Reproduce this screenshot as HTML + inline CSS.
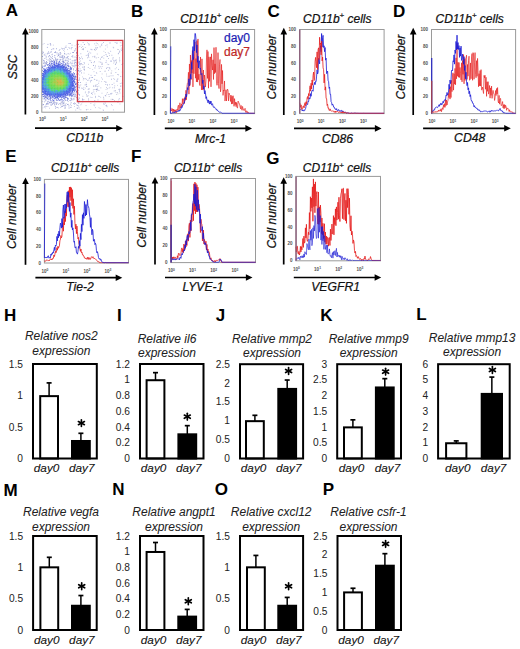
<!DOCTYPE html>
<html><head><meta charset="utf-8"><title>Figure</title>
<style>
html,body{margin:0;padding:0;background:#fff;}
body{width:520px;height:649px;overflow:hidden;}
svg{display:block;font-family:"Liberation Sans", sans-serif;}
</style></head>
<body>
<svg width="520" height="649" viewBox="0 0 520 649">
<rect width="520" height="649" fill="#fff"/>
<text x="5.7" y="16.4" font-size="17" font-weight="bold" font-style="normal" text-anchor="start" fill="#000" >A</text>
<text x="131.1" y="16.9" font-size="17" font-weight="bold" font-style="normal" text-anchor="start" fill="#000" >B</text>
<text x="267.5" y="17.2" font-size="17" font-weight="bold" font-style="normal" text-anchor="start" fill="#000" >C</text>
<text x="392.9" y="17" font-size="17" font-weight="bold" font-style="normal" text-anchor="start" fill="#000" >D</text>
<text x="5.2" y="162.1" font-size="17" font-weight="bold" font-style="normal" text-anchor="start" fill="#000" >E</text>
<text x="130.9" y="162.4" font-size="17" font-weight="bold" font-style="normal" text-anchor="start" fill="#000" >F</text>
<text x="266.3" y="163.8" font-size="17" font-weight="bold" font-style="normal" text-anchor="start" fill="#000" >G</text>
<text x="4" y="320.8" font-size="17" font-weight="bold" font-style="normal" text-anchor="start" fill="#000" >H</text>
<text x="117.1" y="320.8" font-size="17" font-weight="bold" font-style="normal" text-anchor="start" fill="#000" >I</text>
<text x="215.7" y="320.9" font-size="17" font-weight="bold" font-style="normal" text-anchor="start" fill="#000" >J</text>
<text x="320.2" y="320.9" font-size="17" font-weight="bold" font-style="normal" text-anchor="start" fill="#000" >K</text>
<text x="416.2" y="320.2" font-size="17" font-weight="bold" font-style="normal" text-anchor="start" fill="#000" >L</text>
<text x="3.5" y="496" font-size="17" font-weight="bold" font-style="normal" text-anchor="start" fill="#000" >M</text>
<text x="112.3" y="495.3" font-size="17" font-weight="bold" font-style="normal" text-anchor="start" fill="#000" >N</text>
<text x="214.8" y="495.3" font-size="17" font-weight="bold" font-style="normal" text-anchor="start" fill="#000" >O</text>
<text x="322.8" y="495.3" font-size="17" font-weight="bold" font-style="normal" text-anchor="start" fill="#000" >P</text>
<line x1="25.4" y1="32.8" x2="25.4" y2="114.5" stroke="#000" stroke-width="1.7"/>
<polygon points="25.4,27.8 22.1,34.4 28.7,34.4" fill="#000"/>
<line x1="35" y1="128.2" x2="117.8" y2="128.2" stroke="#000" stroke-width="1.7"/>
<polygon points="122.8,128.2 116.2,124.9 116.2,131.5" fill="#000"/>
<rect x="41.8" y="29.5" width="82.7" height="82.7" fill="none" stroke="#9a9a9a" stroke-width="1"/>
<text x="38.5" y="113.7" font-size="4.5" font-weight="bold" font-style="normal" text-anchor="end" fill="#505050" >0</text>
<text x="38.5" y="97.6" font-size="4.5" font-weight="bold" font-style="normal" text-anchor="end" fill="#505050" >200</text>
<text x="38.5" y="81.5" font-size="4.5" font-weight="bold" font-style="normal" text-anchor="end" fill="#505050" >400</text>
<text x="38.5" y="65.4" font-size="4.5" font-weight="bold" font-style="normal" text-anchor="end" fill="#505050" >600</text>
<text x="38.5" y="49.3" font-size="4.5" font-weight="bold" font-style="normal" text-anchor="end" fill="#505050" >800</text>
<text x="38.5" y="33.2" font-size="4.5" font-weight="bold" font-style="normal" text-anchor="end" fill="#505050" >1000</text>
<text x="42.5" y="121" font-size="4.5" font-weight="bold" fill="#505050" text-anchor="middle">10<tspan font-size="3.3" dy="-1.8">0</tspan></text>
<text x="63.3" y="121" font-size="4.5" font-weight="bold" fill="#505050" text-anchor="middle">10<tspan font-size="3.3" dy="-1.8">1</tspan></text>
<text x="84.1" y="121" font-size="4.5" font-weight="bold" fill="#505050" text-anchor="middle">10<tspan font-size="3.3" dy="-1.8">2</tspan></text>
<text x="104.9" y="121" font-size="4.5" font-weight="bold" fill="#505050" text-anchor="middle">10<tspan font-size="3.3" dy="-1.8">3</tspan></text>
<g><rect x="43.78" y="43.07" width="0.8" height="0.8" fill="#b4b7da"/><rect x="49.84" y="43.22" width="0.8" height="0.8" fill="#7880c8"/><rect x="68.63" y="43.17" width="0.8" height="0.8" fill="#6a74c8"/><rect x="69.97" y="43.18" width="0.8" height="0.8" fill="#8a92cf"/><rect x="42.5" y="43.84" width="0.8" height="0.8" fill="#b4b7da"/><rect x="47.53" y="43.89" width="0.8" height="0.8" fill="#7880c8"/><rect x="76.74" y="43.9" width="0.8" height="0.8" fill="#6a74c8"/><rect x="49.93" y="44.5" width="0.8" height="0.8" fill="#7880c8"/><rect x="50.46" y="44.51" width="0.8" height="0.8" fill="#a4a9d6"/><rect x="52.89" y="44.68" width="0.8" height="0.8" fill="#b4b7da"/><rect x="71.62" y="44.7" width="0.8" height="0.8" fill="#8a92cf"/><rect x="65.68" y="45.51" width="0.8" height="0.8" fill="#b4b7da"/><rect x="74.62" y="45.45" width="0.8" height="0.8" fill="#b4b7da"/><rect x="46.89" y="46.9" width="0.8" height="0.8" fill="#7880c8"/><rect x="64.82" y="46.8" width="0.8" height="0.8" fill="#9ca2d2"/><rect x="65.63" y="46.88" width="0.8" height="0.8" fill="#8a92cf"/><rect x="68.46" y="47.04" width="0.8" height="0.8" fill="#b4b7da"/><rect x="71.54" y="47.04" width="0.8" height="0.8" fill="#6a74c8"/><rect x="77.46" y="46.77" width="0.8" height="0.8" fill="#9ca2d2"/><rect x="61.19" y="47.77" width="0.8" height="0.8" fill="#b4b7da"/><rect x="69.38" y="47.76" width="0.8" height="0.8" fill="#8a92cf"/><rect x="76.92" y="47.52" width="0.8" height="0.8" fill="#7880c8"/><rect x="52.75" y="48.4" width="0.8" height="0.8" fill="#6a74c8"/><rect x="53.46" y="48.47" width="0.8" height="0.8" fill="#b4b7da"/><rect x="55.97" y="48.38" width="0.8" height="0.8" fill="#7880c8"/><rect x="61.97" y="48.49" width="0.8" height="0.8" fill="#7880c8"/><rect x="63.39" y="48.29" width="0.8" height="0.8" fill="#a4a9d6"/><rect x="63.95" y="48.55" width="0.8" height="0.8" fill="#8a92cf"/><rect x="70.89" y="48.45" width="0.8" height="0.8" fill="#8a92cf"/><rect x="75.22" y="48.49" width="0.8" height="0.8" fill="#6a74c8"/><rect x="51.35" y="49.27" width="0.8" height="0.8" fill="#8a92cf"/><rect x="59.48" y="49.19" width="0.8" height="0.8" fill="#9ca2d2"/><rect x="66.97" y="49.23" width="0.8" height="0.8" fill="#b4b7da"/><rect x="58.77" y="50.05" width="0.8" height="0.8" fill="#9ca2d2"/><rect x="63.33" y="50" width="0.8" height="0.8" fill="#b4b7da"/><rect x="74.67" y="49.84" width="0.8" height="0.8" fill="#9ca2d2"/><rect x="73.92" y="50.56" width="0.8" height="0.8" fill="#7880c8"/><rect x="42.46" y="51.4" width="0.8" height="0.8" fill="#9ca2d2"/><rect x="48.24" y="51.34" width="0.8" height="0.8" fill="#9ca2d2"/><rect x="50.7" y="51.31" width="0.8" height="0.8" fill="#7880c8"/><rect x="55.12" y="51.48" width="0.8" height="0.8" fill="#6a74c8"/><rect x="64.21" y="51.4" width="0.8" height="0.8" fill="#b4b7da"/><rect x="43.08" y="52" width="0.8" height="0.8" fill="#a4a9d6"/><rect x="47.74" y="52.22" width="0.8" height="0.8" fill="#a4a9d6"/><rect x="50.47" y="52.2" width="0.8" height="0.8" fill="#9ca2d2"/><rect x="54.41" y="52.05" width="0.8" height="0.8" fill="#6a74c8"/><rect x="55.17" y="52.25" width="0.8" height="0.8" fill="#9ca2d2"/><rect x="56.58" y="52.2" width="0.8" height="0.8" fill="#9ca2d2"/><rect x="59.74" y="52.03" width="0.8" height="0.8" fill="#7880c8"/><rect x="60.21" y="52.1" width="0.8" height="0.8" fill="#b4b7da"/><rect x="72.35" y="52.14" width="0.8" height="0.8" fill="#6a74c8"/><rect x="73.15" y="52.09" width="0.8" height="0.8" fill="#7880c8"/><rect x="76.01" y="52.03" width="0.8" height="0.8" fill="#6a74c8"/><rect x="42.35" y="52.78" width="0.8" height="0.8" fill="#6a74c8"/><rect x="47.67" y="53.04" width="0.8" height="0.8" fill="#7880c8"/><rect x="49.25" y="52.76" width="0.8" height="0.8" fill="#a4a9d6"/><rect x="60.41" y="53.02" width="0.8" height="0.8" fill="#9ca2d2"/><rect x="64.01" y="53.03" width="0.8" height="0.8" fill="#9ca2d2"/><rect x="67.71" y="53.03" width="0.8" height="0.8" fill="#9ca2d2"/><rect x="70.02" y="52.82" width="0.8" height="0.8" fill="#b4b7da"/><rect x="76.05" y="52.84" width="0.8" height="0.8" fill="#7880c8"/><rect x="44.72" y="53.62" width="0.8" height="0.8" fill="#b4b7da"/><rect x="46.8" y="53.55" width="0.8" height="0.8" fill="#7880c8"/><rect x="52.06" y="53.76" width="0.8" height="0.8" fill="#a4a9d6"/><rect x="56.66" y="53.56" width="0.8" height="0.8" fill="#8a92cf"/><rect x="58.04" y="53.61" width="0.8" height="0.8" fill="#7880c8"/><rect x="59.47" y="53.61" width="0.8" height="0.8" fill="#9ca2d2"/><rect x="64.01" y="53.53" width="0.8" height="0.8" fill="#8a92cf"/><rect x="65.46" y="53.65" width="0.8" height="0.8" fill="#b4b7da"/><rect x="68.66" y="53.69" width="0.8" height="0.8" fill="#a4a9d6"/><rect x="43.81" y="54.53" width="0.8" height="0.8" fill="#6a74c8"/><rect x="51.47" y="54.33" width="0.8" height="0.8" fill="#9ca2d2"/><rect x="58.13" y="54.4" width="0.8" height="0.8" fill="#b4b7da"/><rect x="59.46" y="54.51" width="0.8" height="0.8" fill="#9ca2d2"/><rect x="60.25" y="54.28" width="0.8" height="0.8" fill="#b4b7da"/><rect x="66.4" y="54.37" width="0.8" height="0.8" fill="#b4b7da"/><rect x="44.74" y="55.23" width="0.8" height="0.8" fill="#b4b7da"/><rect x="49.12" y="55.25" width="0.8" height="0.8" fill="#6a74c8"/><rect x="54.41" y="55.12" width="0.8" height="0.8" fill="#6a74c8"/><rect x="57.98" y="55.17" width="0.8" height="0.8" fill="#6a74c8"/><rect x="61.74" y="55.27" width="0.8" height="0.8" fill="#9ca2d2"/><rect x="62.68" y="55.2" width="0.8" height="0.8" fill="#b4b7da"/><rect x="72.38" y="55.1" width="0.8" height="0.8" fill="#a4a9d6"/><rect x="76.14" y="55.2" width="0.8" height="0.8" fill="#a4a9d6"/><rect x="77.74" y="55.14" width="0.8" height="0.8" fill="#b4b7da"/><rect x="42.22" y="55.97" width="0.8" height="0.8" fill="#6a74c8"/><rect x="46.14" y="55.83" width="0.8" height="0.8" fill="#a4a9d6"/><rect x="48.25" y="55.94" width="0.8" height="0.8" fill="#a4a9d6"/><rect x="49.95" y="55.92" width="0.8" height="0.8" fill="#a4a9d6"/><rect x="52.08" y="55.9" width="0.8" height="0.8" fill="#8a92cf"/><rect x="57.23" y="55.82" width="0.8" height="0.8" fill="#b4b7da"/><rect x="59.52" y="56" width="0.8" height="0.8" fill="#a4a9d6"/><rect x="61.88" y="55.77" width="0.8" height="0.8" fill="#7880c8"/><rect x="64.16" y="55.94" width="0.8" height="0.8" fill="#7880c8"/><rect x="67.79" y="55.97" width="0.8" height="0.8" fill="#9ca2d2"/><rect x="71.61" y="55.98" width="0.8" height="0.8" fill="#6a74c8"/><rect x="45.38" y="56.58" width="0.8" height="0.8" fill="#b4b7da"/><rect x="48.41" y="56.56" width="0.8" height="0.8" fill="#b4b7da"/><rect x="54.31" y="56.76" width="0.8" height="0.8" fill="#8a92cf"/><rect x="59.64" y="56.69" width="0.8" height="0.8" fill="#7880c8"/><rect x="61.16" y="56.77" width="0.8" height="0.8" fill="#6a74c8"/><rect x="61.95" y="56.67" width="0.8" height="0.8" fill="#a4a9d6"/><rect x="62.57" y="56.61" width="0.8" height="0.8" fill="#6a74c8"/><rect x="67.05" y="56.63" width="0.8" height="0.8" fill="#6a74c8"/><rect x="72.33" y="56.6" width="0.8" height="0.8" fill="#a4a9d6"/><rect x="73.79" y="56.64" width="0.8" height="0.8" fill="#9ca2d2"/><rect x="75.47" y="56.67" width="0.8" height="0.8" fill="#8a92cf"/><rect x="46.25" y="57.36" width="0.8" height="0.8" fill="#b4b7da"/><rect x="50.54" y="57.31" width="0.8" height="0.8" fill="#b4b7da"/><rect x="51.35" y="57.45" width="0.8" height="0.8" fill="#8a92cf"/><rect x="55.15" y="57.55" width="0.8" height="0.8" fill="#b4b7da"/><rect x="59.75" y="57.28" width="0.8" height="0.8" fill="#9ca2d2"/><rect x="62.49" y="57.38" width="0.8" height="0.8" fill="#8a92cf"/><rect x="64.09" y="57.33" width="0.8" height="0.8" fill="#9ca2d2"/><rect x="64.7" y="57.5" width="0.8" height="0.8" fill="#a4a9d6"/><rect x="66.21" y="57.47" width="0.8" height="0.8" fill="#7880c8"/><rect x="67.13" y="57.27" width="0.8" height="0.8" fill="#a4a9d6"/><rect x="76.03" y="57.41" width="0.8" height="0.8" fill="#8a92cf"/><rect x="76.78" y="57.48" width="0.8" height="0.8" fill="#9ca2d2"/><rect x="79.04" y="57.36" width="0.8" height="0.8" fill="#7880c8"/><rect x="44.46" y="58.15" width="0.8" height="0.8" fill="#8a92cf"/><rect x="49" y="58.09" width="0.8" height="0.8" fill="#a4a9d6"/><rect x="52.13" y="58.03" width="0.8" height="0.8" fill="#8a92cf"/><rect x="55.22" y="58.24" width="0.8" height="0.8" fill="#a4a9d6"/><rect x="62.72" y="58.22" width="0.8" height="0.8" fill="#6a74c8"/><rect x="67.71" y="58.01" width="0.8" height="0.8" fill="#8a92cf"/><rect x="42.47" y="58.88" width="0.8" height="0.8" fill="#b4b7da"/><rect x="45.99" y="58.87" width="0.8" height="0.8" fill="#b4b7da"/><rect x="49.89" y="58.86" width="0.8" height="0.8" fill="#7880c8"/><rect x="55.04" y="58.85" width="0.8" height="0.8" fill="#8a92cf"/><rect x="56.53" y="58.82" width="0.8" height="0.8" fill="#7880c8"/><rect x="57.44" y="58.82" width="0.8" height="0.8" fill="#7880c8"/><rect x="59.71" y="59.03" width="0.8" height="0.8" fill="#6a74c8"/><rect x="60.46" y="58.97" width="0.8" height="0.8" fill="#9ca2d2"/><rect x="68.56" y="58.86" width="0.8" height="0.8" fill="#8a92cf"/><rect x="70.17" y="58.81" width="0.8" height="0.8" fill="#9ca2d2"/><rect x="76.11" y="58.78" width="0.8" height="0.8" fill="#9ca2d2"/><rect x="79.19" y="58.93" width="0.8" height="0.8" fill="#b4b7da"/><rect x="47.54" y="59.61" width="0.8" height="0.8" fill="#9ca2d2"/><rect x="48.49" y="59.53" width="0.8" height="0.8" fill="#b4b7da"/><rect x="49.07" y="59.74" width="0.8" height="0.8" fill="#a4a9d6"/><rect x="50.66" y="59.74" width="0.8" height="0.8" fill="#7880c8"/><rect x="52.88" y="59.72" width="0.8" height="0.8" fill="#7880c8"/><rect x="53.48" y="59.77" width="0.8" height="0.8" fill="#6a74c8"/><rect x="55.11" y="59.66" width="0.8" height="0.8" fill="#a4a9d6"/><rect x="55.83" y="59.58" width="0.8" height="0.8" fill="#b4b7da"/><rect x="56.73" y="59.61" width="0.8" height="0.8" fill="#6a74c8"/><rect x="61.94" y="59.56" width="0.8" height="0.8" fill="#7880c8"/><rect x="62.74" y="59.54" width="0.8" height="0.8" fill="#7880c8"/><rect x="64.88" y="59.75" width="0.8" height="0.8" fill="#7880c8"/><rect x="65.6" y="59.77" width="0.8" height="0.8" fill="#7880c8"/><rect x="66.97" y="59.8" width="0.8" height="0.8" fill="#b4b7da"/><rect x="74.54" y="59.54" width="0.8" height="0.8" fill="#7880c8"/><rect x="75.45" y="59.74" width="0.8" height="0.8" fill="#6a74c8"/><rect x="42.99" y="60.36" width="0.8" height="0.8" fill="#6a74c8"/><rect x="43.88" y="60.37" width="0.8" height="0.8" fill="#a4a9d6"/><rect x="51.41" y="60.4" width="0.8" height="0.8" fill="#6a74c8"/><rect x="53.73" y="60.31" width="0.8" height="0.8" fill="#b4b7da"/><rect x="55.86" y="60.36" width="0.8" height="0.8" fill="#6a74c8"/><rect x="59.65" y="60.36" width="0.8" height="0.8" fill="#6a74c8"/><rect x="63.42" y="60.44" width="0.8" height="0.8" fill="#a4a9d6"/><rect x="64.75" y="60.5" width="0.8" height="0.8" fill="#b4b7da"/><rect x="66.48" y="60.4" width="0.8" height="0.8" fill="#b4b7da"/><rect x="67.81" y="60.42" width="0.8" height="0.8" fill="#b4b7da"/><rect x="71.67" y="60.48" width="0.8" height="0.8" fill="#b4b7da"/><rect x="72.48" y="60.47" width="0.8" height="0.8" fill="#9ca2d2"/><rect x="73.77" y="60.34" width="0.8" height="0.8" fill="#7880c8"/><rect x="74.68" y="60.54" width="0.8" height="0.8" fill="#a4a9d6"/><rect x="43.99" y="61.05" width="0.8" height="0.8" fill="#b4b7da"/><rect x="46.11" y="61.07" width="0.8" height="0.8" fill="#8a92cf"/><rect x="49.13" y="61.27" width="0.8" height="0.8" fill="#9ca2d2"/><rect x="49.96" y="61.16" width="0.8" height="0.8" fill="#8a92cf"/><rect x="50.61" y="61.17" width="0.8" height="0.8" fill="#b4b7da"/><rect x="51.24" y="61.09" width="0.8" height="0.8" fill="#7880c8"/><rect x="52.02" y="61.15" width="0.8" height="0.8" fill="#4a58d0"/><rect x="53.66" y="61.14" width="0.8" height="0.8" fill="#3a48d0"/><rect x="54.27" y="61.3" width="0.8" height="0.8" fill="#4a58d0"/><rect x="56.48" y="61.04" width="0.8" height="0.8" fill="#5560c8"/><rect x="58.99" y="61.03" width="0.8" height="0.8" fill="#3040d0"/><rect x="61.83" y="61.01" width="0.8" height="0.8" fill="#7880c8"/><rect x="62.66" y="61.11" width="0.8" height="0.8" fill="#6a74c8"/><rect x="63.24" y="61.29" width="0.8" height="0.8" fill="#6a74c8"/><rect x="67.96" y="61.06" width="0.8" height="0.8" fill="#9ca2d2"/><rect x="44.52" y="62.04" width="0.8" height="0.8" fill="#8a92cf"/><rect x="45.4" y="62.01" width="0.8" height="0.8" fill="#b4b7da"/><rect x="46.11" y="61.77" width="0.8" height="0.8" fill="#8a92cf"/><rect x="46.89" y="62" width="0.8" height="0.8" fill="#a4a9d6"/><rect x="53.74" y="62" width="0.8" height="0.8" fill="#4a58d0"/><rect x="54.35" y="61.78" width="0.8" height="0.8" fill="#3040d0"/><rect x="55.92" y="61.87" width="0.8" height="0.8" fill="#3040d0"/><rect x="58.07" y="61.77" width="0.8" height="0.8" fill="#5560c8"/><rect x="59.56" y="62" width="0.8" height="0.8" fill="#5560c8"/><rect x="63.48" y="61.84" width="0.8" height="0.8" fill="#7880c8"/><rect x="64.03" y="61.98" width="0.8" height="0.8" fill="#9ca2d2"/><rect x="66.95" y="61.83" width="0.8" height="0.8" fill="#7880c8"/><rect x="70.04" y="61.76" width="0.8" height="0.8" fill="#9ca2d2"/><rect x="74.47" y="61.92" width="0.8" height="0.8" fill="#6a74c8"/><rect x="75.41" y="61.95" width="0.8" height="0.8" fill="#7880c8"/><rect x="43.2" y="62.75" width="0.8" height="0.8" fill="#6a74c8"/><rect x="43.87" y="62.64" width="0.8" height="0.8" fill="#9ca2d2"/><rect x="46.01" y="62.7" width="0.8" height="0.8" fill="#a4a9d6"/><rect x="49.06" y="62.74" width="0.8" height="0.8" fill="#5560c8"/><rect x="49.81" y="62.54" width="0.8" height="0.8" fill="#5560c8"/><rect x="51.47" y="62.57" width="0.8" height="0.8" fill="#3040d0"/><rect x="53.45" y="62.5" width="0.8" height="0.8" fill="#2335d7"/><rect x="55.84" y="62.65" width="0.8" height="0.8" fill="#4a58d0"/><rect x="57.44" y="62.72" width="0.8" height="0.8" fill="#6470cc"/><rect x="59.53" y="62.61" width="0.8" height="0.8" fill="#4a58d0"/><rect x="61.88" y="62.72" width="0.8" height="0.8" fill="#4a58d0"/><rect x="63.2" y="62.57" width="0.8" height="0.8" fill="#3040d0"/><rect x="65.68" y="62.57" width="0.8" height="0.8" fill="#9ca2d2"/><rect x="68.49" y="62.8" width="0.8" height="0.8" fill="#7880c8"/><rect x="70.7" y="62.75" width="0.8" height="0.8" fill="#6a74c8"/><rect x="72.29" y="62.71" width="0.8" height="0.8" fill="#7880c8"/><rect x="76.06" y="62.69" width="0.8" height="0.8" fill="#a4a9d6"/><rect x="79.14" y="62.61" width="0.8" height="0.8" fill="#a4a9d6"/><rect x="44.73" y="63.45" width="0.8" height="0.8" fill="#7880c8"/><rect x="45.49" y="63.44" width="0.8" height="0.8" fill="#8a92cf"/><rect x="46.2" y="63.5" width="0.8" height="0.8" fill="#6a74c8"/><rect x="49" y="63.42" width="0.8" height="0.8" fill="#3040d0"/><rect x="51.2" y="63.25" width="0.8" height="0.8" fill="#223ce1"/><rect x="52.12" y="63.4" width="0.8" height="0.8" fill="#5560c8"/><rect x="53.61" y="63.28" width="0.8" height="0.8" fill="#3040d0"/><rect x="54.43" y="63.34" width="0.8" height="0.8" fill="#3a48d0"/><rect x="55.85" y="63.44" width="0.8" height="0.8" fill="#3040d0"/><rect x="56.45" y="63.25" width="0.8" height="0.8" fill="#2335d7"/><rect x="57.95" y="63.25" width="0.8" height="0.8" fill="#2335d7"/><rect x="59.58" y="63.39" width="0.8" height="0.8" fill="#6470cc"/><rect x="60.95" y="63.25" width="0.8" height="0.8" fill="#2336d9"/><rect x="64.95" y="63.35" width="0.8" height="0.8" fill="#3040d0"/><rect x="66.5" y="63.47" width="0.8" height="0.8" fill="#a4a9d6"/><rect x="67.08" y="63.42" width="0.8" height="0.8" fill="#6a74c8"/><rect x="67.7" y="63.3" width="0.8" height="0.8" fill="#a4a9d6"/><rect x="70.82" y="63.5" width="0.8" height="0.8" fill="#b4b7da"/><rect x="73.93" y="63.34" width="0.8" height="0.8" fill="#6a74c8"/><rect x="46.82" y="64.18" width="0.8" height="0.8" fill="#6470cc"/><rect x="48.26" y="64.23" width="0.8" height="0.8" fill="#5560c8"/><rect x="50.7" y="64.15" width="0.8" height="0.8" fill="#3040d0"/><rect x="53.45" y="64" width="0.8" height="0.8" fill="#223add"/><rect x="54.2" y="64" width="0.8" height="0.8" fill="#2337da"/><rect x="57.47" y="64.23" width="0.8" height="0.8" fill="#6470cc"/><rect x="58.07" y="64.09" width="0.8" height="0.8" fill="#4a58d0"/><rect x="58.7" y="64" width="0.8" height="0.8" fill="#223add"/><rect x="59.45" y="64" width="0.8" height="0.8" fill="#2338da"/><rect x="60.32" y="64.14" width="0.8" height="0.8" fill="#5560c8"/><rect x="62.55" y="64.04" width="0.8" height="0.8" fill="#6470cc"/><rect x="63.47" y="64" width="0.8" height="0.8" fill="#4a58d0"/><rect x="64.77" y="64.23" width="0.8" height="0.8" fill="#4a58d0"/><rect x="65.55" y="64.13" width="0.8" height="0.8" fill="#6470cc"/><rect x="67.82" y="64.21" width="0.8" height="0.8" fill="#b4b7da"/><rect x="79.12" y="64.14" width="0.8" height="0.8" fill="#a4a9d6"/><rect x="43.75" y="64.9" width="0.8" height="0.8" fill="#9ca2d2"/><rect x="44.52" y="64.91" width="0.8" height="0.8" fill="#a4a9d6"/><rect x="46.95" y="64.76" width="0.8" height="0.8" fill="#5560c8"/><rect x="47.54" y="64.8" width="0.8" height="0.8" fill="#6470cc"/><rect x="49.17" y="64.81" width="0.8" height="0.8" fill="#3a48d0"/><rect x="50.45" y="64.75" width="0.8" height="0.8" fill="#2337da"/><rect x="51.96" y="64.8" width="0.8" height="0.8" fill="#5560c8"/><rect x="53.45" y="64.75" width="0.8" height="0.8" fill="#2336d8"/><rect x="54.2" y="64.75" width="0.8" height="0.8" fill="#2338db"/><rect x="54.95" y="64.75" width="0.8" height="0.8" fill="#2338db"/><rect x="55.7" y="64.75" width="0.8" height="0.8" fill="#223de2"/><rect x="56.45" y="64.75" width="0.8" height="0.8" fill="#2337da"/><rect x="57.28" y="64.92" width="0.8" height="0.8" fill="#3040d0"/><rect x="57.95" y="64.75" width="0.8" height="0.8" fill="#223ce1"/><rect x="58.7" y="64.75" width="0.8" height="0.8" fill="#2239dc"/><rect x="61.83" y="64.79" width="0.8" height="0.8" fill="#3040d0"/><rect x="62.45" y="64.75" width="0.8" height="0.8" fill="#223ade"/><rect x="64.75" y="64.85" width="0.8" height="0.8" fill="#6470cc"/><rect x="65.65" y="64.8" width="0.8" height="0.8" fill="#4a58d0"/><rect x="67.13" y="65.02" width="0.8" height="0.8" fill="#4a58d0"/><rect x="67.79" y="64.91" width="0.8" height="0.8" fill="#6470cc"/><rect x="71.62" y="64.77" width="0.8" height="0.8" fill="#8a92cf"/><rect x="74.48" y="64.77" width="0.8" height="0.8" fill="#6a74c8"/><rect x="75.49" y="64.84" width="0.8" height="0.8" fill="#7880c8"/><rect x="76.2" y="64.79" width="0.8" height="0.8" fill="#a4a9d6"/><rect x="42.21" y="65.75" width="0.8" height="0.8" fill="#6a74c8"/><rect x="45.2" y="65.5" width="0.8" height="0.8" fill="#2337da"/><rect x="48.95" y="65.5" width="0.8" height="0.8" fill="#2239dc"/><rect x="49.7" y="65.5" width="0.8" height="0.8" fill="#2239dc"/><rect x="50.52" y="65.69" width="0.8" height="0.8" fill="#6470cc"/><rect x="51.46" y="65.67" width="0.8" height="0.8" fill="#5560c8"/><rect x="51.95" y="65.5" width="0.8" height="0.8" fill="#2241e7"/><rect x="54.2" y="65.5" width="0.8" height="0.8" fill="#2243e7"/><rect x="54.95" y="65.5" width="0.8" height="0.8" fill="#2336d9"/><rect x="55.7" y="65.5" width="0.8" height="0.8" fill="#2336d8"/><rect x="56.45" y="65.5" width="0.8" height="0.8" fill="#2239dd"/><rect x="57.2" y="65.5" width="0.8" height="0.8" fill="#2336d8"/><rect x="58.02" y="65.53" width="0.8" height="0.8" fill="#3a48d0"/><rect x="58.7" y="65.5" width="0.8" height="0.8" fill="#2338db"/><rect x="59.45" y="65.5" width="0.8" height="0.8" fill="#2336d9"/><rect x="60.2" y="65.5" width="0.8" height="0.8" fill="#2239dc"/><rect x="60.95" y="65.5" width="0.8" height="0.8" fill="#2338db"/><rect x="61.7" y="65.5" width="0.8" height="0.8" fill="#2335d7"/><rect x="62.45" y="65.5" width="0.8" height="0.8" fill="#2335d7"/><rect x="63.28" y="65.69" width="0.8" height="0.8" fill="#3a48d0"/><rect x="64.01" y="65.55" width="0.8" height="0.8" fill="#3040d0"/><rect x="67.97" y="65.62" width="0.8" height="0.8" fill="#4a58d0"/><rect x="68.53" y="65.67" width="0.8" height="0.8" fill="#3a48d0"/><rect x="72.21" y="65.57" width="0.8" height="0.8" fill="#9ca2d2"/><rect x="73.02" y="65.6" width="0.8" height="0.8" fill="#7880c8"/><rect x="43.7" y="66.25" width="0.8" height="0.8" fill="#2336d8"/><rect x="48.24" y="66.39" width="0.8" height="0.8" fill="#5560c8"/><rect x="50.45" y="66.25" width="0.8" height="0.8" fill="#2337da"/><rect x="51.95" y="66.25" width="0.8" height="0.8" fill="#223bdf"/><rect x="52.7" y="66.25" width="0.8" height="0.8" fill="#2240e5"/><rect x="53.45" y="66.25" width="0.8" height="0.8" fill="#2338db"/><rect x="54.2" y="66.25" width="0.8" height="0.8" fill="#2251e6"/><rect x="55.05" y="66.47" width="0.8" height="0.8" fill="#3040d0"/><rect x="55.7" y="66.25" width="0.8" height="0.8" fill="#2240e5"/><rect x="56.45" y="66.25" width="0.8" height="0.8" fill="#2337d9"/><rect x="57.2" y="66.25" width="0.8" height="0.8" fill="#223ee3"/><rect x="57.95" y="66.25" width="0.8" height="0.8" fill="#2336d9"/><rect x="58.7" y="66.25" width="0.8" height="0.8" fill="#2239dd"/><rect x="59.45" y="66.25" width="0.8" height="0.8" fill="#2255e5"/><rect x="60.2" y="66.25" width="0.8" height="0.8" fill="#223bdf"/><rect x="60.95" y="66.25" width="0.8" height="0.8" fill="#2239dc"/><rect x="61.7" y="66.25" width="0.8" height="0.8" fill="#223de2"/><rect x="62.56" y="66.49" width="0.8" height="0.8" fill="#3a48d0"/><rect x="63.2" y="66.25" width="0.8" height="0.8" fill="#223ce1"/><rect x="63.95" y="66.25" width="0.8" height="0.8" fill="#223bdf"/><rect x="64.95" y="66.52" width="0.8" height="0.8" fill="#3040d0"/><rect x="66.38" y="66.44" width="0.8" height="0.8" fill="#3040d0"/><rect x="67.86" y="66.31" width="0.8" height="0.8" fill="#4a58d0"/><rect x="68.64" y="66.4" width="0.8" height="0.8" fill="#4a58d0"/><rect x="70.2" y="66.48" width="0.8" height="0.8" fill="#6a74c8"/><rect x="73.97" y="66.46" width="0.8" height="0.8" fill="#b4b7da"/><rect x="74.7" y="66.54" width="0.8" height="0.8" fill="#9ca2d2"/><rect x="79.16" y="66.44" width="0.8" height="0.8" fill="#b4b7da"/><rect x="42.21" y="67.04" width="0.8" height="0.8" fill="#4a58d0"/><rect x="46.7" y="67" width="0.8" height="0.8" fill="#223ce0"/><rect x="48.2" y="67" width="0.8" height="0.8" fill="#223ce0"/><rect x="48.96" y="67.27" width="0.8" height="0.8" fill="#4a58d0"/><rect x="50.45" y="67" width="0.8" height="0.8" fill="#223de2"/><rect x="51.2" y="67" width="0.8" height="0.8" fill="#223bdf"/><rect x="51.95" y="67.16" width="0.8" height="0.8" fill="#3040d0"/><rect x="52.7" y="67" width="0.8" height="0.8" fill="#2240e6"/><rect x="53.45" y="67" width="0.8" height="0.8" fill="#2338da"/><rect x="54.2" y="67" width="0.8" height="0.8" fill="#2336d9"/><rect x="54.95" y="67" width="0.8" height="0.8" fill="#2369e3"/><rect x="55.7" y="67" width="0.8" height="0.8" fill="#223bde"/><rect x="57.2" y="67" width="0.8" height="0.8" fill="#223ce0"/><rect x="57.95" y="67" width="0.8" height="0.8" fill="#2366e3"/><rect x="58.7" y="67" width="0.8" height="0.8" fill="#223ee3"/><rect x="59.45" y="67" width="0.8" height="0.8" fill="#223de2"/><rect x="60.2" y="67" width="0.8" height="0.8" fill="#2262e4"/><rect x="60.95" y="67" width="0.8" height="0.8" fill="#225ee4"/><rect x="61.7" y="67" width="0.8" height="0.8" fill="#2338db"/><rect x="62.45" y="67" width="0.8" height="0.8" fill="#2336d9"/><rect x="63.2" y="67" width="0.8" height="0.8" fill="#2336d8"/><rect x="64" y="67.15" width="0.8" height="0.8" fill="#3040d0"/><rect x="64.99" y="67.28" width="0.8" height="0.8" fill="#5560c8"/><rect x="65.73" y="67.12" width="0.8" height="0.8" fill="#5560c8"/><rect x="66.3" y="67.02" width="0.8" height="0.8" fill="#3a48d0"/><rect x="70.15" y="67.26" width="0.8" height="0.8" fill="#3a48d0"/><rect x="70.87" y="67.16" width="0.8" height="0.8" fill="#a4a9d6"/><rect x="71.52" y="67.2" width="0.8" height="0.8" fill="#b4b7da"/><rect x="42.95" y="67.98" width="0.8" height="0.8" fill="#6470cc"/><rect x="48.2" y="67.75" width="0.8" height="0.8" fill="#2239dc"/><rect x="48.95" y="67.75" width="0.8" height="0.8" fill="#2337da"/><rect x="49.7" y="67.75" width="0.8" height="0.8" fill="#2239dd"/><rect x="50.45" y="67.75" width="0.8" height="0.8" fill="#223ade"/><rect x="51.2" y="67.75" width="0.8" height="0.8" fill="#2241e7"/><rect x="51.95" y="67.75" width="0.8" height="0.8" fill="#223ce0"/><rect x="52.7" y="67.75" width="0.8" height="0.8" fill="#2249e7"/><rect x="53.45" y="67.75" width="0.8" height="0.8" fill="#223de1"/><rect x="54.2" y="67.75" width="0.8" height="0.8" fill="#223ee3"/><rect x="54.95" y="67.75" width="0.8" height="0.8" fill="#223ee3"/><rect x="55.7" y="67.75" width="0.8" height="0.8" fill="#2374e2"/><rect x="56.45" y="67.75" width="0.8" height="0.8" fill="#2244e7"/><rect x="57.2" y="67.75" width="0.8" height="0.8" fill="#223ce0"/><rect x="57.95" y="67.75" width="0.8" height="0.8" fill="#2247e7"/><rect x="58.7" y="67.75" width="0.8" height="0.8" fill="#2246e7"/><rect x="59.45" y="67.75" width="0.8" height="0.8" fill="#2293d0"/><rect x="60.2" y="67.75" width="0.8" height="0.8" fill="#223ee3"/><rect x="60.95" y="67.75" width="0.8" height="0.8" fill="#2242e7"/><rect x="61.7" y="67.75" width="0.8" height="0.8" fill="#2240e5"/><rect x="62.45" y="67.75" width="0.8" height="0.8" fill="#2255e5"/><rect x="63.2" y="67.75" width="0.8" height="0.8" fill="#2240e6"/><rect x="64.7" y="67.75" width="0.8" height="0.8" fill="#2337da"/><rect x="65.45" y="67.75" width="0.8" height="0.8" fill="#2240e6"/><rect x="66.46" y="67.95" width="0.8" height="0.8" fill="#5560c8"/><rect x="68.58" y="67.93" width="0.8" height="0.8" fill="#3a48d0"/><rect x="70.13" y="67.82" width="0.8" height="0.8" fill="#4a58d0"/><rect x="70.96" y="67.99" width="0.8" height="0.8" fill="#3a48d0"/><rect x="73.24" y="68" width="0.8" height="0.8" fill="#a4a9d6"/><rect x="76.73" y="67.8" width="0.8" height="0.8" fill="#a4a9d6"/><rect x="77.56" y="67.83" width="0.8" height="0.8" fill="#b4b7da"/><rect x="43.79" y="68.77" width="0.8" height="0.8" fill="#5560c8"/><rect x="44.45" y="68.5" width="0.8" height="0.8" fill="#2239dd"/><rect x="45.95" y="68.5" width="0.8" height="0.8" fill="#2240e5"/><rect x="47.45" y="68.5" width="0.8" height="0.8" fill="#2337d9"/><rect x="49.03" y="68.57" width="0.8" height="0.8" fill="#3040d0"/><rect x="49.7" y="68.5" width="0.8" height="0.8" fill="#2338db"/><rect x="50.45" y="68.5" width="0.8" height="0.8" fill="#223fe5"/><rect x="51.2" y="68.5" width="0.8" height="0.8" fill="#2197cb"/><rect x="51.95" y="68.5" width="0.8" height="0.8" fill="#224ce6"/><rect x="52.7" y="68.5" width="0.8" height="0.8" fill="#2251e6"/><rect x="53.45" y="68.5" width="0.8" height="0.8" fill="#2242e7"/><rect x="54.2" y="68.5" width="0.8" height="0.8" fill="#2365e3"/><rect x="54.95" y="68.5" width="0.8" height="0.8" fill="#2389dd"/><rect x="55.7" y="68.5" width="0.8" height="0.8" fill="#225be5"/><rect x="56.45" y="68.5" width="0.8" height="0.8" fill="#237ce1"/><rect x="57.2" y="68.5" width="0.8" height="0.8" fill="#236ce3"/><rect x="57.95" y="68.5" width="0.8" height="0.8" fill="#237ce1"/><rect x="58.7" y="68.5" width="0.8" height="0.8" fill="#2258e5"/><rect x="59.45" y="68.5" width="0.8" height="0.8" fill="#2367e3"/><rect x="60.2" y="68.5" width="0.8" height="0.8" fill="#223ee3"/><rect x="60.95" y="68.5" width="0.8" height="0.8" fill="#2197cb"/><rect x="61.7" y="68.5" width="0.8" height="0.8" fill="#2256e5"/><rect x="62.45" y="68.5" width="0.8" height="0.8" fill="#2337da"/><rect x="63.2" y="68.5" width="0.8" height="0.8" fill="#2377e1"/><rect x="63.95" y="68.5" width="0.8" height="0.8" fill="#2336d9"/><rect x="64.7" y="68.5" width="0.8" height="0.8" fill="#223add"/><rect x="65.45" y="68.5" width="0.8" height="0.8" fill="#2337da"/><rect x="66.95" y="68.5" width="0.8" height="0.8" fill="#2338db"/><rect x="67.7" y="68.5" width="0.8" height="0.8" fill="#2239dc"/><rect x="70.09" y="68.73" width="0.8" height="0.8" fill="#3040d0"/><rect x="70.79" y="68.65" width="0.8" height="0.8" fill="#3040d0"/><rect x="76.23" y="68.6" width="0.8" height="0.8" fill="#a4a9d6"/><rect x="76.75" y="68.74" width="0.8" height="0.8" fill="#b4b7da"/><rect x="77.73" y="68.54" width="0.8" height="0.8" fill="#8a92cf"/><rect x="43.7" y="69.25" width="0.8" height="0.8" fill="#2338db"/><rect x="45.2" y="69.25" width="0.8" height="0.8" fill="#223add"/><rect x="46.92" y="69.28" width="0.8" height="0.8" fill="#3040d0"/><rect x="47.45" y="69.25" width="0.8" height="0.8" fill="#2240e6"/><rect x="48.2" y="69.25" width="0.8" height="0.8" fill="#2241e7"/><rect x="48.95" y="69.25" width="0.8" height="0.8" fill="#223fe4"/><rect x="49.7" y="69.25" width="0.8" height="0.8" fill="#2262e4"/><rect x="50.45" y="69.25" width="0.8" height="0.8" fill="#2371e2"/><rect x="51.2" y="69.25" width="0.8" height="0.8" fill="#236ce3"/><rect x="51.95" y="69.25" width="0.8" height="0.8" fill="#2384e0"/><rect x="52.7" y="69.25" width="0.8" height="0.8" fill="#224be6"/><rect x="53.45" y="69.25" width="0.8" height="0.8" fill="#2291d3"/><rect x="54.2" y="69.25" width="0.8" height="0.8" fill="#2256e5"/><rect x="54.95" y="69.25" width="0.8" height="0.8" fill="#209cc5"/><rect x="55.7" y="69.25" width="0.8" height="0.8" fill="#2367e3"/><rect x="56.45" y="69.25" width="0.8" height="0.8" fill="#1ea8b5"/><rect x="57.2" y="69.25" width="0.8" height="0.8" fill="#228ed6"/><rect x="57.95" y="69.25" width="0.8" height="0.8" fill="#236be3"/><rect x="58.7" y="69.25" width="0.8" height="0.8" fill="#2291d2"/><rect x="59.45" y="69.25" width="0.8" height="0.8" fill="#2243e7"/><rect x="60.2" y="69.25" width="0.8" height="0.8" fill="#2247e7"/><rect x="60.95" y="69.25" width="0.8" height="0.8" fill="#2196cc"/><rect x="61.7" y="69.25" width="0.8" height="0.8" fill="#236ee2"/><rect x="62.45" y="69.25" width="0.8" height="0.8" fill="#2366e3"/><rect x="63.2" y="69.25" width="0.8" height="0.8" fill="#223bdf"/><rect x="63.95" y="69.25" width="0.8" height="0.8" fill="#223de2"/><rect x="64.7" y="69.25" width="0.8" height="0.8" fill="#2239dc"/><rect x="65.46" y="69.31" width="0.8" height="0.8" fill="#3a48d0"/><rect x="66.2" y="69.25" width="0.8" height="0.8" fill="#2240e6"/><rect x="66.95" y="69.25" width="0.8" height="0.8" fill="#2337da"/><rect x="69.4" y="69.45" width="0.8" height="0.8" fill="#5560c8"/><rect x="70.76" y="69.39" width="0.8" height="0.8" fill="#3a48d0"/><rect x="73.01" y="69.43" width="0.8" height="0.8" fill="#6a74c8"/><rect x="76.19" y="69.46" width="0.8" height="0.8" fill="#a4a9d6"/><rect x="42.24" y="70.2" width="0.8" height="0.8" fill="#6470cc"/><rect x="43.97" y="70.08" width="0.8" height="0.8" fill="#3040d0"/><rect x="44.45" y="70" width="0.8" height="0.8" fill="#223ce0"/><rect x="45.2" y="70" width="0.8" height="0.8" fill="#2338da"/><rect x="45.95" y="70" width="0.8" height="0.8" fill="#2336d8"/><rect x="47.45" y="70" width="0.8" height="0.8" fill="#223fe5"/><rect x="48.2" y="70" width="0.8" height="0.8" fill="#223de1"/><rect x="48.95" y="70" width="0.8" height="0.8" fill="#2239dc"/><rect x="49.7" y="70" width="0.8" height="0.8" fill="#2338db"/><rect x="50.45" y="70" width="0.8" height="0.8" fill="#2383e0"/><rect x="51.2" y="70" width="0.8" height="0.8" fill="#2252e6"/><rect x="51.95" y="70" width="0.8" height="0.8" fill="#2389dd"/><rect x="52.7" y="70" width="0.8" height="0.8" fill="#1cb3a6"/><rect x="53.45" y="70" width="0.8" height="0.8" fill="#2377e1"/><rect x="54.2" y="70" width="0.8" height="0.8" fill="#2242e7"/><rect x="54.95" y="70" width="0.8" height="0.8" fill="#1db0a9"/><rect x="55.7" y="70" width="0.8" height="0.8" fill="#21be83"/><rect x="56.45" y="70" width="0.8" height="0.8" fill="#238bdb"/><rect x="57.2" y="70" width="0.8" height="0.8" fill="#209ec2"/><rect x="57.95" y="70" width="0.8" height="0.8" fill="#21be82"/><rect x="58.7" y="70" width="0.8" height="0.8" fill="#1db1a8"/><rect x="59.45" y="70" width="0.8" height="0.8" fill="#1fa5b8"/><rect x="60.2" y="70" width="0.8" height="0.8" fill="#1fa1be"/><rect x="60.95" y="70" width="0.8" height="0.8" fill="#236be3"/><rect x="61.7" y="70" width="0.8" height="0.8" fill="#2377e1"/><rect x="62.45" y="70" width="0.8" height="0.8" fill="#2365e3"/><rect x="63.2" y="70" width="0.8" height="0.8" fill="#2258e5"/><rect x="63.95" y="70" width="0.8" height="0.8" fill="#2250e6"/><rect x="64.7" y="70" width="0.8" height="0.8" fill="#2337da"/><rect x="65.45" y="70" width="0.8" height="0.8" fill="#223ce0"/><rect x="66.2" y="70" width="0.8" height="0.8" fill="#223ade"/><rect x="66.95" y="70" width="0.8" height="0.8" fill="#223ce1"/><rect x="68" y="70.18" width="0.8" height="0.8" fill="#4a58d0"/><rect x="68.68" y="70.29" width="0.8" height="0.8" fill="#3040d0"/><rect x="69.25" y="70.28" width="0.8" height="0.8" fill="#5560c8"/><rect x="75.3" y="70.19" width="0.8" height="0.8" fill="#8a92cf"/><rect x="76.99" y="70.02" width="0.8" height="0.8" fill="#9ca2d2"/><rect x="77.56" y="70.22" width="0.8" height="0.8" fill="#a4a9d6"/><rect x="78.21" y="70.13" width="0.8" height="0.8" fill="#6a74c8"/><rect x="42.96" y="71.01" width="0.8" height="0.8" fill="#3a48d0"/><rect x="43.7" y="70.75" width="0.8" height="0.8" fill="#224ce6"/><rect x="44.45" y="70.75" width="0.8" height="0.8" fill="#2337da"/><rect x="45.2" y="70.75" width="0.8" height="0.8" fill="#2241e7"/><rect x="45.95" y="70.75" width="0.8" height="0.8" fill="#2263e4"/><rect x="46.7" y="70.75" width="0.8" height="0.8" fill="#223fe4"/><rect x="47.45" y="70.75" width="0.8" height="0.8" fill="#223ee2"/><rect x="48.2" y="70.75" width="0.8" height="0.8" fill="#2258e5"/><rect x="48.95" y="70.75" width="0.8" height="0.8" fill="#2365e3"/><rect x="49.7" y="70.75" width="0.8" height="0.8" fill="#2263e4"/><rect x="50.45" y="70.75" width="0.8" height="0.8" fill="#2373e2"/><rect x="51.2" y="70.75" width="0.8" height="0.8" fill="#2375e2"/><rect x="51.95" y="70.75" width="0.8" height="0.8" fill="#236ae3"/><rect x="52.7" y="70.75" width="0.8" height="0.8" fill="#2380e0"/><rect x="53.45" y="70.75" width="0.8" height="0.8" fill="#2fcf30"/><rect x="54.2" y="70.75" width="0.8" height="0.8" fill="#228ed7"/><rect x="54.95" y="70.75" width="0.8" height="0.8" fill="#1dadad"/><rect x="55.7" y="70.75" width="0.8" height="0.8" fill="#21bf7e"/><rect x="56.45" y="70.75" width="0.8" height="0.8" fill="#1cb6a2"/><rect x="57.2" y="70.75" width="0.8" height="0.8" fill="#1fa5b8"/><rect x="57.95" y="70.75" width="0.8" height="0.8" fill="#209ec1"/><rect x="58.7" y="70.75" width="0.8" height="0.8" fill="#1ebb90"/><rect x="59.45" y="70.75" width="0.8" height="0.8" fill="#2383e0"/><rect x="60.2" y="70.75" width="0.8" height="0.8" fill="#2248e7"/><rect x="60.95" y="70.75" width="0.8" height="0.8" fill="#2199c8"/><rect x="61.7" y="70.75" width="0.8" height="0.8" fill="#1cb4a5"/><rect x="62.45" y="70.75" width="0.8" height="0.8" fill="#2197ca"/><rect x="63.2" y="70.75" width="0.8" height="0.8" fill="#2384e0"/><rect x="63.95" y="70.75" width="0.8" height="0.8" fill="#223ee2"/><rect x="64.7" y="70.75" width="0.8" height="0.8" fill="#2240e5"/><rect x="65.45" y="70.75" width="0.8" height="0.8" fill="#2258e5"/><rect x="66.2" y="70.75" width="0.8" height="0.8" fill="#223ce1"/><rect x="66.95" y="70.75" width="0.8" height="0.8" fill="#2337da"/><rect x="67.7" y="70.75" width="0.8" height="0.8" fill="#223bde"/><rect x="68.45" y="70.75" width="0.8" height="0.8" fill="#223ce0"/><rect x="69.35" y="71.01" width="0.8" height="0.8" fill="#3040d0"/><rect x="70.08" y="70.76" width="0.8" height="0.8" fill="#6470cc"/><rect x="76.78" y="70.76" width="0.8" height="0.8" fill="#6a74c8"/><rect x="77.57" y="71" width="0.8" height="0.8" fill="#8a92cf"/><rect x="42.95" y="71.5" width="0.8" height="0.8" fill="#2335d7"/><rect x="43.7" y="71.5" width="0.8" height="0.8" fill="#223de1"/><rect x="44.45" y="71.5" width="0.8" height="0.8" fill="#223ce0"/><rect x="45.2" y="71.5" width="0.8" height="0.8" fill="#2246e7"/><rect x="45.95" y="71.5" width="0.8" height="0.8" fill="#224ee6"/><rect x="46.7" y="71.5" width="0.8" height="0.8" fill="#2246e7"/><rect x="47.45" y="71.5" width="0.8" height="0.8" fill="#224ce6"/><rect x="48.2" y="71.5" width="0.8" height="0.8" fill="#2241e7"/><rect x="48.95" y="71.5" width="0.8" height="0.8" fill="#2375e2"/><rect x="49.7" y="71.5" width="0.8" height="0.8" fill="#225fe4"/><rect x="50.45" y="71.5" width="0.8" height="0.8" fill="#2250e6"/><rect x="51.2" y="71.5" width="0.8" height="0.8" fill="#2198ca"/><rect x="51.95" y="71.5" width="0.8" height="0.8" fill="#209ec1"/><rect x="52.7" y="71.5" width="0.8" height="0.8" fill="#209bc5"/><rect x="53.45" y="71.5" width="0.8" height="0.8" fill="#28c65b"/><rect x="54.2" y="71.5" width="0.8" height="0.8" fill="#2ccb44"/><rect x="54.95" y="71.5" width="0.8" height="0.8" fill="#37d02e"/><rect x="55.7" y="71.5" width="0.8" height="0.8" fill="#1cb3a6"/><rect x="56.45" y="71.5" width="0.8" height="0.8" fill="#2ac94c"/><rect x="57.2" y="71.5" width="0.8" height="0.8" fill="#24c26e"/><rect x="57.95" y="71.5" width="0.8" height="0.8" fill="#2ece35"/><rect x="58.7" y="71.5" width="0.8" height="0.8" fill="#1fbc89"/><rect x="59.45" y="71.5" width="0.8" height="0.8" fill="#1fa5b8"/><rect x="60.2" y="71.5" width="0.8" height="0.8" fill="#228fd5"/><rect x="60.95" y="71.5" width="0.8" height="0.8" fill="#1fa1bd"/><rect x="61.7" y="71.5" width="0.8" height="0.8" fill="#1cb5a3"/><rect x="62.45" y="71.5" width="0.8" height="0.8" fill="#2194ce"/><rect x="63.2" y="71.5" width="0.8" height="0.8" fill="#2259e5"/><rect x="63.95" y="71.5" width="0.8" height="0.8" fill="#2244e7"/><rect x="64.7" y="71.5" width="0.8" height="0.8" fill="#228fd6"/><rect x="65.45" y="71.5" width="0.8" height="0.8" fill="#2246e7"/><rect x="66.2" y="71.5" width="0.8" height="0.8" fill="#236ae3"/><rect x="66.95" y="71.5" width="0.8" height="0.8" fill="#2338db"/><rect x="69.95" y="71.5" width="0.8" height="0.8" fill="#2336d8"/><rect x="70.7" y="71.5" width="0.8" height="0.8" fill="#2335d6"/><rect x="79.19" y="71.57" width="0.8" height="0.8" fill="#9ca2d2"/><rect x="43.89" y="72.33" width="0.8" height="0.8" fill="#3040d0"/><rect x="44.45" y="72.25" width="0.8" height="0.8" fill="#223ee3"/><rect x="45.2" y="72.25" width="0.8" height="0.8" fill="#224ae7"/><rect x="45.95" y="72.25" width="0.8" height="0.8" fill="#224be6"/><rect x="46.7" y="72.25" width="0.8" height="0.8" fill="#2368e3"/><rect x="47.45" y="72.25" width="0.8" height="0.8" fill="#2249e7"/><rect x="48.2" y="72.25" width="0.8" height="0.8" fill="#2377e1"/><rect x="48.95" y="72.25" width="0.8" height="0.8" fill="#20bd87"/><rect x="49.7" y="72.25" width="0.8" height="0.8" fill="#21bf7f"/><rect x="50.45" y="72.25" width="0.8" height="0.8" fill="#2291d3"/><rect x="51.2" y="72.25" width="0.8" height="0.8" fill="#21bf7e"/><rect x="51.95" y="72.25" width="0.8" height="0.8" fill="#24c26e"/><rect x="52.7" y="72.25" width="0.8" height="0.8" fill="#26c465"/><rect x="53.45" y="72.25" width="0.8" height="0.8" fill="#1cb89e"/><rect x="54.2" y="72.25" width="0.8" height="0.8" fill="#2ccb44"/><rect x="54.95" y="72.25" width="0.8" height="0.8" fill="#2dcd3d"/><rect x="55.7" y="72.25" width="0.8" height="0.8" fill="#32d02f"/><rect x="56.45" y="72.25" width="0.8" height="0.8" fill="#2bca48"/><rect x="57.2" y="72.25" width="0.8" height="0.8" fill="#1cb89d"/><rect x="57.95" y="72.25" width="0.8" height="0.8" fill="#24c270"/><rect x="58.7" y="72.25" width="0.8" height="0.8" fill="#28c65b"/><rect x="59.45" y="72.25" width="0.8" height="0.8" fill="#2dcc3f"/><rect x="60.2" y="72.25" width="0.8" height="0.8" fill="#1cb89d"/><rect x="60.95" y="72.25" width="0.8" height="0.8" fill="#2386e0"/><rect x="61.7" y="72.25" width="0.8" height="0.8" fill="#28c65c"/><rect x="62.45" y="72.25" width="0.8" height="0.8" fill="#24c172"/><rect x="63.2" y="72.25" width="0.8" height="0.8" fill="#228ed7"/><rect x="63.95" y="72.25" width="0.8" height="0.8" fill="#2369e3"/><rect x="64.7" y="72.25" width="0.8" height="0.8" fill="#2292d1"/><rect x="65.45" y="72.25" width="0.8" height="0.8" fill="#2385e0"/><rect x="66.2" y="72.25" width="0.8" height="0.8" fill="#225ce4"/><rect x="66.95" y="72.25" width="0.8" height="0.8" fill="#2240e6"/><rect x="67.7" y="72.25" width="0.8" height="0.8" fill="#2338db"/><rect x="68.45" y="72.25" width="0.8" height="0.8" fill="#223add"/><rect x="69.2" y="72.25" width="0.8" height="0.8" fill="#2336d8"/><rect x="70.24" y="72.33" width="0.8" height="0.8" fill="#5560c8"/><rect x="73.12" y="72.38" width="0.8" height="0.8" fill="#4a58d0"/><rect x="76.82" y="72.47" width="0.8" height="0.8" fill="#a4a9d6"/><rect x="42.2" y="73" width="0.8" height="0.8" fill="#223ce1"/><rect x="42.95" y="73" width="0.8" height="0.8" fill="#223add"/><rect x="44.45" y="73" width="0.8" height="0.8" fill="#223add"/><rect x="45.2" y="73" width="0.8" height="0.8" fill="#223fe4"/><rect x="45.95" y="73" width="0.8" height="0.8" fill="#2389dd"/><rect x="46.7" y="73" width="0.8" height="0.8" fill="#2367e3"/><rect x="47.45" y="73" width="0.8" height="0.8" fill="#2194cf"/><rect x="48.2" y="73" width="0.8" height="0.8" fill="#2290d4"/><rect x="48.95" y="73" width="0.8" height="0.8" fill="#1ea7b6"/><rect x="49.7" y="73" width="0.8" height="0.8" fill="#1cb99a"/><rect x="50.45" y="73" width="0.8" height="0.8" fill="#2fcf32"/><rect x="51.2" y="73" width="0.8" height="0.8" fill="#1eabb0"/><rect x="51.95" y="73" width="0.8" height="0.8" fill="#2fcf33"/><rect x="52.7" y="73" width="0.8" height="0.8" fill="#2ccb45"/><rect x="53.45" y="73" width="0.8" height="0.8" fill="#39d02d"/><rect x="54.2" y="73" width="0.8" height="0.8" fill="#25c36b"/><rect x="54.95" y="73" width="0.8" height="0.8" fill="#1eabb0"/><rect x="55.7" y="73" width="0.8" height="0.8" fill="#43d02b"/><rect x="56.45" y="73" width="0.8" height="0.8" fill="#46d02a"/><rect x="57.2" y="73" width="0.8" height="0.8" fill="#46d02a"/><rect x="57.95" y="73" width="0.8" height="0.8" fill="#2ecd39"/><rect x="58.7" y="73" width="0.8" height="0.8" fill="#37d02e"/><rect x="59.45" y="73" width="0.8" height="0.8" fill="#28c65b"/><rect x="60.2" y="73" width="0.8" height="0.8" fill="#2ac94c"/><rect x="60.95" y="73" width="0.8" height="0.8" fill="#1fbc8d"/><rect x="61.7" y="73" width="0.8" height="0.8" fill="#21be81"/><rect x="62.45" y="73" width="0.8" height="0.8" fill="#20bd87"/><rect x="63.2" y="73" width="0.8" height="0.8" fill="#29c852"/><rect x="63.95" y="73" width="0.8" height="0.8" fill="#2194cf"/><rect x="64.7" y="73" width="0.8" height="0.8" fill="#236de3"/><rect x="65.45" y="73" width="0.8" height="0.8" fill="#2388df"/><rect x="66.2" y="73" width="0.8" height="0.8" fill="#2257e5"/><rect x="66.95" y="73" width="0.8" height="0.8" fill="#223ee2"/><rect x="67.7" y="73" width="0.8" height="0.8" fill="#2242e7"/><rect x="68.45" y="73" width="0.8" height="0.8" fill="#2338db"/><rect x="69.2" y="73" width="0.8" height="0.8" fill="#2256e5"/><rect x="70.7" y="73" width="0.8" height="0.8" fill="#223ee2"/><rect x="72.41" y="73.24" width="0.8" height="0.8" fill="#5560c8"/><rect x="73.92" y="73.05" width="0.8" height="0.8" fill="#3040d0"/><rect x="76.91" y="73.08" width="0.8" height="0.8" fill="#a4a9d6"/><rect x="77.5" y="73.11" width="0.8" height="0.8" fill="#8a92cf"/><rect x="42.95" y="73.75" width="0.8" height="0.8" fill="#2239dc"/><rect x="43.7" y="73.75" width="0.8" height="0.8" fill="#2240e5"/><rect x="44.45" y="73.75" width="0.8" height="0.8" fill="#2242e7"/><rect x="45.2" y="73.75" width="0.8" height="0.8" fill="#223fe5"/><rect x="45.95" y="73.75" width="0.8" height="0.8" fill="#209ec2"/><rect x="46.7" y="73.75" width="0.8" height="0.8" fill="#237be1"/><rect x="47.45" y="73.75" width="0.8" height="0.8" fill="#228ed7"/><rect x="48.2" y="73.75" width="0.8" height="0.8" fill="#28c759"/><rect x="48.95" y="73.75" width="0.8" height="0.8" fill="#2386e0"/><rect x="49.7" y="73.75" width="0.8" height="0.8" fill="#2373e2"/><rect x="50.45" y="73.75" width="0.8" height="0.8" fill="#34d02e"/><rect x="51.2" y="73.75" width="0.8" height="0.8" fill="#23c077"/><rect x="51.95" y="73.75" width="0.8" height="0.8" fill="#2fcf31"/><rect x="52.7" y="73.75" width="0.8" height="0.8" fill="#34d02e"/><rect x="53.45" y="73.75" width="0.8" height="0.8" fill="#35d02e"/><rect x="54.2" y="73.75" width="0.8" height="0.8" fill="#2dcc3f"/><rect x="54.95" y="73.75" width="0.8" height="0.8" fill="#3dd02c"/><rect x="55.7" y="73.75" width="0.8" height="0.8" fill="#33d02f"/><rect x="56.45" y="73.75" width="0.8" height="0.8" fill="#1cb99a"/><rect x="57.2" y="73.75" width="0.8" height="0.8" fill="#36d02e"/><rect x="57.95" y="73.75" width="0.8" height="0.8" fill="#2bca4a"/><rect x="58.7" y="73.75" width="0.8" height="0.8" fill="#3bd02d"/><rect x="59.45" y="73.75" width="0.8" height="0.8" fill="#38d02d"/><rect x="60.2" y="73.75" width="0.8" height="0.8" fill="#25c36a"/><rect x="60.95" y="73.75" width="0.8" height="0.8" fill="#2bca48"/><rect x="61.7" y="73.75" width="0.8" height="0.8" fill="#1fa1bd"/><rect x="62.45" y="73.75" width="0.8" height="0.8" fill="#23c076"/><rect x="63.2" y="73.75" width="0.8" height="0.8" fill="#37d02e"/><rect x="63.95" y="73.75" width="0.8" height="0.8" fill="#2ccb43"/><rect x="64.7" y="73.75" width="0.8" height="0.8" fill="#1ebb90"/><rect x="65.45" y="73.75" width="0.8" height="0.8" fill="#236ee2"/><rect x="66.2" y="73.75" width="0.8" height="0.8" fill="#2387e0"/><rect x="66.95" y="73.75" width="0.8" height="0.8" fill="#2253e6"/><rect x="67.7" y="73.75" width="0.8" height="0.8" fill="#223ce0"/><rect x="68.45" y="73.75" width="0.8" height="0.8" fill="#223ee3"/><rect x="69.2" y="73.75" width="0.8" height="0.8" fill="#223de1"/><rect x="69.95" y="73.75" width="0.8" height="0.8" fill="#223bdf"/><rect x="71.45" y="73.75" width="0.8" height="0.8" fill="#2336d9"/><rect x="72.42" y="74.02" width="0.8" height="0.8" fill="#3040d0"/><rect x="73.95" y="73.79" width="0.8" height="0.8" fill="#3040d0"/><rect x="76.2" y="73.89" width="0.8" height="0.8" fill="#b4b7da"/><rect x="76.89" y="73.86" width="0.8" height="0.8" fill="#a4a9d6"/><rect x="77.48" y="73.83" width="0.8" height="0.8" fill="#6a74c8"/><rect x="42.2" y="74.5" width="0.8" height="0.8" fill="#224ce6"/><rect x="42.95" y="74.5" width="0.8" height="0.8" fill="#2249e7"/><rect x="43.7" y="74.5" width="0.8" height="0.8" fill="#2245e7"/><rect x="44.45" y="74.5" width="0.8" height="0.8" fill="#2337d9"/><rect x="45.2" y="74.5" width="0.8" height="0.8" fill="#228fd5"/><rect x="45.95" y="74.5" width="0.8" height="0.8" fill="#2261e4"/><rect x="46.7" y="74.5" width="0.8" height="0.8" fill="#2249e7"/><rect x="47.45" y="74.5" width="0.8" height="0.8" fill="#209fc0"/><rect x="48.2" y="74.5" width="0.8" height="0.8" fill="#28c65b"/><rect x="48.95" y="74.5" width="0.8" height="0.8" fill="#32d02f"/><rect x="49.7" y="74.5" width="0.8" height="0.8" fill="#21be82"/><rect x="50.45" y="74.5" width="0.8" height="0.8" fill="#3ad02d"/><rect x="51.2" y="74.5" width="0.8" height="0.8" fill="#33d02f"/><rect x="51.95" y="74.5" width="0.8" height="0.8" fill="#36d02e"/><rect x="52.7" y="74.5" width="0.8" height="0.8" fill="#2ece36"/><rect x="53.45" y="74.5" width="0.8" height="0.8" fill="#59d025"/><rect x="54.2" y="74.5" width="0.8" height="0.8" fill="#2bca49"/><rect x="54.95" y="74.5" width="0.8" height="0.8" fill="#5ad025"/><rect x="55.7" y="74.5" width="0.8" height="0.8" fill="#47d02a"/><rect x="56.45" y="74.5" width="0.8" height="0.8" fill="#3fd02c"/><rect x="57.2" y="74.5" width="0.8" height="0.8" fill="#3bd02d"/><rect x="57.95" y="74.5" width="0.8" height="0.8" fill="#49d029"/><rect x="58.7" y="74.5" width="0.8" height="0.8" fill="#3ad02d"/><rect x="59.45" y="74.5" width="0.8" height="0.8" fill="#2fce34"/><rect x="60.2" y="74.5" width="0.8" height="0.8" fill="#39d02d"/><rect x="60.95" y="74.5" width="0.8" height="0.8" fill="#39d02d"/><rect x="61.7" y="74.5" width="0.8" height="0.8" fill="#39d02d"/><rect x="62.45" y="74.5" width="0.8" height="0.8" fill="#26c465"/><rect x="63.2" y="74.5" width="0.8" height="0.8" fill="#1ea8b5"/><rect x="63.95" y="74.5" width="0.8" height="0.8" fill="#228fd5"/><rect x="64.7" y="74.5" width="0.8" height="0.8" fill="#209fc0"/><rect x="65.45" y="74.5" width="0.8" height="0.8" fill="#2197cb"/><rect x="66.2" y="74.5" width="0.8" height="0.8" fill="#236fe2"/><rect x="66.95" y="74.5" width="0.8" height="0.8" fill="#2263e4"/><rect x="67.7" y="74.5" width="0.8" height="0.8" fill="#225ee4"/><rect x="68.45" y="74.5" width="0.8" height="0.8" fill="#2252e6"/><rect x="69.2" y="74.5" width="0.8" height="0.8" fill="#2241e7"/><rect x="69.95" y="74.5" width="0.8" height="0.8" fill="#2241e7"/><rect x="70.7" y="74.5" width="0.8" height="0.8" fill="#2336d8"/><rect x="72.2" y="74.5" width="0.8" height="0.8" fill="#2335d7"/><rect x="73.1" y="74.71" width="0.8" height="0.8" fill="#3a48d0"/><rect x="42.2" y="75.25" width="0.8" height="0.8" fill="#2335d7"/><rect x="42.95" y="75.25" width="0.8" height="0.8" fill="#223ce1"/><rect x="43.7" y="75.25" width="0.8" height="0.8" fill="#2252e6"/><rect x="44.45" y="75.25" width="0.8" height="0.8" fill="#2370e2"/><rect x="45.2" y="75.25" width="0.8" height="0.8" fill="#2383e0"/><rect x="45.95" y="75.25" width="0.8" height="0.8" fill="#2382e0"/><rect x="46.7" y="75.25" width="0.8" height="0.8" fill="#2dcd3c"/><rect x="47.45" y="75.25" width="0.8" height="0.8" fill="#2374e2"/><rect x="48.2" y="75.25" width="0.8" height="0.8" fill="#1fbc8c"/><rect x="48.95" y="75.25" width="0.8" height="0.8" fill="#2198ca"/><rect x="49.7" y="75.25" width="0.8" height="0.8" fill="#22bf7c"/><rect x="50.45" y="75.25" width="0.8" height="0.8" fill="#40d02b"/><rect x="51.2" y="75.25" width="0.8" height="0.8" fill="#4cd028"/><rect x="51.95" y="75.25" width="0.8" height="0.8" fill="#29c757"/><rect x="52.7" y="75.25" width="0.8" height="0.8" fill="#35d02e"/><rect x="53.45" y="75.25" width="0.8" height="0.8" fill="#53d027"/><rect x="54.2" y="75.25" width="0.8" height="0.8" fill="#52d027"/><rect x="54.95" y="75.25" width="0.8" height="0.8" fill="#68d021"/><rect x="55.7" y="75.25" width="0.8" height="0.8" fill="#5cd024"/><rect x="56.45" y="75.25" width="0.8" height="0.8" fill="#6bd021"/><rect x="57.2" y="75.25" width="0.8" height="0.8" fill="#66d022"/><rect x="57.95" y="75.25" width="0.8" height="0.8" fill="#68d021"/><rect x="58.7" y="75.25" width="0.8" height="0.8" fill="#3dd02c"/><rect x="59.45" y="75.25" width="0.8" height="0.8" fill="#55d026"/><rect x="60.2" y="75.25" width="0.8" height="0.8" fill="#55d026"/><rect x="60.95" y="75.25" width="0.8" height="0.8" fill="#54d026"/><rect x="61.7" y="75.25" width="0.8" height="0.8" fill="#37d02e"/><rect x="62.45" y="75.25" width="0.8" height="0.8" fill="#3dd02c"/><rect x="63.2" y="75.25" width="0.8" height="0.8" fill="#40d02b"/><rect x="63.95" y="75.25" width="0.8" height="0.8" fill="#2ece39"/><rect x="64.7" y="75.25" width="0.8" height="0.8" fill="#1cb6a1"/><rect x="65.45" y="75.25" width="0.8" height="0.8" fill="#1cb6a1"/><rect x="66.2" y="75.25" width="0.8" height="0.8" fill="#1fa1bd"/><rect x="66.95" y="75.25" width="0.8" height="0.8" fill="#209dc3"/><rect x="67.7" y="75.25" width="0.8" height="0.8" fill="#2199c8"/><rect x="68.45" y="75.25" width="0.8" height="0.8" fill="#2241e7"/><rect x="69.2" y="75.25" width="0.8" height="0.8" fill="#2239dc"/><rect x="69.95" y="75.25" width="0.8" height="0.8" fill="#223ce0"/><rect x="70.7" y="75.25" width="0.8" height="0.8" fill="#2337d9"/><rect x="71.45" y="75.25" width="0.8" height="0.8" fill="#2252e6"/><rect x="72.2" y="75.25" width="0.8" height="0.8" fill="#223de2"/><rect x="73.07" y="75.42" width="0.8" height="0.8" fill="#6470cc"/><rect x="74.57" y="75.43" width="0.8" height="0.8" fill="#3a48d0"/><rect x="76.93" y="75.4" width="0.8" height="0.8" fill="#b4b7da"/><rect x="42.95" y="76" width="0.8" height="0.8" fill="#2243e7"/><rect x="43.7" y="76" width="0.8" height="0.8" fill="#2247e7"/><rect x="44.45" y="76" width="0.8" height="0.8" fill="#2242e7"/><rect x="45.2" y="76" width="0.8" height="0.8" fill="#2377e1"/><rect x="45.95" y="76" width="0.8" height="0.8" fill="#1fa1be"/><rect x="46.7" y="76" width="0.8" height="0.8" fill="#2290d4"/><rect x="47.45" y="76" width="0.8" height="0.8" fill="#1fbb8d"/><rect x="48.2" y="76" width="0.8" height="0.8" fill="#27c561"/><rect x="48.95" y="76" width="0.8" height="0.8" fill="#33d02f"/><rect x="49.7" y="76" width="0.8" height="0.8" fill="#21be80"/><rect x="50.45" y="76" width="0.8" height="0.8" fill="#55d026"/><rect x="51.2" y="76" width="0.8" height="0.8" fill="#36d02e"/><rect x="51.95" y="76" width="0.8" height="0.8" fill="#47d02a"/><rect x="52.7" y="76" width="0.8" height="0.8" fill="#3dd02c"/><rect x="53.45" y="76" width="0.8" height="0.8" fill="#56d026"/><rect x="54.2" y="76" width="0.8" height="0.8" fill="#73ce1f"/><rect x="54.95" y="76" width="0.8" height="0.8" fill="#64d022"/><rect x="55.7" y="76" width="0.8" height="0.8" fill="#2fcf34"/><rect x="56.45" y="76" width="0.8" height="0.8" fill="#5dd024"/><rect x="57.2" y="76" width="0.8" height="0.8" fill="#58d025"/><rect x="57.95" y="76" width="0.8" height="0.8" fill="#57d026"/><rect x="58.7" y="76" width="0.8" height="0.8" fill="#65d022"/><rect x="59.45" y="76" width="0.8" height="0.8" fill="#5ad025"/><rect x="60.2" y="76" width="0.8" height="0.8" fill="#5bd025"/><rect x="60.95" y="76" width="0.8" height="0.8" fill="#59d025"/><rect x="61.7" y="76" width="0.8" height="0.8" fill="#50d027"/><rect x="62.45" y="76" width="0.8" height="0.8" fill="#4ad029"/><rect x="63.2" y="76" width="0.8" height="0.8" fill="#41d02b"/><rect x="63.95" y="76" width="0.8" height="0.8" fill="#2ccb45"/><rect x="64.7" y="76" width="0.8" height="0.8" fill="#20bd87"/><rect x="65.45" y="76" width="0.8" height="0.8" fill="#1ebb90"/><rect x="66.2" y="76" width="0.8" height="0.8" fill="#209ec1"/><rect x="66.95" y="76" width="0.8" height="0.8" fill="#2199c9"/><rect x="67.7" y="76" width="0.8" height="0.8" fill="#225ee4"/><rect x="68.45" y="76" width="0.8" height="0.8" fill="#236ee2"/><rect x="69.2" y="76" width="0.8" height="0.8" fill="#223fe4"/><rect x="70.11" y="76.1" width="0.8" height="0.8" fill="#5560c8"/><rect x="70.7" y="76" width="0.8" height="0.8" fill="#223ee3"/><rect x="71.45" y="76" width="0.8" height="0.8" fill="#2335d7"/><rect x="72.95" y="76" width="0.8" height="0.8" fill="#223add"/><rect x="73.71" y="76.19" width="0.8" height="0.8" fill="#3a48d0"/><rect x="74.71" y="76.05" width="0.8" height="0.8" fill="#4a58d0"/><rect x="75.45" y="76.01" width="0.8" height="0.8" fill="#3a48d0"/><rect x="42.2" y="76.75" width="0.8" height="0.8" fill="#223de1"/><rect x="42.95" y="76.75" width="0.8" height="0.8" fill="#223fe4"/><rect x="43.7" y="76.75" width="0.8" height="0.8" fill="#2336d8"/><rect x="44.45" y="76.75" width="0.8" height="0.8" fill="#2257e5"/><rect x="45.2" y="76.75" width="0.8" height="0.8" fill="#2199c8"/><rect x="45.95" y="76.75" width="0.8" height="0.8" fill="#236de3"/><rect x="46.7" y="76.75" width="0.8" height="0.8" fill="#2195ce"/><rect x="47.45" y="76.75" width="0.8" height="0.8" fill="#236fe2"/><rect x="48.2" y="76.75" width="0.8" height="0.8" fill="#1fbc8d"/><rect x="48.95" y="76.75" width="0.8" height="0.8" fill="#43d02b"/><rect x="49.7" y="76.75" width="0.8" height="0.8" fill="#3ad02d"/><rect x="50.45" y="76.75" width="0.8" height="0.8" fill="#4bd029"/><rect x="51.2" y="76.75" width="0.8" height="0.8" fill="#59d025"/><rect x="51.95" y="76.75" width="0.8" height="0.8" fill="#5bd025"/><rect x="52.7" y="76.75" width="0.8" height="0.8" fill="#66d022"/><rect x="53.45" y="76.75" width="0.8" height="0.8" fill="#65d022"/><rect x="54.2" y="76.75" width="0.8" height="0.8" fill="#58d025"/><rect x="54.95" y="76.75" width="0.8" height="0.8" fill="#60d023"/><rect x="55.7" y="76.75" width="0.8" height="0.8" fill="#62d023"/><rect x="56.45" y="76.75" width="0.8" height="0.8" fill="#5cd024"/><rect x="57.2" y="76.75" width="0.8" height="0.8" fill="#90bf1d"/><rect x="57.95" y="76.75" width="0.8" height="0.8" fill="#75cd1f"/><rect x="58.7" y="76.75" width="0.8" height="0.8" fill="#5fd024"/><rect x="59.45" y="76.75" width="0.8" height="0.8" fill="#abb21b"/><rect x="60.2" y="76.75" width="0.8" height="0.8" fill="#6dd020"/><rect x="60.95" y="76.75" width="0.8" height="0.8" fill="#4ad029"/><rect x="61.7" y="76.75" width="0.8" height="0.8" fill="#68d021"/><rect x="62.45" y="76.75" width="0.8" height="0.8" fill="#49d029"/><rect x="63.2" y="76.75" width="0.8" height="0.8" fill="#42d02b"/><rect x="63.95" y="76.75" width="0.8" height="0.8" fill="#47d02a"/><rect x="64.7" y="76.75" width="0.8" height="0.8" fill="#2fce34"/><rect x="65.45" y="76.75" width="0.8" height="0.8" fill="#2ecd3a"/><rect x="66.2" y="76.75" width="0.8" height="0.8" fill="#2197ca"/><rect x="66.95" y="76.75" width="0.8" height="0.8" fill="#236fe2"/><rect x="67.7" y="76.75" width="0.8" height="0.8" fill="#209bc6"/><rect x="68.45" y="76.75" width="0.8" height="0.8" fill="#2374e2"/><rect x="69.2" y="76.75" width="0.8" height="0.8" fill="#224ae7"/><rect x="69.95" y="76.75" width="0.8" height="0.8" fill="#2241e7"/><rect x="70.7" y="76.75" width="0.8" height="0.8" fill="#223ee3"/><rect x="71.45" y="76.75" width="0.8" height="0.8" fill="#2338db"/><rect x="72.2" y="76.75" width="0.8" height="0.8" fill="#223ee2"/><rect x="73.14" y="76.75" width="0.8" height="0.8" fill="#6470cc"/><rect x="73.9" y="76.96" width="0.8" height="0.8" fill="#6470cc"/><rect x="75.3" y="76.91" width="0.8" height="0.8" fill="#3a48d0"/><rect x="76.85" y="76.79" width="0.8" height="0.8" fill="#3a48d0"/><rect x="42.2" y="77.5" width="0.8" height="0.8" fill="#223fe5"/><rect x="42.95" y="77.5" width="0.8" height="0.8" fill="#2338db"/><rect x="43.7" y="77.5" width="0.8" height="0.8" fill="#2240e5"/><rect x="44.45" y="77.5" width="0.8" height="0.8" fill="#209dc3"/><rect x="45.2" y="77.5" width="0.8" height="0.8" fill="#2293d1"/><rect x="45.95" y="77.5" width="0.8" height="0.8" fill="#1cb3a6"/><rect x="46.7" y="77.5" width="0.8" height="0.8" fill="#1cb5a3"/><rect x="47.45" y="77.5" width="0.8" height="0.8" fill="#1dba95"/><rect x="48.2" y="77.5" width="0.8" height="0.8" fill="#37d02e"/><rect x="48.95" y="77.5" width="0.8" height="0.8" fill="#2ecd3a"/><rect x="49.7" y="77.5" width="0.8" height="0.8" fill="#30d02f"/><rect x="50.45" y="77.5" width="0.8" height="0.8" fill="#60d023"/><rect x="51.2" y="77.5" width="0.8" height="0.8" fill="#7dc91e"/><rect x="51.95" y="77.5" width="0.8" height="0.8" fill="#5dd024"/><rect x="52.7" y="77.5" width="0.8" height="0.8" fill="#5ad025"/><rect x="53.45" y="77.5" width="0.8" height="0.8" fill="#66d022"/><rect x="54.2" y="77.5" width="0.8" height="0.8" fill="#63d023"/><rect x="54.95" y="77.5" width="0.8" height="0.8" fill="#75cd1f"/><rect x="55.7" y="77.5" width="0.8" height="0.8" fill="#6fd020"/><rect x="56.45" y="77.5" width="0.8" height="0.8" fill="#96bc1c"/><rect x="57.2" y="77.5" width="0.8" height="0.8" fill="#6bd021"/><rect x="57.95" y="77.5" width="0.8" height="0.8" fill="#74cd1f"/><rect x="58.7" y="77.5" width="0.8" height="0.8" fill="#8bc21d"/><rect x="59.45" y="77.5" width="0.8" height="0.8" fill="#78cb1f"/><rect x="60.2" y="77.5" width="0.8" height="0.8" fill="#84c51e"/><rect x="60.95" y="77.5" width="0.8" height="0.8" fill="#78cb1f"/><rect x="61.7" y="77.5" width="0.8" height="0.8" fill="#97bc1c"/><rect x="62.45" y="77.5" width="0.8" height="0.8" fill="#5dd024"/><rect x="63.2" y="77.5" width="0.8" height="0.8" fill="#54d026"/><rect x="63.95" y="77.5" width="0.8" height="0.8" fill="#49d029"/><rect x="64.7" y="77.5" width="0.8" height="0.8" fill="#30d02f"/><rect x="65.45" y="77.5" width="0.8" height="0.8" fill="#26c467"/><rect x="66.2" y="77.5" width="0.8" height="0.8" fill="#2dcc3f"/><rect x="66.95" y="77.5" width="0.8" height="0.8" fill="#21be7f"/><rect x="67.7" y="77.5" width="0.8" height="0.8" fill="#2196cc"/><rect x="68.45" y="77.5" width="0.8" height="0.8" fill="#2382e0"/><rect x="69.2" y="77.5" width="0.8" height="0.8" fill="#2241e7"/><rect x="69.95" y="77.5" width="0.8" height="0.8" fill="#2241e7"/><rect x="70.7" y="77.5" width="0.8" height="0.8" fill="#2239dd"/><rect x="71.45" y="77.5" width="0.8" height="0.8" fill="#2240e5"/><rect x="72.2" y="77.5" width="0.8" height="0.8" fill="#223fe4"/><rect x="73.98" y="77.75" width="0.8" height="0.8" fill="#5560c8"/><rect x="79.18" y="77.63" width="0.8" height="0.8" fill="#7880c8"/><rect x="42.2" y="78.25" width="0.8" height="0.8" fill="#223fe4"/><rect x="42.95" y="78.25" width="0.8" height="0.8" fill="#2241e6"/><rect x="43.7" y="78.25" width="0.8" height="0.8" fill="#2257e5"/><rect x="44.45" y="78.25" width="0.8" height="0.8" fill="#237ee1"/><rect x="45.2" y="78.25" width="0.8" height="0.8" fill="#1ea6b7"/><rect x="45.95" y="78.25" width="0.8" height="0.8" fill="#20bd84"/><rect x="46.7" y="78.25" width="0.8" height="0.8" fill="#2ac94e"/><rect x="47.45" y="78.25" width="0.8" height="0.8" fill="#29c756"/><rect x="48.2" y="78.25" width="0.8" height="0.8" fill="#4bd029"/><rect x="48.95" y="78.25" width="0.8" height="0.8" fill="#56d026"/><rect x="49.7" y="78.25" width="0.8" height="0.8" fill="#51d027"/><rect x="50.45" y="78.25" width="0.8" height="0.8" fill="#40d02b"/><rect x="51.2" y="78.25" width="0.8" height="0.8" fill="#59d025"/><rect x="51.95" y="78.25" width="0.8" height="0.8" fill="#4bd029"/><rect x="52.7" y="78.25" width="0.8" height="0.8" fill="#54d026"/><rect x="53.45" y="78.25" width="0.8" height="0.8" fill="#65d022"/><rect x="54.2" y="78.25" width="0.8" height="0.8" fill="#a3b61b"/><rect x="54.95" y="78.25" width="0.8" height="0.8" fill="#8cc11d"/><rect x="55.7" y="78.25" width="0.8" height="0.8" fill="#61d023"/><rect x="56.45" y="78.25" width="0.8" height="0.8" fill="#a4b51b"/><rect x="57.2" y="78.25" width="0.8" height="0.8" fill="#80c71e"/><rect x="57.95" y="78.25" width="0.8" height="0.8" fill="#80c71e"/><rect x="58.7" y="78.25" width="0.8" height="0.8" fill="#6fd020"/><rect x="59.45" y="78.25" width="0.8" height="0.8" fill="#8fc01d"/><rect x="60.2" y="78.25" width="0.8" height="0.8" fill="#a0b71b"/><rect x="60.95" y="78.25" width="0.8" height="0.8" fill="#82c61e"/><rect x="61.7" y="78.25" width="0.8" height="0.8" fill="#64d022"/><rect x="62.45" y="78.25" width="0.8" height="0.8" fill="#6dd020"/><rect x="63.2" y="78.25" width="0.8" height="0.8" fill="#6fd020"/><rect x="63.95" y="78.25" width="0.8" height="0.8" fill="#69d021"/><rect x="64.7" y="78.25" width="0.8" height="0.8" fill="#57d026"/><rect x="65.45" y="78.25" width="0.8" height="0.8" fill="#48d029"/><rect x="66.2" y="78.25" width="0.8" height="0.8" fill="#30d02f"/><rect x="66.95" y="78.25" width="0.8" height="0.8" fill="#2199c8"/><rect x="67.7" y="78.25" width="0.8" height="0.8" fill="#1dadae"/><rect x="68.45" y="78.25" width="0.8" height="0.8" fill="#2264e4"/><rect x="69.2" y="78.25" width="0.8" height="0.8" fill="#2371e2"/><rect x="69.95" y="78.25" width="0.8" height="0.8" fill="#2255e5"/><rect x="70.7" y="78.25" width="0.8" height="0.8" fill="#2246e7"/><rect x="71.45" y="78.25" width="0.8" height="0.8" fill="#2239dc"/><rect x="72.2" y="78.25" width="0.8" height="0.8" fill="#2336d8"/><rect x="72.95" y="78.25" width="0.8" height="0.8" fill="#2337da"/><rect x="73.88" y="78.31" width="0.8" height="0.8" fill="#6470cc"/><rect x="75.25" y="78.5" width="0.8" height="0.8" fill="#3a48d0"/><rect x="42.2" y="79" width="0.8" height="0.8" fill="#2255e5"/><rect x="42.95" y="79" width="0.8" height="0.8" fill="#223ade"/><rect x="43.7" y="79" width="0.8" height="0.8" fill="#223ce0"/><rect x="44.45" y="79" width="0.8" height="0.8" fill="#2389dd"/><rect x="45.2" y="79" width="0.8" height="0.8" fill="#1cb5a3"/><rect x="45.95" y="79" width="0.8" height="0.8" fill="#2389dd"/><rect x="46.7" y="79" width="0.8" height="0.8" fill="#1fa3bb"/><rect x="47.45" y="79" width="0.8" height="0.8" fill="#1ebb91"/><rect x="48.2" y="79" width="0.8" height="0.8" fill="#1db1a8"/><rect x="48.95" y="79" width="0.8" height="0.8" fill="#47d02a"/><rect x="49.7" y="79" width="0.8" height="0.8" fill="#3ed02c"/><rect x="50.45" y="79" width="0.8" height="0.8" fill="#56d026"/><rect x="51.2" y="79" width="0.8" height="0.8" fill="#48d029"/><rect x="51.95" y="79" width="0.8" height="0.8" fill="#57d026"/><rect x="52.7" y="79" width="0.8" height="0.8" fill="#68d021"/><rect x="53.45" y="79" width="0.8" height="0.8" fill="#5ed024"/><rect x="54.2" y="79" width="0.8" height="0.8" fill="#58d025"/><rect x="54.95" y="79" width="0.8" height="0.8" fill="#c9a318"/><rect x="55.7" y="79" width="0.8" height="0.8" fill="#acb11a"/><rect x="56.45" y="79" width="0.8" height="0.8" fill="#70cf1f"/><rect x="57.2" y="79" width="0.8" height="0.8" fill="#85c51e"/><rect x="57.95" y="79" width="0.8" height="0.8" fill="#7fc81e"/><rect x="58.7" y="79" width="0.8" height="0.8" fill="#8dc11d"/><rect x="59.45" y="79" width="0.8" height="0.8" fill="#98bb1c"/><rect x="60.2" y="79" width="0.8" height="0.8" fill="#8ec01d"/><rect x="60.95" y="79" width="0.8" height="0.8" fill="#bea819"/><rect x="61.7" y="79" width="0.8" height="0.8" fill="#6bd021"/><rect x="62.45" y="79" width="0.8" height="0.8" fill="#73ce1f"/><rect x="63.2" y="79" width="0.8" height="0.8" fill="#57d026"/><rect x="63.95" y="79" width="0.8" height="0.8" fill="#5dd024"/><rect x="64.7" y="79" width="0.8" height="0.8" fill="#4cd028"/><rect x="65.45" y="79" width="0.8" height="0.8" fill="#4ad029"/><rect x="66.2" y="79" width="0.8" height="0.8" fill="#2ac94e"/><rect x="66.95" y="79" width="0.8" height="0.8" fill="#2ac94f"/><rect x="67.7" y="79" width="0.8" height="0.8" fill="#1dba95"/><rect x="68.45" y="79" width="0.8" height="0.8" fill="#236fe2"/><rect x="69.2" y="79" width="0.8" height="0.8" fill="#209cc4"/><rect x="69.95" y="79" width="0.8" height="0.8" fill="#2383e0"/><rect x="70.7" y="79" width="0.8" height="0.8" fill="#224ae7"/><rect x="71.45" y="79" width="0.8" height="0.8" fill="#2241e6"/><rect x="72.2" y="79" width="0.8" height="0.8" fill="#2337d9"/><rect x="73.7" y="79" width="0.8" height="0.8" fill="#223ee3"/><rect x="74.45" y="79" width="0.8" height="0.8" fill="#223ce1"/><rect x="76.25" y="79.29" width="0.8" height="0.8" fill="#6470cc"/><rect x="79.15" y="79.26" width="0.8" height="0.8" fill="#b4b7da"/><rect x="42.2" y="79.75" width="0.8" height="0.8" fill="#223de1"/><rect x="42.95" y="79.75" width="0.8" height="0.8" fill="#1eabb0"/><rect x="43.7" y="79.75" width="0.8" height="0.8" fill="#2366e3"/><rect x="44.45" y="79.75" width="0.8" height="0.8" fill="#1cb7a0"/><rect x="45.2" y="79.75" width="0.8" height="0.8" fill="#2264e4"/><rect x="45.95" y="79.75" width="0.8" height="0.8" fill="#1daeac"/><rect x="46.7" y="79.75" width="0.8" height="0.8" fill="#45d02a"/><rect x="47.45" y="79.75" width="0.8" height="0.8" fill="#3bd02d"/><rect x="48.2" y="79.75" width="0.8" height="0.8" fill="#1fbb8d"/><rect x="48.95" y="79.75" width="0.8" height="0.8" fill="#41d02b"/><rect x="49.7" y="79.75" width="0.8" height="0.8" fill="#4dd028"/><rect x="50.45" y="79.75" width="0.8" height="0.8" fill="#53d027"/><rect x="51.2" y="79.75" width="0.8" height="0.8" fill="#55d026"/><rect x="51.95" y="79.75" width="0.8" height="0.8" fill="#6bd021"/><rect x="52.7" y="79.75" width="0.8" height="0.8" fill="#5cd024"/><rect x="53.45" y="79.75" width="0.8" height="0.8" fill="#77cc1f"/><rect x="54.2" y="79.75" width="0.8" height="0.8" fill="#91bf1d"/><rect x="54.95" y="79.75" width="0.8" height="0.8" fill="#a1b71b"/><rect x="55.7" y="79.75" width="0.8" height="0.8" fill="#96bc1c"/><rect x="56.45" y="79.75" width="0.8" height="0.8" fill="#a4b51b"/><rect x="57.2" y="79.75" width="0.8" height="0.8" fill="#d0a018"/><rect x="57.95" y="79.75" width="0.8" height="0.8" fill="#b6ac1a"/><rect x="58.7" y="79.75" width="0.8" height="0.8" fill="#bea819"/><rect x="59.45" y="79.75" width="0.8" height="0.8" fill="#b1af1a"/><rect x="60.2" y="79.75" width="0.8" height="0.8" fill="#d0a018"/><rect x="60.95" y="79.75" width="0.8" height="0.8" fill="#c6a418"/><rect x="61.7" y="79.75" width="0.8" height="0.8" fill="#abb21b"/><rect x="62.45" y="79.75" width="0.8" height="0.8" fill="#7dc91e"/><rect x="63.2" y="79.75" width="0.8" height="0.8" fill="#9eb81c"/><rect x="63.95" y="79.75" width="0.8" height="0.8" fill="#5ad025"/><rect x="64.7" y="79.75" width="0.8" height="0.8" fill="#6fd020"/><rect x="65.45" y="79.75" width="0.8" height="0.8" fill="#38d02d"/><rect x="66.2" y="79.75" width="0.8" height="0.8" fill="#36d02e"/><rect x="66.95" y="79.75" width="0.8" height="0.8" fill="#25c36b"/><rect x="67.7" y="79.75" width="0.8" height="0.8" fill="#2381e0"/><rect x="68.45" y="79.75" width="0.8" height="0.8" fill="#2290d4"/><rect x="69.2" y="79.75" width="0.8" height="0.8" fill="#2371e2"/><rect x="69.95" y="79.75" width="0.8" height="0.8" fill="#223de1"/><rect x="70.7" y="79.75" width="0.8" height="0.8" fill="#2257e5"/><rect x="71.45" y="79.75" width="0.8" height="0.8" fill="#223fe4"/><rect x="72.95" y="79.75" width="0.8" height="0.8" fill="#2338db"/><rect x="73.7" y="79.75" width="0.8" height="0.8" fill="#223de1"/><rect x="78.3" y="79.81" width="0.8" height="0.8" fill="#9ca2d2"/><rect x="42.2" y="80.5" width="0.8" height="0.8" fill="#2370e2"/><rect x="42.95" y="80.5" width="0.8" height="0.8" fill="#2370e2"/><rect x="43.7" y="80.5" width="0.8" height="0.8" fill="#2260e4"/><rect x="44.45" y="80.5" width="0.8" height="0.8" fill="#237ce1"/><rect x="45.2" y="80.5" width="0.8" height="0.8" fill="#1cb5a3"/><rect x="45.95" y="80.5" width="0.8" height="0.8" fill="#2fcf32"/><rect x="46.7" y="80.5" width="0.8" height="0.8" fill="#1cb2a7"/><rect x="47.45" y="80.5" width="0.8" height="0.8" fill="#35d02e"/><rect x="48.2" y="80.5" width="0.8" height="0.8" fill="#33d02f"/><rect x="48.95" y="80.5" width="0.8" height="0.8" fill="#48d029"/><rect x="49.7" y="80.5" width="0.8" height="0.8" fill="#49d029"/><rect x="50.45" y="80.5" width="0.8" height="0.8" fill="#49d029"/><rect x="51.2" y="80.5" width="0.8" height="0.8" fill="#63d023"/><rect x="51.95" y="80.5" width="0.8" height="0.8" fill="#59d025"/><rect x="52.7" y="80.5" width="0.8" height="0.8" fill="#79cb1f"/><rect x="53.45" y="80.5" width="0.8" height="0.8" fill="#6bd021"/><rect x="54.2" y="80.5" width="0.8" height="0.8" fill="#62d023"/><rect x="54.95" y="80.5" width="0.8" height="0.8" fill="#60d023"/><rect x="55.7" y="80.5" width="0.8" height="0.8" fill="#8bc21d"/><rect x="56.45" y="80.5" width="0.8" height="0.8" fill="#d0a018"/><rect x="57.2" y="80.5" width="0.8" height="0.8" fill="#aeb01a"/><rect x="57.95" y="80.5" width="0.8" height="0.8" fill="#b9ab19"/><rect x="58.7" y="80.5" width="0.8" height="0.8" fill="#a9b31b"/><rect x="59.45" y="80.5" width="0.8" height="0.8" fill="#b5ad1a"/><rect x="60.2" y="80.5" width="0.8" height="0.8" fill="#d0a018"/><rect x="60.95" y="80.5" width="0.8" height="0.8" fill="#d0a018"/><rect x="61.7" y="80.5" width="0.8" height="0.8" fill="#9cb91c"/><rect x="62.45" y="80.5" width="0.8" height="0.8" fill="#68d021"/><rect x="63.2" y="80.5" width="0.8" height="0.8" fill="#9bba1c"/><rect x="63.95" y="80.5" width="0.8" height="0.8" fill="#82c61e"/><rect x="64.7" y="80.5" width="0.8" height="0.8" fill="#52d027"/><rect x="65.45" y="80.5" width="0.8" height="0.8" fill="#47d02a"/><rect x="66.2" y="80.5" width="0.8" height="0.8" fill="#46d02a"/><rect x="66.95" y="80.5" width="0.8" height="0.8" fill="#35d02e"/><rect x="67.7" y="80.5" width="0.8" height="0.8" fill="#209bc5"/><rect x="68.45" y="80.5" width="0.8" height="0.8" fill="#1daeac"/><rect x="69.2" y="80.5" width="0.8" height="0.8" fill="#225de4"/><rect x="69.95" y="80.5" width="0.8" height="0.8" fill="#236fe2"/><rect x="70.7" y="80.5" width="0.8" height="0.8" fill="#2239dc"/><rect x="71.45" y="80.5" width="0.8" height="0.8" fill="#223ee3"/><rect x="72.2" y="80.5" width="0.8" height="0.8" fill="#223ade"/><rect x="72.95" y="80.5" width="0.8" height="0.8" fill="#223ee3"/><rect x="73.7" y="80.5" width="0.8" height="0.8" fill="#223add"/><rect x="42.2" y="81.25" width="0.8" height="0.8" fill="#223bde"/><rect x="42.95" y="81.25" width="0.8" height="0.8" fill="#2263e4"/><rect x="43.7" y="81.25" width="0.8" height="0.8" fill="#21be7f"/><rect x="44.45" y="81.25" width="0.8" height="0.8" fill="#2290d5"/><rect x="45.2" y="81.25" width="0.8" height="0.8" fill="#1fa2bc"/><rect x="45.95" y="81.25" width="0.8" height="0.8" fill="#1dafab"/><rect x="46.7" y="81.25" width="0.8" height="0.8" fill="#1db0a9"/><rect x="47.45" y="81.25" width="0.8" height="0.8" fill="#2dcd3b"/><rect x="48.2" y="81.25" width="0.8" height="0.8" fill="#2ac851"/><rect x="48.95" y="81.25" width="0.8" height="0.8" fill="#60d023"/><rect x="49.7" y="81.25" width="0.8" height="0.8" fill="#48d029"/><rect x="50.45" y="81.25" width="0.8" height="0.8" fill="#68d021"/><rect x="51.2" y="81.25" width="0.8" height="0.8" fill="#69d021"/><rect x="51.95" y="81.25" width="0.8" height="0.8" fill="#65d022"/><rect x="52.7" y="81.25" width="0.8" height="0.8" fill="#4fd028"/><rect x="53.45" y="81.25" width="0.8" height="0.8" fill="#97bc1c"/><rect x="54.2" y="81.25" width="0.8" height="0.8" fill="#a2b61b"/><rect x="54.95" y="81.25" width="0.8" height="0.8" fill="#86c41e"/><rect x="55.7" y="81.25" width="0.8" height="0.8" fill="#93be1d"/><rect x="56.45" y="81.25" width="0.8" height="0.8" fill="#87c41e"/><rect x="57.2" y="81.25" width="0.8" height="0.8" fill="#d0a018"/><rect x="57.95" y="81.25" width="0.8" height="0.8" fill="#d0a018"/><rect x="58.7" y="81.25" width="0.8" height="0.8" fill="#d0a018"/><rect x="59.45" y="81.25" width="0.8" height="0.8" fill="#a0b71b"/><rect x="60.2" y="81.25" width="0.8" height="0.8" fill="#d0a018"/><rect x="60.95" y="81.25" width="0.8" height="0.8" fill="#d0a018"/><rect x="61.7" y="81.25" width="0.8" height="0.8" fill="#d0a018"/><rect x="62.45" y="81.25" width="0.8" height="0.8" fill="#77cc1f"/><rect x="63.2" y="81.25" width="0.8" height="0.8" fill="#98bb1c"/><rect x="63.95" y="81.25" width="0.8" height="0.8" fill="#6fd020"/><rect x="64.7" y="81.25" width="0.8" height="0.8" fill="#5dd024"/><rect x="65.45" y="81.25" width="0.8" height="0.8" fill="#44d02a"/><rect x="66.2" y="81.25" width="0.8" height="0.8" fill="#4bd029"/><rect x="66.95" y="81.25" width="0.8" height="0.8" fill="#3cd02c"/><rect x="67.7" y="81.25" width="0.8" height="0.8" fill="#2ac94f"/><rect x="68.45" y="81.25" width="0.8" height="0.8" fill="#1db1a8"/><rect x="69.2" y="81.25" width="0.8" height="0.8" fill="#2263e4"/><rect x="69.95" y="81.25" width="0.8" height="0.8" fill="#2375e2"/><rect x="70.7" y="81.25" width="0.8" height="0.8" fill="#2240e6"/><rect x="71.45" y="81.25" width="0.8" height="0.8" fill="#2258e5"/><rect x="72.2" y="81.25" width="0.8" height="0.8" fill="#2337da"/><rect x="72.95" y="81.25" width="0.8" height="0.8" fill="#2337da"/><rect x="73.84" y="81.31" width="0.8" height="0.8" fill="#3a48d0"/><rect x="74.45" y="81.25" width="0.8" height="0.8" fill="#2337d9"/><rect x="42.2" y="82" width="0.8" height="0.8" fill="#2250e6"/><rect x="42.95" y="82" width="0.8" height="0.8" fill="#2383e0"/><rect x="43.7" y="82" width="0.8" height="0.8" fill="#224fe6"/><rect x="44.45" y="82" width="0.8" height="0.8" fill="#29c853"/><rect x="45.2" y="82" width="0.8" height="0.8" fill="#209cc4"/><rect x="45.95" y="82" width="0.8" height="0.8" fill="#1db0aa"/><rect x="46.7" y="82" width="0.8" height="0.8" fill="#2ac94c"/><rect x="47.45" y="82" width="0.8" height="0.8" fill="#38d02d"/><rect x="48.2" y="82" width="0.8" height="0.8" fill="#3ad02d"/><rect x="48.95" y="82" width="0.8" height="0.8" fill="#58d025"/><rect x="49.7" y="82" width="0.8" height="0.8" fill="#66d022"/><rect x="50.45" y="82" width="0.8" height="0.8" fill="#3bd02d"/><rect x="51.2" y="82" width="0.8" height="0.8" fill="#4cd028"/><rect x="51.95" y="82" width="0.8" height="0.8" fill="#76cc1f"/><rect x="52.7" y="82" width="0.8" height="0.8" fill="#66d022"/><rect x="53.45" y="82" width="0.8" height="0.8" fill="#8bc21d"/><rect x="54.2" y="82" width="0.8" height="0.8" fill="#8ec01d"/><rect x="54.95" y="82" width="0.8" height="0.8" fill="#abb21b"/><rect x="55.7" y="82" width="0.8" height="0.8" fill="#a4b51b"/><rect x="56.45" y="82" width="0.8" height="0.8" fill="#c8a318"/><rect x="57.2" y="82" width="0.8" height="0.8" fill="#75cd1f"/><rect x="57.95" y="82" width="0.8" height="0.8" fill="#c3a619"/><rect x="58.7" y="82" width="0.8" height="0.8" fill="#d0a018"/><rect x="59.45" y="82" width="0.8" height="0.8" fill="#c4a518"/><rect x="60.2" y="82" width="0.8" height="0.8" fill="#d0a018"/><rect x="60.95" y="82" width="0.8" height="0.8" fill="#bbaa19"/><rect x="61.7" y="82" width="0.8" height="0.8" fill="#d0a018"/><rect x="62.45" y="82" width="0.8" height="0.8" fill="#b4ad1a"/><rect x="63.2" y="82" width="0.8" height="0.8" fill="#b5ad1a"/><rect x="63.95" y="82" width="0.8" height="0.8" fill="#7dc91e"/><rect x="64.7" y="82" width="0.8" height="0.8" fill="#71cf1f"/><rect x="65.45" y="82" width="0.8" height="0.8" fill="#4ad029"/><rect x="66.2" y="82" width="0.8" height="0.8" fill="#47d02a"/><rect x="66.95" y="82" width="0.8" height="0.8" fill="#2dcc3f"/><rect x="67.7" y="82" width="0.8" height="0.8" fill="#26c562"/><rect x="68.45" y="82" width="0.8" height="0.8" fill="#1dadad"/><rect x="69.2" y="82" width="0.8" height="0.8" fill="#236ae3"/><rect x="69.95" y="82" width="0.8" height="0.8" fill="#2252e6"/><rect x="70.7" y="82" width="0.8" height="0.8" fill="#2259e5"/><rect x="71.45" y="82" width="0.8" height="0.8" fill="#223ade"/><rect x="72.2" y="82" width="0.8" height="0.8" fill="#2335d6"/><rect x="73.7" y="82" width="0.8" height="0.8" fill="#2337d9"/><rect x="74.45" y="82" width="0.8" height="0.8" fill="#223bdf"/><rect x="77.54" y="82.29" width="0.8" height="0.8" fill="#3040d0"/><rect x="78.3" y="82.22" width="0.8" height="0.8" fill="#6470cc"/><rect x="42.2" y="82.75" width="0.8" height="0.8" fill="#223fe5"/><rect x="42.95" y="82.75" width="0.8" height="0.8" fill="#236ee2"/><rect x="43.7" y="82.75" width="0.8" height="0.8" fill="#2373e2"/><rect x="44.45" y="82.75" width="0.8" height="0.8" fill="#1fa3ba"/><rect x="45.2" y="82.75" width="0.8" height="0.8" fill="#238bdb"/><rect x="45.95" y="82.75" width="0.8" height="0.8" fill="#2fce35"/><rect x="46.7" y="82.75" width="0.8" height="0.8" fill="#4cd028"/><rect x="47.45" y="82.75" width="0.8" height="0.8" fill="#36d02e"/><rect x="48.2" y="82.75" width="0.8" height="0.8" fill="#4bd029"/><rect x="48.95" y="82.75" width="0.8" height="0.8" fill="#46d02a"/><rect x="49.7" y="82.75" width="0.8" height="0.8" fill="#48d029"/><rect x="50.45" y="82.75" width="0.8" height="0.8" fill="#67d022"/><rect x="51.2" y="82.75" width="0.8" height="0.8" fill="#5bd025"/><rect x="51.95" y="82.75" width="0.8" height="0.8" fill="#80c71e"/><rect x="52.7" y="82.75" width="0.8" height="0.8" fill="#a1b71b"/><rect x="53.45" y="82.75" width="0.8" height="0.8" fill="#83c61e"/><rect x="54.2" y="82.75" width="0.8" height="0.8" fill="#b2ae1a"/><rect x="54.95" y="82.75" width="0.8" height="0.8" fill="#71cf1f"/><rect x="55.7" y="82.75" width="0.8" height="0.8" fill="#93be1d"/><rect x="56.45" y="82.75" width="0.8" height="0.8" fill="#96bc1c"/><rect x="57.2" y="82.75" width="0.8" height="0.8" fill="#96bc1c"/><rect x="57.95" y="82.75" width="0.8" height="0.8" fill="#a1b71b"/><rect x="58.7" y="82.75" width="0.8" height="0.8" fill="#cda118"/><rect x="59.45" y="82.75" width="0.8" height="0.8" fill="#aab21b"/><rect x="60.2" y="82.75" width="0.8" height="0.8" fill="#cea018"/><rect x="60.95" y="82.75" width="0.8" height="0.8" fill="#acb11a"/><rect x="61.7" y="82.75" width="0.8" height="0.8" fill="#c9a318"/><rect x="62.45" y="82.75" width="0.8" height="0.8" fill="#abb21b"/><rect x="63.2" y="82.75" width="0.8" height="0.8" fill="#aab21b"/><rect x="63.95" y="82.75" width="0.8" height="0.8" fill="#75cd1f"/><rect x="64.7" y="82.75" width="0.8" height="0.8" fill="#68d021"/><rect x="65.45" y="82.75" width="0.8" height="0.8" fill="#58d025"/><rect x="66.2" y="82.75" width="0.8" height="0.8" fill="#5ad025"/><rect x="66.95" y="82.75" width="0.8" height="0.8" fill="#28c65b"/><rect x="67.7" y="82.75" width="0.8" height="0.8" fill="#1dba96"/><rect x="68.45" y="82.75" width="0.8" height="0.8" fill="#1ea9b3"/><rect x="69.2" y="82.75" width="0.8" height="0.8" fill="#2386e0"/><rect x="69.95" y="82.75" width="0.8" height="0.8" fill="#2366e3"/><rect x="70.7" y="82.75" width="0.8" height="0.8" fill="#224ee6"/><rect x="71.45" y="82.75" width="0.8" height="0.8" fill="#2239dc"/><rect x="72.2" y="82.75" width="0.8" height="0.8" fill="#223bdf"/><rect x="72.95" y="82.75" width="0.8" height="0.8" fill="#2239dc"/><rect x="76.1" y="82.75" width="0.8" height="0.8" fill="#6470cc"/><rect x="42.2" y="83.5" width="0.8" height="0.8" fill="#225fe4"/><rect x="42.95" y="83.5" width="0.8" height="0.8" fill="#2369e3"/><rect x="43.7" y="83.5" width="0.8" height="0.8" fill="#2ccc42"/><rect x="44.45" y="83.5" width="0.8" height="0.8" fill="#20bd84"/><rect x="45.2" y="83.5" width="0.8" height="0.8" fill="#238dd8"/><rect x="45.95" y="83.5" width="0.8" height="0.8" fill="#1ea6b6"/><rect x="46.7" y="83.5" width="0.8" height="0.8" fill="#2bca4b"/><rect x="47.45" y="83.5" width="0.8" height="0.8" fill="#25c368"/><rect x="48.2" y="83.5" width="0.8" height="0.8" fill="#41d02b"/><rect x="48.95" y="83.5" width="0.8" height="0.8" fill="#38d02d"/><rect x="49.7" y="83.5" width="0.8" height="0.8" fill="#56d026"/><rect x="50.45" y="83.5" width="0.8" height="0.8" fill="#44d02a"/><rect x="51.2" y="83.5" width="0.8" height="0.8" fill="#80c71e"/><rect x="51.95" y="83.5" width="0.8" height="0.8" fill="#49d029"/><rect x="52.7" y="83.5" width="0.8" height="0.8" fill="#6ad021"/><rect x="53.45" y="83.5" width="0.8" height="0.8" fill="#65d022"/><rect x="54.2" y="83.5" width="0.8" height="0.8" fill="#53d027"/><rect x="54.95" y="83.5" width="0.8" height="0.8" fill="#93be1d"/><rect x="55.7" y="83.5" width="0.8" height="0.8" fill="#7dc91e"/><rect x="56.45" y="83.5" width="0.8" height="0.8" fill="#a1b71b"/><rect x="57.2" y="83.5" width="0.8" height="0.8" fill="#97bc1c"/><rect x="57.95" y="83.5" width="0.8" height="0.8" fill="#b3ae1a"/><rect x="58.7" y="83.5" width="0.8" height="0.8" fill="#d0a018"/><rect x="59.45" y="83.5" width="0.8" height="0.8" fill="#cda118"/><rect x="60.2" y="83.5" width="0.8" height="0.8" fill="#d0a018"/><rect x="60.95" y="83.5" width="0.8" height="0.8" fill="#b9ab19"/><rect x="61.7" y="83.5" width="0.8" height="0.8" fill="#98bb1c"/><rect x="62.45" y="83.5" width="0.8" height="0.8" fill="#caa218"/><rect x="63.2" y="83.5" width="0.8" height="0.8" fill="#72ce1f"/><rect x="63.95" y="83.5" width="0.8" height="0.8" fill="#83c61e"/><rect x="64.7" y="83.5" width="0.8" height="0.8" fill="#58d025"/><rect x="65.45" y="83.5" width="0.8" height="0.8" fill="#46d02a"/><rect x="66.2" y="83.5" width="0.8" height="0.8" fill="#32d02f"/><rect x="66.95" y="83.5" width="0.8" height="0.8" fill="#2dcd3c"/><rect x="67.7" y="83.5" width="0.8" height="0.8" fill="#228fd5"/><rect x="68.45" y="83.5" width="0.8" height="0.8" fill="#20bd84"/><rect x="69.2" y="83.5" width="0.8" height="0.8" fill="#25c36a"/><rect x="69.95" y="83.5" width="0.8" height="0.8" fill="#2248e7"/><rect x="70.7" y="83.5" width="0.8" height="0.8" fill="#2250e6"/><rect x="71.45" y="83.5" width="0.8" height="0.8" fill="#223ee2"/><rect x="72.2" y="83.5" width="0.8" height="0.8" fill="#2336d8"/><rect x="72.95" y="83.5" width="0.8" height="0.8" fill="#223bde"/><rect x="74.45" y="83.5" width="0.8" height="0.8" fill="#2337d9"/><rect x="75.2" y="83.5" width="0.8" height="0.8" fill="#2337da"/><rect x="76.23" y="83.7" width="0.8" height="0.8" fill="#4a58d0"/><rect x="42.2" y="84.25" width="0.8" height="0.8" fill="#2373e2"/><rect x="42.95" y="84.25" width="0.8" height="0.8" fill="#236ce3"/><rect x="43.7" y="84.25" width="0.8" height="0.8" fill="#20bd85"/><rect x="44.45" y="84.25" width="0.8" height="0.8" fill="#1fa0bf"/><rect x="45.2" y="84.25" width="0.8" height="0.8" fill="#1eabb0"/><rect x="45.95" y="84.25" width="0.8" height="0.8" fill="#1cb2a7"/><rect x="46.7" y="84.25" width="0.8" height="0.8" fill="#1ea6b7"/><rect x="47.45" y="84.25" width="0.8" height="0.8" fill="#1db1a9"/><rect x="48.2" y="84.25" width="0.8" height="0.8" fill="#28c65b"/><rect x="48.95" y="84.25" width="0.8" height="0.8" fill="#2ecd39"/><rect x="49.7" y="84.25" width="0.8" height="0.8" fill="#37d02e"/><rect x="50.45" y="84.25" width="0.8" height="0.8" fill="#4fd028"/><rect x="51.2" y="84.25" width="0.8" height="0.8" fill="#51d027"/><rect x="51.95" y="84.25" width="0.8" height="0.8" fill="#61d023"/><rect x="52.7" y="84.25" width="0.8" height="0.8" fill="#5ed024"/><rect x="53.45" y="84.25" width="0.8" height="0.8" fill="#74cd1f"/><rect x="54.2" y="84.25" width="0.8" height="0.8" fill="#61d023"/><rect x="54.95" y="84.25" width="0.8" height="0.8" fill="#83c61e"/><rect x="55.7" y="84.25" width="0.8" height="0.8" fill="#69d021"/><rect x="56.45" y="84.25" width="0.8" height="0.8" fill="#d0a018"/><rect x="57.2" y="84.25" width="0.8" height="0.8" fill="#9aba1c"/><rect x="57.95" y="84.25" width="0.8" height="0.8" fill="#bbaa19"/><rect x="58.7" y="84.25" width="0.8" height="0.8" fill="#b2ae1a"/><rect x="59.45" y="84.25" width="0.8" height="0.8" fill="#91bf1d"/><rect x="60.2" y="84.25" width="0.8" height="0.8" fill="#cba218"/><rect x="60.95" y="84.25" width="0.8" height="0.8" fill="#afb01a"/><rect x="61.7" y="84.25" width="0.8" height="0.8" fill="#7dc91e"/><rect x="62.45" y="84.25" width="0.8" height="0.8" fill="#b3ae1a"/><rect x="63.2" y="84.25" width="0.8" height="0.8" fill="#6cd020"/><rect x="63.95" y="84.25" width="0.8" height="0.8" fill="#72ce1f"/><rect x="64.7" y="84.25" width="0.8" height="0.8" fill="#41d02b"/><rect x="65.45" y="84.25" width="0.8" height="0.8" fill="#45d02a"/><rect x="66.2" y="84.25" width="0.8" height="0.8" fill="#3ad02d"/><rect x="66.95" y="84.25" width="0.8" height="0.8" fill="#2ccb45"/><rect x="67.7" y="84.25" width="0.8" height="0.8" fill="#1db997"/><rect x="68.45" y="84.25" width="0.8" height="0.8" fill="#2380e0"/><rect x="69.2" y="84.25" width="0.8" height="0.8" fill="#1cb7a1"/><rect x="69.95" y="84.25" width="0.8" height="0.8" fill="#2249e7"/><rect x="70.7" y="84.25" width="0.8" height="0.8" fill="#2240e6"/><rect x="71.45" y="84.25" width="0.8" height="0.8" fill="#223ee3"/><rect x="72.2" y="84.25" width="0.8" height="0.8" fill="#223bdf"/><rect x="72.95" y="84.25" width="0.8" height="0.8" fill="#2239dc"/><rect x="75.2" y="84.25" width="0.8" height="0.8" fill="#223add"/><rect x="77.59" y="84.31" width="0.8" height="0.8" fill="#3040d0"/><rect x="42.2" y="85" width="0.8" height="0.8" fill="#2255e5"/><rect x="42.95" y="85" width="0.8" height="0.8" fill="#2251e6"/><rect x="43.7" y="85" width="0.8" height="0.8" fill="#2196cc"/><rect x="44.45" y="85" width="0.8" height="0.8" fill="#2387e0"/><rect x="45.2" y="85" width="0.8" height="0.8" fill="#22bf7d"/><rect x="45.95" y="85" width="0.8" height="0.8" fill="#1db0aa"/><rect x="46.7" y="85" width="0.8" height="0.8" fill="#31d02f"/><rect x="47.45" y="85" width="0.8" height="0.8" fill="#2ccb46"/><rect x="48.2" y="85" width="0.8" height="0.8" fill="#28c65a"/><rect x="48.95" y="85" width="0.8" height="0.8" fill="#2dcd3c"/><rect x="49.7" y="85" width="0.8" height="0.8" fill="#52d027"/><rect x="50.45" y="85" width="0.8" height="0.8" fill="#46d02a"/><rect x="51.2" y="85" width="0.8" height="0.8" fill="#4fd028"/><rect x="51.95" y="85" width="0.8" height="0.8" fill="#5ad025"/><rect x="52.7" y="85" width="0.8" height="0.8" fill="#50d027"/><rect x="53.45" y="85" width="0.8" height="0.8" fill="#52d027"/><rect x="54.2" y="85" width="0.8" height="0.8" fill="#59d025"/><rect x="54.95" y="85" width="0.8" height="0.8" fill="#7cc91e"/><rect x="55.7" y="85" width="0.8" height="0.8" fill="#7aca1f"/><rect x="56.45" y="85" width="0.8" height="0.8" fill="#74cd1f"/><rect x="57.2" y="85" width="0.8" height="0.8" fill="#6fd020"/><rect x="57.95" y="85" width="0.8" height="0.8" fill="#8dc11d"/><rect x="58.7" y="85" width="0.8" height="0.8" fill="#a1b71b"/><rect x="59.45" y="85" width="0.8" height="0.8" fill="#77cc1f"/><rect x="60.2" y="85" width="0.8" height="0.8" fill="#8ac21d"/><rect x="60.95" y="85" width="0.8" height="0.8" fill="#c7a418"/><rect x="61.7" y="85" width="0.8" height="0.8" fill="#87c41e"/><rect x="62.45" y="85" width="0.8" height="0.8" fill="#73ce1f"/><rect x="63.2" y="85" width="0.8" height="0.8" fill="#63d023"/><rect x="63.95" y="85" width="0.8" height="0.8" fill="#5bd025"/><rect x="64.7" y="85" width="0.8" height="0.8" fill="#5ed024"/><rect x="65.45" y="85" width="0.8" height="0.8" fill="#34d02e"/><rect x="66.2" y="85" width="0.8" height="0.8" fill="#31d02f"/><rect x="66.95" y="85" width="0.8" height="0.8" fill="#45d02a"/><rect x="67.7" y="85" width="0.8" height="0.8" fill="#1eba93"/><rect x="68.45" y="85" width="0.8" height="0.8" fill="#237ae1"/><rect x="69.2" y="85" width="0.8" height="0.8" fill="#228ed7"/><rect x="69.95" y="85" width="0.8" height="0.8" fill="#225ee4"/><rect x="70.7" y="85" width="0.8" height="0.8" fill="#223fe4"/><rect x="71.45" y="85" width="0.8" height="0.8" fill="#223add"/><rect x="72.2" y="85" width="0.8" height="0.8" fill="#2239dc"/><rect x="72.95" y="85" width="0.8" height="0.8" fill="#2338db"/><rect x="73.7" y="85" width="0.8" height="0.8" fill="#2243e7"/><rect x="42.2" y="85.75" width="0.8" height="0.8" fill="#225ee4"/><rect x="42.95" y="85.75" width="0.8" height="0.8" fill="#1dafab"/><rect x="43.7" y="85.75" width="0.8" height="0.8" fill="#2387e0"/><rect x="44.45" y="85.75" width="0.8" height="0.8" fill="#2260e4"/><rect x="45.2" y="85.75" width="0.8" height="0.8" fill="#238bdb"/><rect x="45.95" y="85.75" width="0.8" height="0.8" fill="#209dc3"/><rect x="46.7" y="85.75" width="0.8" height="0.8" fill="#1fbc8b"/><rect x="47.45" y="85.75" width="0.8" height="0.8" fill="#238dd8"/><rect x="48.2" y="85.75" width="0.8" height="0.8" fill="#3ad02d"/><rect x="48.95" y="85.75" width="0.8" height="0.8" fill="#43d02b"/><rect x="49.7" y="85.75" width="0.8" height="0.8" fill="#57d026"/><rect x="50.45" y="85.75" width="0.8" height="0.8" fill="#34d02e"/><rect x="51.2" y="85.75" width="0.8" height="0.8" fill="#35d02e"/><rect x="51.95" y="85.75" width="0.8" height="0.8" fill="#71cf1f"/><rect x="52.7" y="85.75" width="0.8" height="0.8" fill="#44d02a"/><rect x="53.45" y="85.75" width="0.8" height="0.8" fill="#36d02e"/><rect x="54.2" y="85.75" width="0.8" height="0.8" fill="#4ed028"/><rect x="54.95" y="85.75" width="0.8" height="0.8" fill="#59d025"/><rect x="55.7" y="85.75" width="0.8" height="0.8" fill="#65d022"/><rect x="56.45" y="85.75" width="0.8" height="0.8" fill="#6fd020"/><rect x="57.2" y="85.75" width="0.8" height="0.8" fill="#82c61e"/><rect x="57.95" y="85.75" width="0.8" height="0.8" fill="#b1af1a"/><rect x="58.7" y="85.75" width="0.8" height="0.8" fill="#68d021"/><rect x="59.45" y="85.75" width="0.8" height="0.8" fill="#7dc91e"/><rect x="60.2" y="85.75" width="0.8" height="0.8" fill="#6ad021"/><rect x="60.95" y="85.75" width="0.8" height="0.8" fill="#6cd020"/><rect x="61.7" y="85.75" width="0.8" height="0.8" fill="#87c41e"/><rect x="62.45" y="85.75" width="0.8" height="0.8" fill="#6ed020"/><rect x="63.2" y="85.75" width="0.8" height="0.8" fill="#64d022"/><rect x="63.95" y="85.75" width="0.8" height="0.8" fill="#3fd02c"/><rect x="64.7" y="85.75" width="0.8" height="0.8" fill="#54d026"/><rect x="65.45" y="85.75" width="0.8" height="0.8" fill="#3dd02c"/><rect x="66.2" y="85.75" width="0.8" height="0.8" fill="#1fa1bd"/><rect x="66.95" y="85.75" width="0.8" height="0.8" fill="#28c759"/><rect x="67.7" y="85.75" width="0.8" height="0.8" fill="#1cb89c"/><rect x="68.45" y="85.75" width="0.8" height="0.8" fill="#238cd9"/><rect x="69.2" y="85.75" width="0.8" height="0.8" fill="#2374e2"/><rect x="69.95" y="85.75" width="0.8" height="0.8" fill="#2252e6"/><rect x="70.7" y="85.75" width="0.8" height="0.8" fill="#237ce1"/><rect x="71.45" y="85.75" width="0.8" height="0.8" fill="#223de2"/><rect x="72.2" y="85.75" width="0.8" height="0.8" fill="#223ce0"/><rect x="72.95" y="85.75" width="0.8" height="0.8" fill="#2335d7"/><rect x="73.78" y="85.82" width="0.8" height="0.8" fill="#3a48d0"/><rect x="75.95" y="85.75" width="0.8" height="0.8" fill="#223ade"/><rect x="42.2" y="86.5" width="0.8" height="0.8" fill="#2240e5"/><rect x="42.95" y="86.5" width="0.8" height="0.8" fill="#236ce3"/><rect x="43.7" y="86.5" width="0.8" height="0.8" fill="#2259e5"/><rect x="44.45" y="86.5" width="0.8" height="0.8" fill="#238cda"/><rect x="45.2" y="86.5" width="0.8" height="0.8" fill="#2370e2"/><rect x="45.95" y="86.5" width="0.8" height="0.8" fill="#2381e0"/><rect x="46.7" y="86.5" width="0.8" height="0.8" fill="#1dafab"/><rect x="47.45" y="86.5" width="0.8" height="0.8" fill="#2195ce"/><rect x="48.2" y="86.5" width="0.8" height="0.8" fill="#21be83"/><rect x="48.95" y="86.5" width="0.8" height="0.8" fill="#27c560"/><rect x="49.7" y="86.5" width="0.8" height="0.8" fill="#2ecd39"/><rect x="50.45" y="86.5" width="0.8" height="0.8" fill="#3ed02c"/><rect x="51.2" y="86.5" width="0.8" height="0.8" fill="#4ad029"/><rect x="51.95" y="86.5" width="0.8" height="0.8" fill="#27c55e"/><rect x="52.7" y="86.5" width="0.8" height="0.8" fill="#42d02b"/><rect x="53.45" y="86.5" width="0.8" height="0.8" fill="#40d02b"/><rect x="54.2" y="86.5" width="0.8" height="0.8" fill="#4cd028"/><rect x="54.95" y="86.5" width="0.8" height="0.8" fill="#69d021"/><rect x="55.7" y="86.5" width="0.8" height="0.8" fill="#5ed024"/><rect x="56.45" y="86.5" width="0.8" height="0.8" fill="#4dd028"/><rect x="57.2" y="86.5" width="0.8" height="0.8" fill="#5cd024"/><rect x="57.95" y="86.5" width="0.8" height="0.8" fill="#60d023"/><rect x="58.7" y="86.5" width="0.8" height="0.8" fill="#69d021"/><rect x="59.45" y="86.5" width="0.8" height="0.8" fill="#7ec81e"/><rect x="60.2" y="86.5" width="0.8" height="0.8" fill="#6cd020"/><rect x="60.95" y="86.5" width="0.8" height="0.8" fill="#57d026"/><rect x="61.7" y="86.5" width="0.8" height="0.8" fill="#4dd028"/><rect x="62.45" y="86.5" width="0.8" height="0.8" fill="#53d027"/><rect x="63.2" y="86.5" width="0.8" height="0.8" fill="#54d026"/><rect x="63.95" y="86.5" width="0.8" height="0.8" fill="#49d029"/><rect x="64.7" y="86.5" width="0.8" height="0.8" fill="#2fcf30"/><rect x="65.45" y="86.5" width="0.8" height="0.8" fill="#20bd88"/><rect x="66.2" y="86.5" width="0.8" height="0.8" fill="#209fc1"/><rect x="66.95" y="86.5" width="0.8" height="0.8" fill="#1cb89d"/><rect x="67.7" y="86.5" width="0.8" height="0.8" fill="#236be3"/><rect x="68.45" y="86.5" width="0.8" height="0.8" fill="#225de4"/><rect x="69.2" y="86.5" width="0.8" height="0.8" fill="#2247e7"/><rect x="69.95" y="86.5" width="0.8" height="0.8" fill="#2337d9"/><rect x="70.7" y="86.5" width="0.8" height="0.8" fill="#223ade"/><rect x="71.45" y="86.5" width="0.8" height="0.8" fill="#2336d8"/><rect x="72.2" y="86.5" width="0.8" height="0.8" fill="#223fe4"/><rect x="73.7" y="86.5" width="0.8" height="0.8" fill="#223bdf"/><rect x="74.45" y="86.5" width="0.8" height="0.8" fill="#2335d6"/><rect x="75.31" y="86.72" width="0.8" height="0.8" fill="#4a58d0"/><rect x="76.95" y="86.75" width="0.8" height="0.8" fill="#3040d0"/><rect x="78.48" y="86.68" width="0.8" height="0.8" fill="#6470cc"/><rect x="42.2" y="87.25" width="0.8" height="0.8" fill="#2240e5"/><rect x="42.95" y="87.25" width="0.8" height="0.8" fill="#223add"/><rect x="43.7" y="87.25" width="0.8" height="0.8" fill="#2389de"/><rect x="44.45" y="87.25" width="0.8" height="0.8" fill="#1fa3bb"/><rect x="45.2" y="87.25" width="0.8" height="0.8" fill="#2389de"/><rect x="45.95" y="87.25" width="0.8" height="0.8" fill="#237ce1"/><rect x="46.7" y="87.25" width="0.8" height="0.8" fill="#2196cc"/><rect x="47.45" y="87.25" width="0.8" height="0.8" fill="#1db1a8"/><rect x="48.2" y="87.25" width="0.8" height="0.8" fill="#22bf7e"/><rect x="48.95" y="87.25" width="0.8" height="0.8" fill="#34d02e"/><rect x="49.7" y="87.25" width="0.8" height="0.8" fill="#1eaab1"/><rect x="50.45" y="87.25" width="0.8" height="0.8" fill="#33d02f"/><rect x="51.2" y="87.25" width="0.8" height="0.8" fill="#50d027"/><rect x="51.95" y="87.25" width="0.8" height="0.8" fill="#34d02e"/><rect x="52.7" y="87.25" width="0.8" height="0.8" fill="#3cd02c"/><rect x="53.45" y="87.25" width="0.8" height="0.8" fill="#52d027"/><rect x="54.2" y="87.25" width="0.8" height="0.8" fill="#59d025"/><rect x="54.95" y="87.25" width="0.8" height="0.8" fill="#58d025"/><rect x="55.7" y="87.25" width="0.8" height="0.8" fill="#41d02b"/><rect x="56.45" y="87.25" width="0.8" height="0.8" fill="#60d023"/><rect x="57.2" y="87.25" width="0.8" height="0.8" fill="#41d02b"/><rect x="57.95" y="87.25" width="0.8" height="0.8" fill="#60d023"/><rect x="58.7" y="87.25" width="0.8" height="0.8" fill="#57d026"/><rect x="59.45" y="87.25" width="0.8" height="0.8" fill="#45d02a"/><rect x="60.2" y="87.25" width="0.8" height="0.8" fill="#3cd02c"/><rect x="60.95" y="87.25" width="0.8" height="0.8" fill="#50d027"/><rect x="61.7" y="87.25" width="0.8" height="0.8" fill="#52d027"/><rect x="62.45" y="87.25" width="0.8" height="0.8" fill="#58d025"/><rect x="63.2" y="87.25" width="0.8" height="0.8" fill="#46d02a"/><rect x="63.95" y="87.25" width="0.8" height="0.8" fill="#3bd02d"/><rect x="64.7" y="87.25" width="0.8" height="0.8" fill="#1db998"/><rect x="65.45" y="87.25" width="0.8" height="0.8" fill="#27c55f"/><rect x="66.2" y="87.25" width="0.8" height="0.8" fill="#237ce1"/><rect x="66.95" y="87.25" width="0.8" height="0.8" fill="#21be81"/><rect x="67.7" y="87.25" width="0.8" height="0.8" fill="#2379e1"/><rect x="68.45" y="87.25" width="0.8" height="0.8" fill="#1eaab2"/><rect x="69.2" y="87.25" width="0.8" height="0.8" fill="#2253e6"/><rect x="69.95" y="87.25" width="0.8" height="0.8" fill="#223de2"/><rect x="70.7" y="87.25" width="0.8" height="0.8" fill="#223ce0"/><rect x="71.45" y="87.25" width="0.8" height="0.8" fill="#2253e5"/><rect x="73.05" y="87.54" width="0.8" height="0.8" fill="#4a58d0"/><rect x="73.7" y="87.25" width="0.8" height="0.8" fill="#2239dc"/><rect x="74.69" y="87.48" width="0.8" height="0.8" fill="#3040d0"/><rect x="77.49" y="87.42" width="0.8" height="0.8" fill="#6470cc"/><rect x="79.07" y="87.47" width="0.8" height="0.8" fill="#7880c8"/><rect x="42.2" y="88" width="0.8" height="0.8" fill="#223de2"/><rect x="42.95" y="88" width="0.8" height="0.8" fill="#223ce1"/><rect x="43.7" y="88" width="0.8" height="0.8" fill="#2383e0"/><rect x="44.45" y="88" width="0.8" height="0.8" fill="#2240e6"/><rect x="45.2" y="88" width="0.8" height="0.8" fill="#225ee4"/><rect x="45.95" y="88" width="0.8" height="0.8" fill="#238bda"/><rect x="46.7" y="88" width="0.8" height="0.8" fill="#22bf7b"/><rect x="47.45" y="88" width="0.8" height="0.8" fill="#26c465"/><rect x="48.2" y="88" width="0.8" height="0.8" fill="#2291d3"/><rect x="48.95" y="88" width="0.8" height="0.8" fill="#1cb3a5"/><rect x="49.7" y="88" width="0.8" height="0.8" fill="#24c270"/><rect x="50.45" y="88" width="0.8" height="0.8" fill="#2bca48"/><rect x="51.2" y="88" width="0.8" height="0.8" fill="#31d02f"/><rect x="51.95" y="88" width="0.8" height="0.8" fill="#38d02d"/><rect x="52.7" y="88" width="0.8" height="0.8" fill="#53d027"/><rect x="53.45" y="88" width="0.8" height="0.8" fill="#27c562"/><rect x="54.2" y="88" width="0.8" height="0.8" fill="#2dcc3f"/><rect x="54.95" y="88" width="0.8" height="0.8" fill="#4cd028"/><rect x="55.7" y="88" width="0.8" height="0.8" fill="#24c271"/><rect x="56.45" y="88" width="0.8" height="0.8" fill="#2fcf33"/><rect x="57.2" y="88" width="0.8" height="0.8" fill="#4fd028"/><rect x="57.95" y="88" width="0.8" height="0.8" fill="#46d02a"/><rect x="58.7" y="88" width="0.8" height="0.8" fill="#5ad025"/><rect x="59.45" y="88" width="0.8" height="0.8" fill="#3dd02c"/><rect x="60.2" y="88" width="0.8" height="0.8" fill="#32d02f"/><rect x="60.95" y="88" width="0.8" height="0.8" fill="#55d026"/><rect x="61.7" y="88" width="0.8" height="0.8" fill="#56d026"/><rect x="62.45" y="88" width="0.8" height="0.8" fill="#3cd02c"/><rect x="63.2" y="88" width="0.8" height="0.8" fill="#33d02f"/><rect x="63.95" y="88" width="0.8" height="0.8" fill="#24c270"/><rect x="64.7" y="88" width="0.8" height="0.8" fill="#1db998"/><rect x="65.45" y="88" width="0.8" height="0.8" fill="#3fd02c"/><rect x="66.2" y="88" width="0.8" height="0.8" fill="#22bf7d"/><rect x="66.95" y="88" width="0.8" height="0.8" fill="#2376e2"/><rect x="67.7" y="88" width="0.8" height="0.8" fill="#2380e0"/><rect x="68.45" y="88" width="0.8" height="0.8" fill="#2259e5"/><rect x="69.2" y="88" width="0.8" height="0.8" fill="#2338db"/><rect x="69.95" y="88" width="0.8" height="0.8" fill="#225be5"/><rect x="70.7" y="88" width="0.8" height="0.8" fill="#2243e7"/><rect x="71.45" y="88" width="0.8" height="0.8" fill="#223bdf"/><rect x="72.2" y="88" width="0.8" height="0.8" fill="#223ce0"/><rect x="72.95" y="88" width="0.8" height="0.8" fill="#223bde"/><rect x="73.7" y="88" width="0.8" height="0.8" fill="#2239dc"/><rect x="42.2" y="88.75" width="0.8" height="0.8" fill="#223ee3"/><rect x="42.95" y="88.75" width="0.8" height="0.8" fill="#2338db"/><rect x="43.7" y="88.75" width="0.8" height="0.8" fill="#2252e6"/><rect x="44.45" y="88.75" width="0.8" height="0.8" fill="#223ee3"/><rect x="45.2" y="88.75" width="0.8" height="0.8" fill="#2376e2"/><rect x="45.95" y="88.75" width="0.8" height="0.8" fill="#225ae5"/><rect x="46.7" y="88.75" width="0.8" height="0.8" fill="#236ce3"/><rect x="47.45" y="88.75" width="0.8" height="0.8" fill="#2381e0"/><rect x="48.2" y="88.75" width="0.8" height="0.8" fill="#2292d2"/><rect x="48.95" y="88.75" width="0.8" height="0.8" fill="#1dba94"/><rect x="49.7" y="88.75" width="0.8" height="0.8" fill="#25c368"/><rect x="50.45" y="88.75" width="0.8" height="0.8" fill="#1cb2a7"/><rect x="51.2" y="88.75" width="0.8" height="0.8" fill="#39d02d"/><rect x="51.95" y="88.75" width="0.8" height="0.8" fill="#23c173"/><rect x="52.7" y="88.75" width="0.8" height="0.8" fill="#46d02a"/><rect x="53.45" y="88.75" width="0.8" height="0.8" fill="#44d02a"/><rect x="54.2" y="88.75" width="0.8" height="0.8" fill="#3fd02c"/><rect x="54.95" y="88.75" width="0.8" height="0.8" fill="#26c562"/><rect x="55.7" y="88.75" width="0.8" height="0.8" fill="#34d02e"/><rect x="56.45" y="88.75" width="0.8" height="0.8" fill="#56d026"/><rect x="57.2" y="88.75" width="0.8" height="0.8" fill="#31d02f"/><rect x="57.95" y="88.75" width="0.8" height="0.8" fill="#5ad025"/><rect x="58.7" y="88.75" width="0.8" height="0.8" fill="#3dd02c"/><rect x="59.45" y="88.75" width="0.8" height="0.8" fill="#33d02f"/><rect x="60.2" y="88.75" width="0.8" height="0.8" fill="#20bd85"/><rect x="60.95" y="88.75" width="0.8" height="0.8" fill="#55d026"/><rect x="61.7" y="88.75" width="0.8" height="0.8" fill="#30d02f"/><rect x="62.45" y="88.75" width="0.8" height="0.8" fill="#20bd87"/><rect x="63.2" y="88.75" width="0.8" height="0.8" fill="#238cd9"/><rect x="63.95" y="88.75" width="0.8" height="0.8" fill="#2ac94d"/><rect x="64.7" y="88.75" width="0.8" height="0.8" fill="#1ebb90"/><rect x="65.45" y="88.75" width="0.8" height="0.8" fill="#209bc5"/><rect x="66.2" y="88.75" width="0.8" height="0.8" fill="#237ee1"/><rect x="66.95" y="88.75" width="0.8" height="0.8" fill="#2252e6"/><rect x="67.7" y="88.75" width="0.8" height="0.8" fill="#224be6"/><rect x="68.45" y="88.75" width="0.8" height="0.8" fill="#223fe4"/><rect x="69.2" y="88.75" width="0.8" height="0.8" fill="#2337da"/><rect x="69.95" y="88.75" width="0.8" height="0.8" fill="#223ee2"/><rect x="70.7" y="88.75" width="0.8" height="0.8" fill="#223ade"/><rect x="72.2" y="88.75" width="0.8" height="0.8" fill="#2255e5"/><rect x="73.2" y="89.04" width="0.8" height="0.8" fill="#3a48d0"/><rect x="74.45" y="88.75" width="0.8" height="0.8" fill="#2239dc"/><rect x="42.2" y="89.5" width="0.8" height="0.8" fill="#223bdf"/><rect x="42.95" y="89.5" width="0.8" height="0.8" fill="#223de1"/><rect x="43.7" y="89.5" width="0.8" height="0.8" fill="#225ee4"/><rect x="44.45" y="89.5" width="0.8" height="0.8" fill="#2241e7"/><rect x="45.2" y="89.5" width="0.8" height="0.8" fill="#225ee4"/><rect x="45.95" y="89.5" width="0.8" height="0.8" fill="#2261e4"/><rect x="46.7" y="89.5" width="0.8" height="0.8" fill="#2253e6"/><rect x="47.45" y="89.5" width="0.8" height="0.8" fill="#2250e6"/><rect x="48.2" y="89.5" width="0.8" height="0.8" fill="#225be5"/><rect x="48.95" y="89.5" width="0.8" height="0.8" fill="#2250e6"/><rect x="49.7" y="89.5" width="0.8" height="0.8" fill="#1fa5b8"/><rect x="50.45" y="89.5" width="0.8" height="0.8" fill="#22c07a"/><rect x="51.2" y="89.5" width="0.8" height="0.8" fill="#29c854"/><rect x="51.95" y="89.5" width="0.8" height="0.8" fill="#1cb89d"/><rect x="52.7" y="89.5" width="0.8" height="0.8" fill="#28c65c"/><rect x="53.45" y="89.5" width="0.8" height="0.8" fill="#1db1a8"/><rect x="54.2" y="89.5" width="0.8" height="0.8" fill="#22bf7c"/><rect x="54.95" y="89.5" width="0.8" height="0.8" fill="#3ed02c"/><rect x="55.7" y="89.5" width="0.8" height="0.8" fill="#23c078"/><rect x="56.45" y="89.5" width="0.8" height="0.8" fill="#40d02b"/><rect x="57.2" y="89.5" width="0.8" height="0.8" fill="#2ccb43"/><rect x="57.95" y="89.5" width="0.8" height="0.8" fill="#2ecd39"/><rect x="58.7" y="89.5" width="0.8" height="0.8" fill="#38d02d"/><rect x="59.45" y="89.5" width="0.8" height="0.8" fill="#21be80"/><rect x="60.2" y="89.5" width="0.8" height="0.8" fill="#1ea9b3"/><rect x="60.95" y="89.5" width="0.8" height="0.8" fill="#1db1a8"/><rect x="61.7" y="89.5" width="0.8" height="0.8" fill="#2ccc41"/><rect x="62.45" y="89.5" width="0.8" height="0.8" fill="#28c65a"/><rect x="63.2" y="89.5" width="0.8" height="0.8" fill="#2195ce"/><rect x="63.95" y="89.5" width="0.8" height="0.8" fill="#1dafaa"/><rect x="64.7" y="89.5" width="0.8" height="0.8" fill="#237fe0"/><rect x="65.45" y="89.5" width="0.8" height="0.8" fill="#1ea8b5"/><rect x="66.2" y="89.5" width="0.8" height="0.8" fill="#1ea8b4"/><rect x="66.95" y="89.5" width="0.8" height="0.8" fill="#237ee1"/><rect x="67.7" y="89.5" width="0.8" height="0.8" fill="#2246e7"/><rect x="68.45" y="89.5" width="0.8" height="0.8" fill="#2239dc"/><rect x="69.2" y="89.5" width="0.8" height="0.8" fill="#223ce1"/><rect x="69.95" y="89.5" width="0.8" height="0.8" fill="#223ce0"/><rect x="70.7" y="89.5" width="0.8" height="0.8" fill="#223bdf"/><rect x="71.45" y="89.5" width="0.8" height="0.8" fill="#2244e7"/><rect x="72.2" y="89.5" width="0.8" height="0.8" fill="#223bdf"/><rect x="72.95" y="89.5" width="0.8" height="0.8" fill="#223ee2"/><rect x="73.7" y="89.5" width="0.8" height="0.8" fill="#223fe4"/><rect x="75.2" y="89.5" width="0.8" height="0.8" fill="#2337da"/><rect x="76.89" y="89.59" width="0.8" height="0.8" fill="#5560c8"/><rect x="77.45" y="89.5" width="0.8" height="0.8" fill="#2336d8"/><rect x="42.35" y="90.32" width="0.8" height="0.8" fill="#3040d0"/><rect x="43.7" y="90.25" width="0.8" height="0.8" fill="#223bdf"/><rect x="44.45" y="90.25" width="0.8" height="0.8" fill="#2242e7"/><rect x="45.2" y="90.25" width="0.8" height="0.8" fill="#2366e3"/><rect x="45.95" y="90.25" width="0.8" height="0.8" fill="#2263e4"/><rect x="46.7" y="90.25" width="0.8" height="0.8" fill="#237fe0"/><rect x="47.45" y="90.25" width="0.8" height="0.8" fill="#1ea8b4"/><rect x="48.2" y="90.25" width="0.8" height="0.8" fill="#236ee2"/><rect x="48.95" y="90.25" width="0.8" height="0.8" fill="#1cb2a7"/><rect x="49.7" y="90.25" width="0.8" height="0.8" fill="#1fa1bd"/><rect x="50.45" y="90.25" width="0.8" height="0.8" fill="#1ea9b3"/><rect x="51.2" y="90.25" width="0.8" height="0.8" fill="#21bf7e"/><rect x="51.95" y="90.25" width="0.8" height="0.8" fill="#2ac94c"/><rect x="52.7" y="90.25" width="0.8" height="0.8" fill="#2ccc42"/><rect x="53.45" y="90.25" width="0.8" height="0.8" fill="#1cb89f"/><rect x="54.2" y="90.25" width="0.8" height="0.8" fill="#2ccc40"/><rect x="54.95" y="90.25" width="0.8" height="0.8" fill="#1fa2bc"/><rect x="55.7" y="90.25" width="0.8" height="0.8" fill="#2290d4"/><rect x="56.45" y="90.25" width="0.8" height="0.8" fill="#238dd8"/><rect x="57.2" y="90.25" width="0.8" height="0.8" fill="#1dafab"/><rect x="57.95" y="90.25" width="0.8" height="0.8" fill="#2ece38"/><rect x="58.7" y="90.25" width="0.8" height="0.8" fill="#28c759"/><rect x="59.45" y="90.25" width="0.8" height="0.8" fill="#26c465"/><rect x="60.2" y="90.25" width="0.8" height="0.8" fill="#2293d0"/><rect x="60.95" y="90.25" width="0.8" height="0.8" fill="#1ea6b7"/><rect x="61.7" y="90.25" width="0.8" height="0.8" fill="#237fe0"/><rect x="62.45" y="90.25" width="0.8" height="0.8" fill="#2385e0"/><rect x="63.2" y="90.25" width="0.8" height="0.8" fill="#2377e1"/><rect x="63.95" y="90.25" width="0.8" height="0.8" fill="#2381e0"/><rect x="64.7" y="90.25" width="0.8" height="0.8" fill="#1eaab2"/><rect x="65.45" y="90.25" width="0.8" height="0.8" fill="#2291d3"/><rect x="66.2" y="90.25" width="0.8" height="0.8" fill="#223bde"/><rect x="66.95" y="90.25" width="0.8" height="0.8" fill="#225ee4"/><rect x="67.7" y="90.25" width="0.8" height="0.8" fill="#238dd9"/><rect x="68.45" y="90.25" width="0.8" height="0.8" fill="#223de1"/><rect x="69.2" y="90.25" width="0.8" height="0.8" fill="#223de1"/><rect x="69.95" y="90.25" width="0.8" height="0.8" fill="#223fe4"/><rect x="70.7" y="90.25" width="0.8" height="0.8" fill="#223fe4"/><rect x="71.64" y="90.43" width="0.8" height="0.8" fill="#6470cc"/><rect x="72.2" y="90.25" width="0.8" height="0.8" fill="#2338db"/><rect x="72.95" y="90.25" width="0.8" height="0.8" fill="#2336d8"/><rect x="73.97" y="90.28" width="0.8" height="0.8" fill="#4a58d0"/><rect x="74.55" y="90.4" width="0.8" height="0.8" fill="#4a58d0"/><rect x="76.74" y="90.49" width="0.8" height="0.8" fill="#3a48d0"/><rect x="77.49" y="90.3" width="0.8" height="0.8" fill="#9ca2d2"/><rect x="78.33" y="90.36" width="0.8" height="0.8" fill="#a4a9d6"/><rect x="42.2" y="91" width="0.8" height="0.8" fill="#223ce0"/><rect x="43.1" y="91.11" width="0.8" height="0.8" fill="#5560c8"/><rect x="43.7" y="91" width="0.8" height="0.8" fill="#2338da"/><rect x="44.45" y="91" width="0.8" height="0.8" fill="#2251e6"/><rect x="45.2" y="91" width="0.8" height="0.8" fill="#2335d7"/><rect x="45.95" y="91" width="0.8" height="0.8" fill="#2254e5"/><rect x="46.7" y="91" width="0.8" height="0.8" fill="#2254e5"/><rect x="47.45" y="91" width="0.8" height="0.8" fill="#236ee2"/><rect x="48.2" y="91" width="0.8" height="0.8" fill="#224fe6"/><rect x="48.95" y="91" width="0.8" height="0.8" fill="#2371e2"/><rect x="49.7" y="91" width="0.8" height="0.8" fill="#236de2"/><rect x="50.45" y="91" width="0.8" height="0.8" fill="#2293d0"/><rect x="51.2" y="91" width="0.8" height="0.8" fill="#238cd9"/><rect x="51.95" y="91" width="0.8" height="0.8" fill="#1dafab"/><rect x="52.7" y="91" width="0.8" height="0.8" fill="#2194cf"/><rect x="53.45" y="91" width="0.8" height="0.8" fill="#2194cf"/><rect x="54.2" y="91" width="0.8" height="0.8" fill="#26c466"/><rect x="54.95" y="91" width="0.8" height="0.8" fill="#1cb4a4"/><rect x="55.7" y="91" width="0.8" height="0.8" fill="#2377e1"/><rect x="56.45" y="91" width="0.8" height="0.8" fill="#2386e0"/><rect x="57.2" y="91" width="0.8" height="0.8" fill="#1cb5a2"/><rect x="57.95" y="91" width="0.8" height="0.8" fill="#1fbc89"/><rect x="58.7" y="91" width="0.8" height="0.8" fill="#20bd86"/><rect x="59.45" y="91" width="0.8" height="0.8" fill="#1ebb8f"/><rect x="60.2" y="91" width="0.8" height="0.8" fill="#209cc4"/><rect x="60.95" y="91" width="0.8" height="0.8" fill="#2262e4"/><rect x="61.7" y="91" width="0.8" height="0.8" fill="#2dcd3b"/><rect x="62.45" y="91" width="0.8" height="0.8" fill="#236ee2"/><rect x="63.2" y="91" width="0.8" height="0.8" fill="#2262e4"/><rect x="63.95" y="91" width="0.8" height="0.8" fill="#2253e6"/><rect x="64.7" y="91" width="0.8" height="0.8" fill="#2264e4"/><rect x="65.45" y="91" width="0.8" height="0.8" fill="#2367e3"/><rect x="66.2" y="91" width="0.8" height="0.8" fill="#2249e7"/><rect x="66.95" y="91" width="0.8" height="0.8" fill="#2245e7"/><rect x="67.7" y="91" width="0.8" height="0.8" fill="#2251e6"/><rect x="68.45" y="91" width="0.8" height="0.8" fill="#223bdf"/><rect x="69.34" y="91.22" width="0.8" height="0.8" fill="#3a48d0"/><rect x="69.95" y="91" width="0.8" height="0.8" fill="#223add"/><rect x="71.54" y="91.26" width="0.8" height="0.8" fill="#3a48d0"/><rect x="72.2" y="91" width="0.8" height="0.8" fill="#2337da"/><rect x="73.88" y="91.12" width="0.8" height="0.8" fill="#3a48d0"/><rect x="76.12" y="91.17" width="0.8" height="0.8" fill="#3a48d0"/><rect x="42.2" y="91.75" width="0.8" height="0.8" fill="#2335d7"/><rect x="42.95" y="91.75" width="0.8" height="0.8" fill="#2249e7"/><rect x="43.7" y="91.75" width="0.8" height="0.8" fill="#225ce5"/><rect x="44.45" y="91.75" width="0.8" height="0.8" fill="#2256e5"/><rect x="45.2" y="91.75" width="0.8" height="0.8" fill="#223fe5"/><rect x="45.95" y="91.75" width="0.8" height="0.8" fill="#224be6"/><rect x="46.7" y="91.75" width="0.8" height="0.8" fill="#223ce0"/><rect x="47.45" y="91.75" width="0.8" height="0.8" fill="#2255e5"/><rect x="48.2" y="91.75" width="0.8" height="0.8" fill="#2389dd"/><rect x="48.95" y="91.75" width="0.8" height="0.8" fill="#237ee1"/><rect x="49.7" y="91.75" width="0.8" height="0.8" fill="#2383e0"/><rect x="50.45" y="91.75" width="0.8" height="0.8" fill="#237ae1"/><rect x="51.2" y="91.75" width="0.8" height="0.8" fill="#2383e0"/><rect x="51.95" y="91.75" width="0.8" height="0.8" fill="#2380e0"/><rect x="52.7" y="91.75" width="0.8" height="0.8" fill="#2365e3"/><rect x="53.45" y="91.75" width="0.8" height="0.8" fill="#1ea9b3"/><rect x="54.2" y="91.75" width="0.8" height="0.8" fill="#1cb3a6"/><rect x="54.95" y="91.75" width="0.8" height="0.8" fill="#2291d3"/><rect x="55.7" y="91.75" width="0.8" height="0.8" fill="#225be5"/><rect x="56.45" y="91.75" width="0.8" height="0.8" fill="#2ac94f"/><rect x="57.2" y="91.75" width="0.8" height="0.8" fill="#1ebb90"/><rect x="57.95" y="91.75" width="0.8" height="0.8" fill="#2388de"/><rect x="58.7" y="91.75" width="0.8" height="0.8" fill="#238bdb"/><rect x="59.45" y="91.75" width="0.8" height="0.8" fill="#237fe0"/><rect x="60.2" y="91.75" width="0.8" height="0.8" fill="#2240e6"/><rect x="60.95" y="91.75" width="0.8" height="0.8" fill="#236ae3"/><rect x="61.7" y="91.75" width="0.8" height="0.8" fill="#209bc6"/><rect x="62.45" y="91.75" width="0.8" height="0.8" fill="#2244e7"/><rect x="63.2" y="91.75" width="0.8" height="0.8" fill="#236be3"/><rect x="63.95" y="91.75" width="0.8" height="0.8" fill="#2337d9"/><rect x="64.7" y="91.75" width="0.8" height="0.8" fill="#2241e6"/><rect x="65.45" y="91.75" width="0.8" height="0.8" fill="#2240e5"/><rect x="66.2" y="91.75" width="0.8" height="0.8" fill="#223ee2"/><rect x="66.95" y="91.75" width="0.8" height="0.8" fill="#2239dc"/><rect x="67.7" y="91.75" width="0.8" height="0.8" fill="#223fe4"/><rect x="68.45" y="91.75" width="0.8" height="0.8" fill="#2336d8"/><rect x="69.2" y="91.75" width="0.8" height="0.8" fill="#223de1"/><rect x="71.45" y="91.75" width="0.8" height="0.8" fill="#2338da"/><rect x="72.2" y="91.75" width="0.8" height="0.8" fill="#2239dc"/><rect x="76.05" y="91.79" width="0.8" height="0.8" fill="#6470cc"/><rect x="42.95" y="92.5" width="0.8" height="0.8" fill="#2337da"/><rect x="43.7" y="92.5" width="0.8" height="0.8" fill="#2337da"/><rect x="44.45" y="92.5" width="0.8" height="0.8" fill="#2241e7"/><rect x="45.2" y="92.5" width="0.8" height="0.8" fill="#2240e6"/><rect x="46.7" y="92.5" width="0.8" height="0.8" fill="#2261e4"/><rect x="47.45" y="92.5" width="0.8" height="0.8" fill="#223fe4"/><rect x="48.2" y="92.5" width="0.8" height="0.8" fill="#223ee3"/><rect x="48.95" y="92.5" width="0.8" height="0.8" fill="#2260e4"/><rect x="49.7" y="92.5" width="0.8" height="0.8" fill="#223bdf"/><rect x="50.45" y="92.5" width="0.8" height="0.8" fill="#224de6"/><rect x="51.2" y="92.5" width="0.8" height="0.8" fill="#209ac7"/><rect x="51.95" y="92.5" width="0.8" height="0.8" fill="#2259e5"/><rect x="52.7" y="92.5" width="0.8" height="0.8" fill="#2377e1"/><rect x="53.45" y="92.5" width="0.8" height="0.8" fill="#2254e5"/><rect x="54.2" y="92.5" width="0.8" height="0.8" fill="#238bda"/><rect x="54.95" y="92.5" width="0.8" height="0.8" fill="#225be5"/><rect x="55.7" y="92.5" width="0.8" height="0.8" fill="#238adc"/><rect x="56.45" y="92.5" width="0.8" height="0.8" fill="#237fe0"/><rect x="57.2" y="92.5" width="0.8" height="0.8" fill="#223ee3"/><rect x="57.95" y="92.5" width="0.8" height="0.8" fill="#2198ca"/><rect x="58.7" y="92.5" width="0.8" height="0.8" fill="#223ee3"/><rect x="59.45" y="92.5" width="0.8" height="0.8" fill="#2249e7"/><rect x="60.2" y="92.5" width="0.8" height="0.8" fill="#237ee1"/><rect x="60.95" y="92.5" width="0.8" height="0.8" fill="#2245e7"/><rect x="61.7" y="92.5" width="0.8" height="0.8" fill="#2378e1"/><rect x="62.45" y="92.5" width="0.8" height="0.8" fill="#2247e7"/><rect x="63.2" y="92.5" width="0.8" height="0.8" fill="#2365e3"/><rect x="63.95" y="92.5" width="0.8" height="0.8" fill="#223add"/><rect x="64.7" y="92.5" width="0.8" height="0.8" fill="#225be5"/><rect x="65.45" y="92.5" width="0.8" height="0.8" fill="#2241e7"/><rect x="66.2" y="92.5" width="0.8" height="0.8" fill="#223fe5"/><rect x="66.95" y="92.5" width="0.8" height="0.8" fill="#2239dc"/><rect x="67.7" y="92.5" width="0.8" height="0.8" fill="#2239dc"/><rect x="68.45" y="92.5" width="0.8" height="0.8" fill="#223ee3"/><rect x="69.2" y="92.5" width="0.8" height="0.8" fill="#2338db"/><rect x="69.95" y="92.5" width="0.8" height="0.8" fill="#223de1"/><rect x="70.7" y="92.5" width="0.8" height="0.8" fill="#2239dc"/><rect x="71.52" y="92.71" width="0.8" height="0.8" fill="#3040d0"/><rect x="73.1" y="92.58" width="0.8" height="0.8" fill="#6470cc"/><rect x="74.49" y="92.6" width="0.8" height="0.8" fill="#4a58d0"/><rect x="77.62" y="92.52" width="0.8" height="0.8" fill="#8a92cf"/><rect x="43.7" y="93.25" width="0.8" height="0.8" fill="#223bdf"/><rect x="44.45" y="93.25" width="0.8" height="0.8" fill="#223ce0"/><rect x="45.2" y="93.25" width="0.8" height="0.8" fill="#2239dc"/><rect x="45.95" y="93.25" width="0.8" height="0.8" fill="#2241e7"/><rect x="46.7" y="93.25" width="0.8" height="0.8" fill="#2335d7"/><rect x="47.45" y="93.25" width="0.8" height="0.8" fill="#223ade"/><rect x="48.2" y="93.25" width="0.8" height="0.8" fill="#236de3"/><rect x="48.95" y="93.25" width="0.8" height="0.8" fill="#223ee3"/><rect x="49.7" y="93.25" width="0.8" height="0.8" fill="#237ae1"/><rect x="50.45" y="93.25" width="0.8" height="0.8" fill="#223de1"/><rect x="51.2" y="93.25" width="0.8" height="0.8" fill="#2262e4"/><rect x="51.95" y="93.25" width="0.8" height="0.8" fill="#2384e0"/><rect x="52.7" y="93.25" width="0.8" height="0.8" fill="#236be3"/><rect x="53.45" y="93.25" width="0.8" height="0.8" fill="#2242e7"/><rect x="54.2" y="93.25" width="0.8" height="0.8" fill="#2376e2"/><rect x="54.95" y="93.25" width="0.8" height="0.8" fill="#2240e6"/><rect x="55.7" y="93.25" width="0.8" height="0.8" fill="#236ae3"/><rect x="56.45" y="93.25" width="0.8" height="0.8" fill="#2251e6"/><rect x="57.2" y="93.25" width="0.8" height="0.8" fill="#223bdf"/><rect x="57.95" y="93.25" width="0.8" height="0.8" fill="#236ce3"/><rect x="58.7" y="93.25" width="0.8" height="0.8" fill="#2253e5"/><rect x="59.45" y="93.25" width="0.8" height="0.8" fill="#224de6"/><rect x="60.2" y="93.25" width="0.8" height="0.8" fill="#236de2"/><rect x="60.95" y="93.25" width="0.8" height="0.8" fill="#223de2"/><rect x="61.7" y="93.25" width="0.8" height="0.8" fill="#2374e2"/><rect x="62.51" y="93.27" width="0.8" height="0.8" fill="#3a48d0"/><rect x="63.2" y="93.25" width="0.8" height="0.8" fill="#2249e7"/><rect x="63.95" y="93.25" width="0.8" height="0.8" fill="#2239dc"/><rect x="64.7" y="93.25" width="0.8" height="0.8" fill="#2239dd"/><rect x="65.46" y="93.38" width="0.8" height="0.8" fill="#3a48d0"/><rect x="66.2" y="93.25" width="0.8" height="0.8" fill="#2338da"/><rect x="66.95" y="93.25" width="0.8" height="0.8" fill="#223ee2"/><rect x="67.7" y="93.25" width="0.8" height="0.8" fill="#2338db"/><rect x="69.22" y="93.35" width="0.8" height="0.8" fill="#6470cc"/><rect x="70.24" y="93.42" width="0.8" height="0.8" fill="#4a58d0"/><rect x="70.73" y="93.32" width="0.8" height="0.8" fill="#3a48d0"/><rect x="71.62" y="93.42" width="0.8" height="0.8" fill="#3a48d0"/><rect x="42.2" y="94" width="0.8" height="0.8" fill="#2338db"/><rect x="43.01" y="94.14" width="0.8" height="0.8" fill="#3a48d0"/><rect x="43.7" y="94" width="0.8" height="0.8" fill="#2336d8"/><rect x="45.2" y="94" width="0.8" height="0.8" fill="#2337d9"/><rect x="45.95" y="94" width="0.8" height="0.8" fill="#223add"/><rect x="46.7" y="94" width="0.8" height="0.8" fill="#2336d8"/><rect x="47.45" y="94" width="0.8" height="0.8" fill="#223add"/><rect x="48.2" y="94" width="0.8" height="0.8" fill="#223de2"/><rect x="48.95" y="94" width="0.8" height="0.8" fill="#223ce0"/><rect x="49.7" y="94" width="0.8" height="0.8" fill="#2338da"/><rect x="50.45" y="94" width="0.8" height="0.8" fill="#224be6"/><rect x="51.2" y="94" width="0.8" height="0.8" fill="#225ae5"/><rect x="51.95" y="94" width="0.8" height="0.8" fill="#2367e3"/><rect x="52.7" y="94" width="0.8" height="0.8" fill="#223ade"/><rect x="53.45" y="94" width="0.8" height="0.8" fill="#225ee4"/><rect x="54.27" y="94.23" width="0.8" height="0.8" fill="#5560c8"/><rect x="54.95" y="94" width="0.8" height="0.8" fill="#2241e7"/><rect x="55.7" y="94" width="0.8" height="0.8" fill="#223de1"/><rect x="56.45" y="94" width="0.8" height="0.8" fill="#224fe6"/><rect x="57.2" y="94" width="0.8" height="0.8" fill="#2256e5"/><rect x="57.95" y="94" width="0.8" height="0.8" fill="#223ce1"/><rect x="58.7" y="94" width="0.8" height="0.8" fill="#2249e7"/><rect x="59.45" y="94" width="0.8" height="0.8" fill="#2239dd"/><rect x="60.2" y="94" width="0.8" height="0.8" fill="#2255e5"/><rect x="60.95" y="94" width="0.8" height="0.8" fill="#2241e7"/><rect x="61.7" y="94" width="0.8" height="0.8" fill="#223fe4"/><rect x="62.45" y="94" width="0.8" height="0.8" fill="#2240e6"/><rect x="63.2" y="94" width="0.8" height="0.8" fill="#2250e6"/><rect x="63.95" y="94" width="0.8" height="0.8" fill="#223bdf"/><rect x="64.8" y="94.19" width="0.8" height="0.8" fill="#3040d0"/><rect x="65.45" y="94" width="0.8" height="0.8" fill="#2338da"/><rect x="66.95" y="94" width="0.8" height="0.8" fill="#2239dc"/><rect x="67.74" y="94.09" width="0.8" height="0.8" fill="#3a48d0"/><rect x="69.2" y="94" width="0.8" height="0.8" fill="#2335d7"/><rect x="70.17" y="94.05" width="0.8" height="0.8" fill="#3a48d0"/><rect x="70.72" y="94.11" width="0.8" height="0.8" fill="#3a48d0"/><rect x="73.21" y="94.26" width="0.8" height="0.8" fill="#3a48d0"/><rect x="74.67" y="94.04" width="0.8" height="0.8" fill="#3a48d0"/><rect x="79.22" y="94.09" width="0.8" height="0.8" fill="#8a92cf"/><rect x="44.48" y="95.02" width="0.8" height="0.8" fill="#3040d0"/><rect x="46.7" y="94.75" width="0.8" height="0.8" fill="#223add"/><rect x="47.45" y="94.75" width="0.8" height="0.8" fill="#2239dc"/><rect x="48.95" y="94.75" width="0.8" height="0.8" fill="#223add"/><rect x="49.7" y="94.75" width="0.8" height="0.8" fill="#223fe4"/><rect x="50.64" y="94.8" width="0.8" height="0.8" fill="#4a58d0"/><rect x="51.2" y="94.75" width="0.8" height="0.8" fill="#224ee6"/><rect x="52.7" y="94.75" width="0.8" height="0.8" fill="#2251e6"/><rect x="53.45" y="94.75" width="0.8" height="0.8" fill="#223ce0"/><rect x="54.2" y="94.75" width="0.8" height="0.8" fill="#2373e2"/><rect x="54.95" y="94.75" width="0.8" height="0.8" fill="#2248e7"/><rect x="55.7" y="94.75" width="0.8" height="0.8" fill="#2335d6"/><rect x="57.2" y="94.75" width="0.8" height="0.8" fill="#223ce1"/><rect x="57.95" y="94.75" width="0.8" height="0.8" fill="#223bdf"/><rect x="58.7" y="94.75" width="0.8" height="0.8" fill="#223fe5"/><rect x="59.45" y="94.75" width="0.8" height="0.8" fill="#223bdf"/><rect x="60.2" y="94.75" width="0.8" height="0.8" fill="#2336d8"/><rect x="60.95" y="94.75" width="0.8" height="0.8" fill="#223fe4"/><rect x="61.7" y="94.75" width="0.8" height="0.8" fill="#223de2"/><rect x="62.45" y="94.75" width="0.8" height="0.8" fill="#223ee3"/><rect x="63.2" y="94.75" width="0.8" height="0.8" fill="#2338da"/><rect x="64.7" y="94.75" width="0.8" height="0.8" fill="#2337d9"/><rect x="65.45" y="94.75" width="0.8" height="0.8" fill="#2338db"/><rect x="66.2" y="94.75" width="0.8" height="0.8" fill="#2337da"/><rect x="66.97" y="94.81" width="0.8" height="0.8" fill="#3a48d0"/><rect x="67.7" y="94.75" width="0.8" height="0.8" fill="#2335d6"/><rect x="69.29" y="95.03" width="0.8" height="0.8" fill="#6470cc"/><rect x="70.2" y="94.86" width="0.8" height="0.8" fill="#4a58d0"/><rect x="70.91" y="95.03" width="0.8" height="0.8" fill="#5560c8"/><rect x="71.63" y="94.85" width="0.8" height="0.8" fill="#3040d0"/><rect x="72.31" y="94.76" width="0.8" height="0.8" fill="#4a58d0"/><rect x="76.83" y="94.91" width="0.8" height="0.8" fill="#8a92cf"/><rect x="79.02" y="94.92" width="0.8" height="0.8" fill="#a4a9d6"/><rect x="42.48" y="95.61" width="0.8" height="0.8" fill="#4a58d0"/><rect x="44.47" y="95.6" width="0.8" height="0.8" fill="#5560c8"/><rect x="45.33" y="95.78" width="0.8" height="0.8" fill="#6470cc"/><rect x="46.25" y="95.56" width="0.8" height="0.8" fill="#3a48d0"/><rect x="46.72" y="95.6" width="0.8" height="0.8" fill="#3040d0"/><rect x="47.45" y="95.5" width="0.8" height="0.8" fill="#2239dc"/><rect x="49.02" y="95.61" width="0.8" height="0.8" fill="#3040d0"/><rect x="49.7" y="95.5" width="0.8" height="0.8" fill="#2337d9"/><rect x="50.45" y="95.5" width="0.8" height="0.8" fill="#2240e6"/><rect x="51.95" y="95.5" width="0.8" height="0.8" fill="#2338db"/><rect x="52.7" y="95.5" width="0.8" height="0.8" fill="#2239dc"/><rect x="53.7" y="95.63" width="0.8" height="0.8" fill="#3a48d0"/><rect x="54.2" y="95.5" width="0.8" height="0.8" fill="#223bde"/><rect x="55.17" y="95.72" width="0.8" height="0.8" fill="#3040d0"/><rect x="55.93" y="95.6" width="0.8" height="0.8" fill="#4a58d0"/><rect x="56.45" y="95.5" width="0.8" height="0.8" fill="#223ce0"/><rect x="57.2" y="95.5" width="0.8" height="0.8" fill="#223ce0"/><rect x="57.95" y="95.5" width="0.8" height="0.8" fill="#2244e7"/><rect x="58.7" y="95.5" width="0.8" height="0.8" fill="#223ade"/><rect x="59.45" y="95.5" width="0.8" height="0.8" fill="#2256e5"/><rect x="60.2" y="95.5" width="0.8" height="0.8" fill="#223ade"/><rect x="60.95" y="95.5" width="0.8" height="0.8" fill="#2338db"/><rect x="62.45" y="95.5" width="0.8" height="0.8" fill="#223fe4"/><rect x="63.95" y="95.5" width="0.8" height="0.8" fill="#223ce0"/><rect x="64.7" y="95.5" width="0.8" height="0.8" fill="#223fe4"/><rect x="65.52" y="95.59" width="0.8" height="0.8" fill="#5560c8"/><rect x="69.24" y="95.56" width="0.8" height="0.8" fill="#3040d0"/><rect x="72.41" y="95.79" width="0.8" height="0.8" fill="#5560c8"/><rect x="73.86" y="95.68" width="0.8" height="0.8" fill="#8a92cf"/><rect x="74.55" y="95.57" width="0.8" height="0.8" fill="#9ca2d2"/><rect x="75.3" y="95.67" width="0.8" height="0.8" fill="#7880c8"/><rect x="42.95" y="96.25" width="0.8" height="0.8" fill="#2337da"/><rect x="43.87" y="96.38" width="0.8" height="0.8" fill="#4a58d0"/><rect x="45.31" y="96.34" width="0.8" height="0.8" fill="#5560c8"/><rect x="48.44" y="96.26" width="0.8" height="0.8" fill="#6470cc"/><rect x="49.7" y="96.25" width="0.8" height="0.8" fill="#2335d7"/><rect x="51.29" y="96.5" width="0.8" height="0.8" fill="#6470cc"/><rect x="51.95" y="96.25" width="0.8" height="0.8" fill="#223bde"/><rect x="53.45" y="96.29" width="0.8" height="0.8" fill="#5560c8"/><rect x="54.2" y="96.25" width="0.8" height="0.8" fill="#223fe4"/><rect x="55.7" y="96.25" width="0.8" height="0.8" fill="#2338db"/><rect x="57.2" y="96.25" width="0.8" height="0.8" fill="#2336d9"/><rect x="57.95" y="96.25" width="0.8" height="0.8" fill="#2337da"/><rect x="58.7" y="96.25" width="0.8" height="0.8" fill="#223ce0"/><rect x="59.71" y="96.42" width="0.8" height="0.8" fill="#4a58d0"/><rect x="60.2" y="96.25" width="0.8" height="0.8" fill="#223bde"/><rect x="61.7" y="96.25" width="0.8" height="0.8" fill="#2337d9"/><rect x="62.62" y="96.36" width="0.8" height="0.8" fill="#5560c8"/><rect x="63.2" y="96.25" width="0.8" height="0.8" fill="#2336d8"/><rect x="64.12" y="96.51" width="0.8" height="0.8" fill="#3a48d0"/><rect x="64.96" y="96.35" width="0.8" height="0.8" fill="#6470cc"/><rect x="70.93" y="96.36" width="0.8" height="0.8" fill="#3a48d0"/><rect x="73.85" y="96.39" width="0.8" height="0.8" fill="#9ca2d2"/><rect x="74.63" y="96.46" width="0.8" height="0.8" fill="#b4b7da"/><rect x="44.71" y="97.06" width="0.8" height="0.8" fill="#5560c8"/><rect x="45.41" y="97.2" width="0.8" height="0.8" fill="#4a58d0"/><rect x="46.08" y="97.25" width="0.8" height="0.8" fill="#6470cc"/><rect x="47.54" y="97.06" width="0.8" height="0.8" fill="#6470cc"/><rect x="49.72" y="97.17" width="0.8" height="0.8" fill="#5560c8"/><rect x="50.45" y="97" width="0.8" height="0.8" fill="#2336d8"/><rect x="52.18" y="97.07" width="0.8" height="0.8" fill="#6470cc"/><rect x="52.7" y="97" width="0.8" height="0.8" fill="#2240e5"/><rect x="54.95" y="97" width="0.8" height="0.8" fill="#2239dc"/><rect x="55.7" y="97" width="0.8" height="0.8" fill="#223ade"/><rect x="56.45" y="97" width="0.8" height="0.8" fill="#2336d8"/><rect x="57.2" y="97" width="0.8" height="0.8" fill="#2239dc"/><rect x="59.45" y="97" width="0.8" height="0.8" fill="#223fe4"/><rect x="60.95" y="97" width="0.8" height="0.8" fill="#2239dd"/><rect x="62.45" y="97" width="0.8" height="0.8" fill="#2338db"/><rect x="64.9" y="97.23" width="0.8" height="0.8" fill="#6470cc"/><rect x="65.47" y="97.17" width="0.8" height="0.8" fill="#3040d0"/><rect x="66.44" y="97.24" width="0.8" height="0.8" fill="#3040d0"/><rect x="75.97" y="97.28" width="0.8" height="0.8" fill="#7880c8"/><rect x="42.5" y="97.81" width="0.8" height="0.8" fill="#a4a9d6"/><rect x="43.96" y="97.86" width="0.8" height="0.8" fill="#6470cc"/><rect x="46.83" y="97.97" width="0.8" height="0.8" fill="#5560c8"/><rect x="47.53" y="97.8" width="0.8" height="0.8" fill="#4a58d0"/><rect x="49.71" y="98.04" width="0.8" height="0.8" fill="#5560c8"/><rect x="50.64" y="97.99" width="0.8" height="0.8" fill="#5560c8"/><rect x="54.2" y="97.75" width="0.8" height="0.8" fill="#223de1"/><rect x="54.95" y="97.75" width="0.8" height="0.8" fill="#223fe4"/><rect x="55.73" y="97.89" width="0.8" height="0.8" fill="#6470cc"/><rect x="57.2" y="97.75" width="0.8" height="0.8" fill="#223bdf"/><rect x="57.95" y="97.75" width="0.8" height="0.8" fill="#2336d8"/><rect x="63.2" y="97.75" width="0.8" height="0.8" fill="#2337da"/><rect x="63.95" y="97.75" width="0.8" height="0.8" fill="#2337da"/><rect x="67.12" y="97.84" width="0.8" height="0.8" fill="#3040d0"/><rect x="67.71" y="98.03" width="0.8" height="0.8" fill="#5560c8"/><rect x="70.06" y="97.82" width="0.8" height="0.8" fill="#b4b7da"/><rect x="70.94" y="98.01" width="0.8" height="0.8" fill="#7880c8"/><rect x="73.06" y="97.91" width="0.8" height="0.8" fill="#a4a9d6"/><rect x="43.04" y="98.6" width="0.8" height="0.8" fill="#b4b7da"/><rect x="44.51" y="98.55" width="0.8" height="0.8" fill="#3a48d0"/><rect x="46.7" y="98.5" width="0.8" height="0.8" fill="#2335d7"/><rect x="49.7" y="98.5" width="0.8" height="0.8" fill="#2335d7"/><rect x="52.7" y="98.5" width="0.8" height="0.8" fill="#2338db"/><rect x="54.42" y="98.53" width="0.8" height="0.8" fill="#4a58d0"/><rect x="58.03" y="98.58" width="0.8" height="0.8" fill="#4a58d0"/><rect x="61.08" y="98.52" width="0.8" height="0.8" fill="#5560c8"/><rect x="64.07" y="98.62" width="0.8" height="0.8" fill="#6470cc"/><rect x="64.71" y="98.67" width="0.8" height="0.8" fill="#4a58d0"/><rect x="67.19" y="98.72" width="0.8" height="0.8" fill="#5560c8"/><rect x="67.77" y="98.76" width="0.8" height="0.8" fill="#4a58d0"/><rect x="70.84" y="98.79" width="0.8" height="0.8" fill="#b4b7da"/><rect x="71.63" y="98.64" width="0.8" height="0.8" fill="#9ca2d2"/><rect x="73.94" y="98.62" width="0.8" height="0.8" fill="#9ca2d2"/><rect x="77.69" y="98.57" width="0.8" height="0.8" fill="#b4b7da"/><rect x="78.22" y="98.78" width="0.8" height="0.8" fill="#b4b7da"/><rect x="45.38" y="99.44" width="0.8" height="0.8" fill="#8a92cf"/><rect x="48.37" y="99.29" width="0.8" height="0.8" fill="#4a58d0"/><rect x="49.82" y="99.41" width="0.8" height="0.8" fill="#3a48d0"/><rect x="52.24" y="99.49" width="0.8" height="0.8" fill="#3040d0"/><rect x="55.85" y="99.55" width="0.8" height="0.8" fill="#5560c8"/><rect x="56.49" y="99.55" width="0.8" height="0.8" fill="#3040d0"/><rect x="58.22" y="99.44" width="0.8" height="0.8" fill="#3040d0"/><rect x="59.66" y="99.38" width="0.8" height="0.8" fill="#3a48d0"/><rect x="60.24" y="99.53" width="0.8" height="0.8" fill="#3a48d0"/><rect x="61.16" y="99.47" width="0.8" height="0.8" fill="#6470cc"/><rect x="61.83" y="99.26" width="0.8" height="0.8" fill="#4a58d0"/><rect x="70.9" y="99.54" width="0.8" height="0.8" fill="#6a74c8"/><rect x="72.3" y="99.48" width="0.8" height="0.8" fill="#b4b7da"/><rect x="73.04" y="99.37" width="0.8" height="0.8" fill="#b4b7da"/><rect x="77.46" y="99.28" width="0.8" height="0.8" fill="#6a74c8"/><rect x="45.46" y="100.25" width="0.8" height="0.8" fill="#9ca2d2"/><rect x="50.52" y="100.06" width="0.8" height="0.8" fill="#3a48d0"/><rect x="52.88" y="100.28" width="0.8" height="0.8" fill="#3a48d0"/><rect x="53.45" y="100" width="0.8" height="0.8" fill="#2335d7"/><rect x="56.72" y="100.02" width="0.8" height="0.8" fill="#5560c8"/><rect x="58.97" y="100.13" width="0.8" height="0.8" fill="#4a58d0"/><rect x="62.69" y="100.11" width="0.8" height="0.8" fill="#3040d0"/><rect x="64.82" y="100.16" width="0.8" height="0.8" fill="#7880c8"/><rect x="65.63" y="100.03" width="0.8" height="0.8" fill="#9ca2d2"/><rect x="67.03" y="100.05" width="0.8" height="0.8" fill="#6a74c8"/><rect x="69.38" y="100.2" width="0.8" height="0.8" fill="#9ca2d2"/><rect x="70.24" y="100.3" width="0.8" height="0.8" fill="#7880c8"/><rect x="42.31" y="100.99" width="0.8" height="0.8" fill="#a4a9d6"/><rect x="44.53" y="100.77" width="0.8" height="0.8" fill="#9ca2d2"/><rect x="47.71" y="100.9" width="0.8" height="0.8" fill="#8a92cf"/><rect x="50.47" y="100.99" width="0.8" height="0.8" fill="#b4b7da"/><rect x="52.05" y="100.85" width="0.8" height="0.8" fill="#b4b7da"/><rect x="52.98" y="100.82" width="0.8" height="0.8" fill="#b4b7da"/><rect x="53.69" y="101.02" width="0.8" height="0.8" fill="#b4b7da"/><rect x="61.72" y="100.84" width="0.8" height="0.8" fill="#a4a9d6"/><rect x="67.76" y="101.01" width="0.8" height="0.8" fill="#9ca2d2"/><rect x="43.98" y="101.58" width="0.8" height="0.8" fill="#b4b7da"/><rect x="46.87" y="101.59" width="0.8" height="0.8" fill="#b4b7da"/><rect x="47.56" y="101.54" width="0.8" height="0.8" fill="#6a74c8"/><rect x="49.19" y="101.79" width="0.8" height="0.8" fill="#9ca2d2"/><rect x="51.29" y="101.77" width="0.8" height="0.8" fill="#6a74c8"/><rect x="52.89" y="101.77" width="0.8" height="0.8" fill="#b4b7da"/><rect x="53.56" y="101.62" width="0.8" height="0.8" fill="#9ca2d2"/><rect x="54.37" y="101.78" width="0.8" height="0.8" fill="#a4a9d6"/><rect x="60.5" y="101.77" width="0.8" height="0.8" fill="#b4b7da"/><rect x="61.72" y="101.55" width="0.8" height="0.8" fill="#6a74c8"/><rect x="62.68" y="101.57" width="0.8" height="0.8" fill="#7880c8"/><rect x="64.05" y="101.62" width="0.8" height="0.8" fill="#b4b7da"/><rect x="77.7" y="101.56" width="0.8" height="0.8" fill="#7880c8"/><rect x="49.25" y="102.39" width="0.8" height="0.8" fill="#6a74c8"/><rect x="49.98" y="102.29" width="0.8" height="0.8" fill="#9ca2d2"/><rect x="50.71" y="102.36" width="0.8" height="0.8" fill="#6a74c8"/><rect x="53.61" y="102.46" width="0.8" height="0.8" fill="#6a74c8"/><rect x="55.08" y="102.46" width="0.8" height="0.8" fill="#a4a9d6"/><rect x="55.79" y="102.44" width="0.8" height="0.8" fill="#b4b7da"/><rect x="56.55" y="102.42" width="0.8" height="0.8" fill="#7880c8"/><rect x="61.22" y="102.33" width="0.8" height="0.8" fill="#b4b7da"/><rect x="61.77" y="102.41" width="0.8" height="0.8" fill="#a4a9d6"/><rect x="63.32" y="102.35" width="0.8" height="0.8" fill="#9ca2d2"/><rect x="70.73" y="102.43" width="0.8" height="0.8" fill="#7880c8"/><rect x="73.99" y="102.46" width="0.8" height="0.8" fill="#a4a9d6"/><rect x="78.38" y="102.55" width="0.8" height="0.8" fill="#8a92cf"/><rect x="46.07" y="103.18" width="0.8" height="0.8" fill="#8a92cf"/><rect x="46.94" y="103.06" width="0.8" height="0.8" fill="#9ca2d2"/><rect x="47.65" y="103.08" width="0.8" height="0.8" fill="#6a74c8"/><rect x="51.96" y="103.26" width="0.8" height="0.8" fill="#9ca2d2"/><rect x="53.52" y="103.05" width="0.8" height="0.8" fill="#6a74c8"/><rect x="56.47" y="103.1" width="0.8" height="0.8" fill="#8a92cf"/><rect x="59.54" y="103.15" width="0.8" height="0.8" fill="#7880c8"/><rect x="60.39" y="103.12" width="0.8" height="0.8" fill="#a4a9d6"/><rect x="62.51" y="103.09" width="0.8" height="0.8" fill="#a4a9d6"/><rect x="63.42" y="103.22" width="0.8" height="0.8" fill="#6a74c8"/><rect x="65.68" y="103.15" width="0.8" height="0.8" fill="#b4b7da"/><rect x="73.02" y="103.23" width="0.8" height="0.8" fill="#8a92cf"/><rect x="74.74" y="103.24" width="0.8" height="0.8" fill="#6a74c8"/><rect x="78.35" y="103.28" width="0.8" height="0.8" fill="#9ca2d2"/><rect x="42.21" y="103.86" width="0.8" height="0.8" fill="#b4b7da"/><rect x="43.14" y="104.04" width="0.8" height="0.8" fill="#6a74c8"/><rect x="45.99" y="103.83" width="0.8" height="0.8" fill="#7880c8"/><rect x="47.56" y="104" width="0.8" height="0.8" fill="#8a92cf"/><rect x="50.65" y="103.79" width="0.8" height="0.8" fill="#a4a9d6"/><rect x="52.01" y="103.9" width="0.8" height="0.8" fill="#8a92cf"/><rect x="54.36" y="104.01" width="0.8" height="0.8" fill="#7880c8"/><rect x="55.98" y="103.85" width="0.8" height="0.8" fill="#6a74c8"/><rect x="58.25" y="103.85" width="0.8" height="0.8" fill="#8a92cf"/><rect x="60.46" y="104.01" width="0.8" height="0.8" fill="#a4a9d6"/><rect x="62.51" y="103.82" width="0.8" height="0.8" fill="#a4a9d6"/><rect x="64.74" y="104" width="0.8" height="0.8" fill="#a4a9d6"/><rect x="67.14" y="104.05" width="0.8" height="0.8" fill="#8a92cf"/><rect x="67.75" y="103.88" width="0.8" height="0.8" fill="#7880c8"/><rect x="70.21" y="103.76" width="0.8" height="0.8" fill="#9ca2d2"/><rect x="73.91" y="103.81" width="0.8" height="0.8" fill="#a4a9d6"/><rect x="42.49" y="104.76" width="0.8" height="0.8" fill="#b4b7da"/><rect x="45.39" y="104.62" width="0.8" height="0.8" fill="#a4a9d6"/><rect x="50.59" y="104.67" width="0.8" height="0.8" fill="#6a74c8"/><rect x="51.25" y="104.8" width="0.8" height="0.8" fill="#b4b7da"/><rect x="60.41" y="104.64" width="0.8" height="0.8" fill="#b4b7da"/><rect x="76.05" y="104.56" width="0.8" height="0.8" fill="#a4a9d6"/><rect x="54.41" y="105.38" width="0.8" height="0.8" fill="#b4b7da"/><rect x="61.83" y="105.53" width="0.8" height="0.8" fill="#b4b7da"/><rect x="63.28" y="105.33" width="0.8" height="0.8" fill="#7880c8"/><rect x="64.14" y="105.41" width="0.8" height="0.8" fill="#b4b7da"/><rect x="64.71" y="105.46" width="0.8" height="0.8" fill="#6a74c8"/><rect x="65.5" y="105.39" width="0.8" height="0.8" fill="#9ca2d2"/><rect x="68.53" y="105.52" width="0.8" height="0.8" fill="#6a74c8"/><rect x="70.85" y="105.27" width="0.8" height="0.8" fill="#9ca2d2"/><rect x="78.3" y="105.54" width="0.8" height="0.8" fill="#8a92cf"/><rect x="44.64" y="106.21" width="0.8" height="0.8" fill="#7880c8"/><rect x="46" y="106.16" width="0.8" height="0.8" fill="#b4b7da"/><rect x="47.5" y="106.13" width="0.8" height="0.8" fill="#b4b7da"/><rect x="55.09" y="106.11" width="0.8" height="0.8" fill="#9ca2d2"/><rect x="61.23" y="106.06" width="0.8" height="0.8" fill="#b4b7da"/><rect x="61.78" y="106.13" width="0.8" height="0.8" fill="#6a74c8"/><rect x="73.98" y="106.12" width="0.8" height="0.8" fill="#b4b7da"/><rect x="43.84" y="106.78" width="0.8" height="0.8" fill="#a4a9d6"/><rect x="56.55" y="106.95" width="0.8" height="0.8" fill="#6a74c8"/><rect x="57.23" y="107.04" width="0.8" height="0.8" fill="#a4a9d6"/><rect x="60.43" y="106.97" width="0.8" height="0.8" fill="#a4a9d6"/><rect x="64.71" y="106.91" width="0.8" height="0.8" fill="#b4b7da"/><rect x="70" y="106.91" width="0.8" height="0.8" fill="#9ca2d2"/><rect x="70.8" y="106.94" width="0.8" height="0.8" fill="#a4a9d6"/><rect x="42.42" y="107.55" width="0.8" height="0.8" fill="#b4b7da"/><rect x="45.3" y="107.58" width="0.8" height="0.8" fill="#b4b7da"/><rect x="49.11" y="107.77" width="0.8" height="0.8" fill="#a4a9d6"/><rect x="55.17" y="107.71" width="0.8" height="0.8" fill="#7880c8"/><rect x="57.99" y="107.58" width="0.8" height="0.8" fill="#b4b7da"/><rect x="64.07" y="107.74" width="0.8" height="0.8" fill="#a4a9d6"/><rect x="64.99" y="107.65" width="0.8" height="0.8" fill="#8a92cf"/><rect x="68.66" y="107.61" width="0.8" height="0.8" fill="#6a74c8"/><rect x="76.72" y="107.61" width="0.8" height="0.8" fill="#7880c8"/><rect x="77.48" y="107.7" width="0.8" height="0.8" fill="#a4a9d6"/><rect x="110.53" y="93.06" width="0.8" height="0.8" fill="#b0b4da"/><rect x="101.7" y="43.35" width="0.8" height="0.8" fill="#b0b4da"/><rect x="80.4" y="84.49" width="0.8" height="0.8" fill="#b4b4cc"/><rect x="91.5" y="76.96" width="0.8" height="0.8" fill="#8890cc"/><rect x="93.11" y="64.97" width="0.8" height="0.8" fill="#8890cc"/><rect x="122.47" y="96.05" width="0.8" height="0.8" fill="#8890cc"/><rect x="80.72" y="44.41" width="0.8" height="0.8" fill="#bcc0dc"/><rect x="114.95" y="64.03" width="0.8" height="0.8" fill="#8890cc"/><rect x="88.83" y="44.4" width="0.8" height="0.8" fill="#a0a6d0"/><rect x="94.08" y="49.18" width="0.8" height="0.8" fill="#8890cc"/><rect x="82.87" y="47.96" width="0.8" height="0.8" fill="#9aa0d4"/><rect x="90.34" y="52.64" width="0.8" height="0.8" fill="#9aa0d4"/><rect x="87.09" y="57.46" width="0.8" height="0.8" fill="#a0a6d0"/><rect x="90.63" y="74.89" width="0.8" height="0.8" fill="#9aa0d4"/><rect x="84.67" y="84.53" width="0.8" height="0.8" fill="#8890cc"/><rect x="79.51" y="70.53" width="0.8" height="0.8" fill="#8890cc"/><rect x="108.24" y="69.88" width="0.8" height="0.8" fill="#9aa0d4"/><rect x="83.39" y="89.05" width="0.8" height="0.8" fill="#8890cc"/><rect x="118" y="99.51" width="0.8" height="0.8" fill="#bcc0dc"/><rect x="110.18" y="60.7" width="0.8" height="0.8" fill="#9aa0d4"/><rect x="101.38" y="45.27" width="0.8" height="0.8" fill="#b4b4cc"/><rect x="101.68" y="63.25" width="0.8" height="0.8" fill="#b4b4cc"/><rect x="97.59" y="99.53" width="0.8" height="0.8" fill="#9aa0d4"/><rect x="111.48" y="54.81" width="0.8" height="0.8" fill="#9aa0d4"/><rect x="85.82" y="82.51" width="0.8" height="0.8" fill="#b0b4da"/><rect x="106.21" y="86.97" width="0.8" height="0.8" fill="#b4b4cc"/><rect x="118.01" y="52.81" width="0.8" height="0.8" fill="#a0a6d0"/><rect x="112.35" y="87.42" width="0.8" height="0.8" fill="#9aa0d4"/><rect x="115.58" y="63" width="0.8" height="0.8" fill="#a0a6d0"/><rect x="83.87" y="43.96" width="0.8" height="0.8" fill="#bcc0dc"/><rect x="105.44" y="95.64" width="0.8" height="0.8" fill="#b0b4da"/><rect x="80.09" y="60.57" width="0.8" height="0.8" fill="#b4b4cc"/><rect x="91.3" y="79.89" width="0.8" height="0.8" fill="#8890cc"/><rect x="85.47" y="84.32" width="0.8" height="0.8" fill="#b4b4cc"/><rect x="101.73" y="56.29" width="0.8" height="0.8" fill="#a0a6d0"/><rect x="114.93" y="59.81" width="0.8" height="0.8" fill="#9aa0d4"/><rect x="106.92" y="46.62" width="0.8" height="0.8" fill="#bcc0dc"/><rect x="121.99" y="51.44" width="0.8" height="0.8" fill="#b4b4cc"/><rect x="122.3" y="49.09" width="0.8" height="0.8" fill="#9aa0d4"/><rect x="107.18" y="84.67" width="0.8" height="0.8" fill="#8890cc"/><rect x="121.5" y="47.63" width="0.8" height="0.8" fill="#a0a6d0"/><rect x="108.69" y="53" width="0.8" height="0.8" fill="#9aa0d4"/><rect x="108.52" y="94.04" width="0.8" height="0.8" fill="#8890cc"/><rect x="102.18" y="78.73" width="0.8" height="0.8" fill="#9aa0d4"/><rect x="93.82" y="78.73" width="0.8" height="0.8" fill="#bcc0dc"/><rect x="98.64" y="80.67" width="0.8" height="0.8" fill="#b0b4da"/><rect x="100.19" y="58.68" width="0.8" height="0.8" fill="#8890cc"/><rect x="88.46" y="57.22" width="0.8" height="0.8" fill="#b0b4da"/><rect x="106.8" y="88.52" width="0.8" height="0.8" fill="#b0b4da"/><rect x="98.3" y="82.79" width="0.8" height="0.8" fill="#a0a6d0"/><rect x="117.93" y="49.08" width="0.8" height="0.8" fill="#b4b4cc"/><rect x="118.76" y="88.8" width="0.8" height="0.8" fill="#b0b4da"/><rect x="79.24" y="64.16" width="0.8" height="0.8" fill="#b0b4da"/><rect x="112.57" y="99.24" width="0.8" height="0.8" fill="#b4b4cc"/><rect x="116.69" y="42.62" width="0.8" height="0.8" fill="#9aa0d4"/><rect x="109.05" y="42.58" width="0.8" height="0.8" fill="#bcc0dc"/><rect x="93.37" y="85.72" width="0.8" height="0.8" fill="#b4b4cc"/><rect x="121.53" y="44.89" width="0.8" height="0.8" fill="#9aa0d4"/><rect x="88.43" y="44.5" width="0.8" height="0.8" fill="#bcc0dc"/><rect x="103.46" y="99.32" width="0.8" height="0.8" fill="#b4b4cc"/><rect x="81.05" y="47.04" width="0.8" height="0.8" fill="#b4b4cc"/><rect x="106.84" y="63.75" width="0.8" height="0.8" fill="#bcc0dc"/><rect x="117.14" y="84.93" width="0.8" height="0.8" fill="#bcc0dc"/><rect x="78.78" y="79.88" width="0.8" height="0.8" fill="#b4b4cc"/><rect x="103.63" y="55.09" width="0.8" height="0.8" fill="#b0b4da"/><rect x="82.04" y="99" width="0.8" height="0.8" fill="#8890cc"/><rect x="99.78" y="70.99" width="0.8" height="0.8" fill="#9aa0d4"/><rect x="95.28" y="85.75" width="0.8" height="0.8" fill="#a0a6d0"/><rect x="84.1" y="66.27" width="0.8" height="0.8" fill="#b0b4da"/><rect x="82.47" y="95.87" width="0.8" height="0.8" fill="#b4b4cc"/><rect x="119.62" y="88.78" width="0.8" height="0.8" fill="#9aa0d4"/><rect x="110.71" y="93.61" width="0.8" height="0.8" fill="#9aa0d4"/><rect x="122.38" y="63.13" width="0.8" height="0.8" fill="#b4b4cc"/><rect x="114.77" y="90.1" width="0.8" height="0.8" fill="#b4b4cc"/><rect x="87.66" y="88.9" width="0.8" height="0.8" fill="#bcc0dc"/><rect x="93.59" y="71.33" width="0.8" height="0.8" fill="#b0b4da"/><rect x="89.05" y="88.53" width="0.8" height="0.8" fill="#b4b4cc"/><rect x="83.14" y="49.27" width="0.8" height="0.8" fill="#8890cc"/><rect x="120.34" y="85.84" width="0.8" height="0.8" fill="#9aa0d4"/><rect x="109.32" y="67.26" width="0.8" height="0.8" fill="#a0a6d0"/><rect x="87.31" y="50.8" width="0.8" height="0.8" fill="#8890cc"/><rect x="103.11" y="42.16" width="0.8" height="0.8" fill="#9aa0d4"/><rect x="94.47" y="93.52" width="0.8" height="0.8" fill="#b0b4da"/><rect x="98.46" y="85.75" width="0.8" height="0.8" fill="#b0b4da"/><rect x="121.98" y="82.83" width="0.8" height="0.8" fill="#bcc0dc"/><rect x="98.7" y="61.47" width="0.8" height="0.8" fill="#b0b4da"/><rect x="99.84" y="66.4" width="0.8" height="0.8" fill="#9aa0d4"/><rect x="116.58" y="80.42" width="0.8" height="0.8" fill="#9aa0d4"/><rect x="95.93" y="72.11" width="0.8" height="0.8" fill="#bcc0dc"/><rect x="97.13" y="47.38" width="0.8" height="0.8" fill="#8890cc"/><rect x="119.88" y="45.43" width="0.8" height="0.8" fill="#bcc0dc"/><rect x="106.06" y="75.64" width="0.8" height="0.8" fill="#bcc0dc"/><rect x="82.08" y="66.75" width="0.8" height="0.8" fill="#9aa0d4"/><rect x="98.75" y="67.76" width="0.8" height="0.8" fill="#8890cc"/><rect x="86.78" y="96.2" width="0.8" height="0.8" fill="#b4b4cc"/><rect x="91.54" y="49.34" width="0.8" height="0.8" fill="#8890cc"/><rect x="116.99" y="92.23" width="0.8" height="0.8" fill="#b4b4cc"/><rect x="88.06" y="55" width="0.8" height="0.8" fill="#a0a6d0"/><rect x="78.53" y="85.1" width="0.8" height="0.8" fill="#b4b4cc"/><rect x="107.71" y="75.9" width="0.8" height="0.8" fill="#b0b4da"/><rect x="106.33" y="55.66" width="0.8" height="0.8" fill="#bcc0dc"/><rect x="121.72" y="75.98" width="0.8" height="0.8" fill="#b0b4da"/><rect x="78.74" y="97.27" width="0.8" height="0.8" fill="#b0b4da"/><rect x="81.44" y="87.68" width="0.8" height="0.8" fill="#8890cc"/><rect x="98.9" y="96.18" width="0.8" height="0.8" fill="#bcc0dc"/><rect x="84.97" y="91.6" width="0.8" height="0.8" fill="#a0a6d0"/><rect x="95.51" y="89.11" width="0.8" height="0.8" fill="#9aa0d4"/><rect x="105.37" y="45.29" width="0.8" height="0.8" fill="#b0b4da"/><rect x="109.87" y="42.57" width="0.8" height="0.8" fill="#a0a6d0"/><rect x="122.1" y="79.78" width="0.8" height="0.8" fill="#a0a6d0"/><rect x="86.05" y="94.28" width="0.8" height="0.8" fill="#b0b4da"/><rect x="79.33" y="74.65" width="0.8" height="0.8" fill="#a0a6d0"/><rect x="86.15" y="84.27" width="0.8" height="0.8" fill="#8890cc"/><rect x="119.86" y="83.04" width="0.8" height="0.8" fill="#b0b4da"/><rect x="90.42" y="60.45" width="0.8" height="0.8" fill="#b4b4cc"/><rect x="106.35" y="93.75" width="0.8" height="0.8" fill="#b4b4cc"/><rect x="81.58" y="64.18" width="0.8" height="0.8" fill="#b4b4cc"/><rect x="96.81" y="89.31" width="0.8" height="0.8" fill="#9aa0d4"/><rect x="121.53" y="42.58" width="0.8" height="0.8" fill="#bcc0dc"/><rect x="94.53" y="67.55" width="0.8" height="0.8" fill="#8890cc"/><rect x="84.84" y="92.53" width="0.8" height="0.8" fill="#bcc0dc"/><rect x="78.78" y="61.32" width="0.8" height="0.8" fill="#b0b4da"/><rect x="88.39" y="53.65" width="0.8" height="0.8" fill="#b0b4da"/><rect x="81.99" y="98.26" width="0.8" height="0.8" fill="#bcc0dc"/><rect x="85.81" y="54.93" width="0.8" height="0.8" fill="#a0a6d0"/><rect x="107.65" y="67.07" width="0.8" height="0.8" fill="#b0b4da"/><rect x="97.77" y="44.49" width="0.8" height="0.8" fill="#bcc0dc"/><rect x="103.48" y="50.85" width="0.8" height="0.8" fill="#bcc0dc"/><rect x="117.49" y="78.56" width="0.8" height="0.8" fill="#9aa0d4"/><rect x="84.05" y="69.29" width="0.8" height="0.8" fill="#b0b4da"/><rect x="93.92" y="48.92" width="0.8" height="0.8" fill="#b0b4da"/><rect x="113.56" y="60.1" width="0.8" height="0.8" fill="#9aa0d4"/><rect x="87.22" y="42.38" width="0.8" height="0.8" fill="#bcc0dc"/><rect x="118.86" y="98.43" width="0.8" height="0.8" fill="#8890cc"/><rect x="88.4" y="43.28" width="0.8" height="0.8" fill="#a0a6d0"/><rect x="96.39" y="72.89" width="0.8" height="0.8" fill="#b0b4da"/><rect x="116.87" y="78.88" width="0.8" height="0.8" fill="#b0b4da"/><rect x="101.88" y="63.73" width="0.8" height="0.8" fill="#bcc0dc"/><rect x="80.94" y="70.01" width="0.8" height="0.8" fill="#bcc0dc"/><rect x="94.76" y="50.09" width="0.8" height="0.8" fill="#b4b4cc"/><rect x="106.85" y="84.1" width="0.8" height="0.8" fill="#bcc0dc"/><rect x="116.14" y="62.06" width="0.8" height="0.8" fill="#b4b4cc"/><rect x="95.12" y="65.57" width="0.8" height="0.8" fill="#8890cc"/><rect x="88.87" y="51.74" width="0.8" height="0.8" fill="#bcc0dc"/><rect x="93.42" y="91.55" width="0.8" height="0.8" fill="#a0a6d0"/><rect x="118.22" y="74.43" width="0.8" height="0.8" fill="#9aa0d4"/><rect x="119.08" y="51.77" width="0.8" height="0.8" fill="#b4b4cc"/><rect x="106.08" y="73.64" width="0.8" height="0.8" fill="#b4b4cc"/><rect x="112.7" y="57.34" width="0.8" height="0.8" fill="#9aa0d4"/><rect x="114.8" y="68.48" width="0.8" height="0.8" fill="#b0b4da"/><rect x="79.57" y="85.54" width="0.8" height="0.8" fill="#b4b4cc"/><rect x="98.33" y="95.78" width="0.8" height="0.8" fill="#a0a6d0"/><rect x="101.57" y="62.43" width="0.8" height="0.8" fill="#b0b4da"/><rect x="83.6" y="66.53" width="0.8" height="0.8" fill="#a0a6d0"/><rect x="90.92" y="62.25" width="0.8" height="0.8" fill="#8890cc"/><rect x="110.3" y="50.83" width="0.8" height="0.8" fill="#9aa0d4"/><rect x="114.25" y="78.9" width="0.8" height="0.8" fill="#b0b4da"/><rect x="97.26" y="43.09" width="0.8" height="0.8" fill="#b4b4cc"/><rect x="96.51" y="79.55" width="0.8" height="0.8" fill="#bcc0dc"/><rect x="121.52" y="64.24" width="0.8" height="0.8" fill="#a0a6d0"/><rect x="119.45" y="51.45" width="0.8" height="0.8" fill="#b0b4da"/><rect x="88.17" y="88.6" width="0.8" height="0.8" fill="#9aa0d4"/><rect x="89.88" y="96.77" width="0.8" height="0.8" fill="#bcc0dc"/><rect x="116.09" y="61.58" width="0.8" height="0.8" fill="#b4b4cc"/><rect x="81.05" y="72.54" width="0.8" height="0.8" fill="#8890cc"/><rect x="80.84" y="63" width="0.8" height="0.8" fill="#8890cc"/><rect x="88" y="99.63" width="0.8" height="0.8" fill="#b4b4cc"/><rect x="83.05" y="77.91" width="0.8" height="0.8" fill="#9aa0d4"/><rect x="116.1" y="67.41" width="0.8" height="0.8" fill="#bcc0dc"/><rect x="105.38" y="83.98" width="0.8" height="0.8" fill="#a0a6d0"/><rect x="98.39" y="65.85" width="0.8" height="0.8" fill="#9aa0d4"/><rect x="91.55" y="97.2" width="0.8" height="0.8" fill="#9aa0d4"/><rect x="112.76" y="46.8" width="0.8" height="0.8" fill="#b0b4da"/><rect x="113.76" y="90.6" width="0.8" height="0.8" fill="#9aa0d4"/><rect x="96.67" y="84.07" width="0.8" height="0.8" fill="#a0a6d0"/><rect x="103.38" y="97.73" width="0.8" height="0.8" fill="#b4b4cc"/><rect x="113.33" y="78.31" width="0.8" height="0.8" fill="#b4b4cc"/><rect x="86.44" y="86.22" width="0.8" height="0.8" fill="#9aa0d4"/><rect x="78.01" y="43.85" width="0.8" height="0.8" fill="#a0a6d0"/><rect x="94.25" y="43.42" width="0.8" height="0.8" fill="#b0b4da"/><rect x="104.92" y="48.67" width="0.8" height="0.8" fill="#b0b4da"/><rect x="116.62" y="80.91" width="0.8" height="0.8" fill="#8890cc"/><rect x="79.22" y="98.22" width="0.8" height="0.8" fill="#b4b4cc"/><rect x="115.19" y="90.53" width="0.8" height="0.8" fill="#b4b4cc"/><rect x="109.64" y="68.56" width="0.8" height="0.8" fill="#b0b4da"/><rect x="91.14" y="92.92" width="0.8" height="0.8" fill="#8890cc"/><rect x="83.82" y="67.47" width="0.8" height="0.8" fill="#b4b4cc"/><rect x="108.3" y="64.24" width="0.8" height="0.8" fill="#a0a6d0"/><rect x="119.38" y="59.88" width="0.8" height="0.8" fill="#9aa0d4"/><rect x="88.25" y="98.91" width="0.8" height="0.8" fill="#bcc0dc"/><rect x="119.02" y="57.28" width="0.8" height="0.8" fill="#bcc0dc"/><rect x="106.66" y="44.5" width="0.8" height="0.8" fill="#a0a6d0"/><rect x="95.8" y="49.01" width="0.8" height="0.8" fill="#9aa0d4"/><rect x="110.27" y="93.5" width="0.8" height="0.8" fill="#b0b4da"/><rect x="119.84" y="42.37" width="0.8" height="0.8" fill="#a0a6d0"/><rect x="96.06" y="90.89" width="0.8" height="0.8" fill="#b4b4cc"/><rect x="119.54" y="92.62" width="0.8" height="0.8" fill="#a0a6d0"/><rect x="88.88" y="78.05" width="0.8" height="0.8" fill="#a0a6d0"/><rect x="120.91" y="49.92" width="0.8" height="0.8" fill="#9aa0d4"/><rect x="87.84" y="67.17" width="0.8" height="0.8" fill="#a0a6d0"/><rect x="111.1" y="78.79" width="0.8" height="0.8" fill="#8890cc"/><rect x="111.36" y="70.48" width="0.8" height="0.8" fill="#b4b4cc"/><rect x="80.27" y="70.72" width="0.8" height="0.8" fill="#9aa0d4"/><rect x="96.74" y="88.3" width="0.8" height="0.8" fill="#9aa0d4"/><rect x="95.14" y="84.75" width="0.8" height="0.8" fill="#b4b4cc"/><rect x="80.08" y="64.38" width="0.8" height="0.8" fill="#a0a6d0"/><rect x="84.04" y="69.56" width="0.8" height="0.8" fill="#8890cc"/><rect x="92.13" y="56.37" width="0.8" height="0.8" fill="#bcc0dc"/><rect x="117.05" y="74.01" width="0.8" height="0.8" fill="#b4b4cc"/><rect x="113.31" y="62.64" width="0.8" height="0.8" fill="#b4b4cc"/><rect x="106.94" y="56.2" width="0.8" height="0.8" fill="#8890cc"/><rect x="115.55" y="91.98" width="0.8" height="0.8" fill="#b0b4da"/><rect x="115.39" y="59.97" width="0.8" height="0.8" fill="#bcc0dc"/><rect x="114.74" y="42.1" width="0.8" height="0.8" fill="#a0a6d0"/><rect x="96.11" y="89.11" width="0.8" height="0.8" fill="#b4b4cc"/><rect x="99.71" y="45.81" width="0.8" height="0.8" fill="#b4b4cc"/><rect x="83.45" y="86.87" width="0.8" height="0.8" fill="#b0b4da"/><rect x="78.1" y="44.15" width="0.8" height="0.8" fill="#a0a6d0"/><rect x="80.44" y="53.39" width="0.8" height="0.8" fill="#9aa0d4"/><rect x="78.1" y="65.26" width="0.8" height="0.8" fill="#b4b4cc"/><rect x="117.89" y="53.39" width="0.8" height="0.8" fill="#9aa0d4"/><rect x="94.03" y="61.23" width="0.8" height="0.8" fill="#9aa0d4"/><rect x="118.97" y="91.02" width="0.8" height="0.8" fill="#b0b4da"/><rect x="81.79" y="49.09" width="0.8" height="0.8" fill="#bcc0dc"/><rect x="87.99" y="63.85" width="0.8" height="0.8" fill="#b0b4da"/><rect x="108.8" y="87.56" width="0.8" height="0.8" fill="#b4b4cc"/><rect x="120" y="75.94" width="0.8" height="0.8" fill="#a0a6d0"/><rect x="81.92" y="58.4" width="0.8" height="0.8" fill="#8890cc"/><rect x="85.89" y="78.84" width="0.8" height="0.8" fill="#9aa0d4"/><rect x="104.9" y="51.99" width="0.8" height="0.8" fill="#b4b4cc"/><rect x="82.43" y="99.73" width="0.8" height="0.8" fill="#9aa0d4"/><rect x="108.8" y="96.21" width="0.8" height="0.8" fill="#b4b4cc"/><rect x="113.62" y="82.73" width="0.8" height="0.8" fill="#b0b4da"/><rect x="78.11" y="93.78" width="0.8" height="0.8" fill="#8890cc"/><rect x="78.58" y="99.86" width="0.8" height="0.8" fill="#9aa0d4"/><rect x="89.45" y="77.28" width="0.8" height="0.8" fill="#9aa0d4"/><rect x="83.67" y="72.66" width="0.8" height="0.8" fill="#b4b4cc"/><rect x="84.01" y="63.33" width="0.8" height="0.8" fill="#b0b4da"/><rect x="105.02" y="70.73" width="0.8" height="0.8" fill="#b4b4cc"/><rect x="83.72" y="67.52" width="0.8" height="0.8" fill="#b4b4cc"/><rect x="119.29" y="61.41" width="0.8" height="0.8" fill="#bcc0dc"/><rect x="94.5" y="55.83" width="0.8" height="0.8" fill="#a0a6d0"/><rect x="82.51" y="88.05" width="0.8" height="0.8" fill="#b0b4da"/><rect x="87.9" y="92.52" width="0.8" height="0.8" fill="#8890cc"/><rect x="101.4" y="57.03" width="0.8" height="0.8" fill="#8890cc"/><rect x="89.22" y="91.8" width="0.8" height="0.8" fill="#bcc0dc"/><rect x="108.93" y="75.77" width="0.8" height="0.8" fill="#b4b4cc"/><rect x="92.31" y="69.11" width="0.8" height="0.8" fill="#bcc0dc"/><rect x="100.32" y="96.83" width="0.8" height="0.8" fill="#b0b4da"/><rect x="105.58" y="62.05" width="0.8" height="0.8" fill="#8890cc"/><rect x="112.4" y="99.03" width="0.8" height="0.8" fill="#8890cc"/><rect x="82.03" y="48.79" width="0.8" height="0.8" fill="#b4b4cc"/><rect x="118.94" y="89.98" width="0.8" height="0.8" fill="#b0b4da"/><rect x="94.37" y="100.16" width="0.8" height="0.8" fill="#9aa0d4"/><rect x="92.09" y="93.95" width="0.8" height="0.8" fill="#bcc0dc"/><rect x="105.66" y="81.78" width="0.8" height="0.8" fill="#8890cc"/><rect x="100.44" y="87.49" width="0.8" height="0.8" fill="#a0a6d0"/><rect x="101.52" y="64.16" width="0.8" height="0.8" fill="#9aa0d4"/><rect x="95.7" y="85.65" width="0.8" height="0.8" fill="#8890cc"/><rect x="78.46" y="62.42" width="0.8" height="0.8" fill="#a0a6d0"/><rect x="106.18" y="68.03" width="0.8" height="0.8" fill="#9aa0d4"/><rect x="103.37" y="57.74" width="0.8" height="0.8" fill="#b0b4da"/><rect x="81.28" y="56.6" width="0.8" height="0.8" fill="#a0a6d0"/><rect x="98.54" y="90.14" width="0.8" height="0.8" fill="#9aa0d4"/><rect x="114.05" y="87.46" width="0.8" height="0.8" fill="#a0a6d0"/><rect x="109.15" y="54.95" width="0.8" height="0.8" fill="#b4b4cc"/><rect x="111.02" y="60.69" width="0.8" height="0.8" fill="#8890cc"/><rect x="94.36" y="79.03" width="0.8" height="0.8" fill="#a0a6d0"/><rect x="109.15" y="84.36" width="0.8" height="0.8" fill="#b0b4da"/><rect x="83.8" y="78.4" width="0.8" height="0.8" fill="#b4b4cc"/><rect x="93.36" y="85.65" width="0.8" height="0.8" fill="#8890cc"/><rect x="111.74" y="84.1" width="0.8" height="0.8" fill="#8890cc"/><rect x="95.55" y="48.01" width="0.8" height="0.8" fill="#a0a6d0"/><rect x="121.79" y="71.67" width="0.8" height="0.8" fill="#bcc0dc"/><rect x="101.26" y="67.84" width="0.8" height="0.8" fill="#b0b4da"/><rect x="86.05" y="85.88" width="0.8" height="0.8" fill="#9aa0d4"/><rect x="88.13" y="53.46" width="0.8" height="0.8" fill="#9aa0d4"/><rect x="111.99" y="98.85" width="0.8" height="0.8" fill="#b4b4cc"/><rect x="109.66" y="86.81" width="0.8" height="0.8" fill="#bcc0dc"/><rect x="79.69" y="62.98" width="0.8" height="0.8" fill="#8890cc"/><rect x="116" y="59.57" width="0.8" height="0.8" fill="#b0b4da"/><rect x="101.74" y="65.98" width="0.8" height="0.8" fill="#b4b4cc"/><rect x="110.69" y="98.84" width="0.8" height="0.8" fill="#b4b4cc"/><rect x="82.59" y="64.28" width="0.8" height="0.8" fill="#b4b4cc"/><rect x="94.52" y="75.08" width="0.8" height="0.8" fill="#8890cc"/><rect x="93.87" y="89.22" width="0.8" height="0.8" fill="#b4b4cc"/><rect x="93.72" y="56.15" width="0.8" height="0.8" fill="#a0a6d0"/><rect x="95.14" y="97.23" width="0.8" height="0.8" fill="#b0b4da"/><rect x="95.1" y="95.91" width="0.8" height="0.8" fill="#9aa0d4"/><rect x="121.56" y="82.69" width="0.8" height="0.8" fill="#8890cc"/><rect x="92.96" y="65.2" width="0.8" height="0.8" fill="#a0a6d0"/><rect x="101.11" y="77.41" width="0.8" height="0.8" fill="#b0b4da"/><rect x="95.81" y="57.54" width="0.8" height="0.8" fill="#9aa0d4"/><rect x="101.58" y="92.76" width="0.8" height="0.8" fill="#b0b4da"/><rect x="94.35" y="56.93" width="0.8" height="0.8" fill="#b4b4cc"/><rect x="120.68" y="48.8" width="0.8" height="0.8" fill="#b0b4da"/><rect x="105.1" y="81.6" width="0.8" height="0.8" fill="#b0b4da"/><rect x="82.31" y="46.14" width="0.8" height="0.8" fill="#b4b4cc"/><rect x="96.03" y="88.96" width="0.8" height="0.8" fill="#8890cc"/><rect x="116.02" y="93.94" width="0.8" height="0.8" fill="#b4b4cc"/><rect x="110.63" y="75.44" width="0.8" height="0.8" fill="#a0a6d0"/><rect x="99.69" y="46.68" width="0.8" height="0.8" fill="#bcc0dc"/><rect x="96.82" y="53.61" width="0.8" height="0.8" fill="#b4b4cc"/><rect x="103.94" y="81.18" width="0.8" height="0.8" fill="#b4b4cc"/><rect x="89.98" y="81.54" width="0.8" height="0.8" fill="#a0a6d0"/><rect x="90.58" y="48.86" width="0.8" height="0.8" fill="#8890cc"/><rect x="106.9" y="92.15" width="0.8" height="0.8" fill="#b4b4cc"/><rect x="119.02" y="58.58" width="0.8" height="0.8" fill="#b4b4cc"/><rect x="95.84" y="42.64" width="0.8" height="0.8" fill="#a0a6d0"/><rect x="104.12" y="70.79" width="0.8" height="0.8" fill="#bcc0dc"/><rect x="92.9" y="89.44" width="0.8" height="0.8" fill="#a0a6d0"/><rect x="95.53" y="46.94" width="0.8" height="0.8" fill="#8890cc"/><rect x="83.25" y="68.84" width="0.8" height="0.8" fill="#bcc0dc"/><rect x="117.28" y="48.93" width="0.8" height="0.8" fill="#b4b4cc"/><rect x="93.61" y="62.27" width="0.8" height="0.8" fill="#a0a6d0"/><rect x="82.69" y="42.17" width="0.8" height="0.8" fill="#a0a6d0"/><rect x="89.53" y="68.03" width="0.8" height="0.8" fill="#b4b4cc"/><rect x="113.34" y="60.61" width="0.8" height="0.8" fill="#bcc0dc"/><rect x="88.23" y="98.17" width="0.8" height="0.8" fill="#bcc0dc"/><rect x="108.01" y="58.19" width="0.8" height="0.8" fill="#a0a6d0"/><rect x="95.6" y="44.89" width="0.8" height="0.8" fill="#b4b4cc"/><rect x="106.69" y="66.98" width="0.8" height="0.8" fill="#b0b4da"/><rect x="97.43" y="89.64" width="0.8" height="0.8" fill="#b4b4cc"/><rect x="84.9" y="47.11" width="0.8" height="0.8" fill="#bcc0dc"/><rect x="115.46" y="72.22" width="0.8" height="0.8" fill="#9aa0d4"/><rect x="88.36" y="73.9" width="0.8" height="0.8" fill="#bcc0dc"/><rect x="118.24" y="68.93" width="0.8" height="0.8" fill="#9aa0d4"/><rect x="107.81" y="52.33" width="0.8" height="0.8" fill="#bcc0dc"/><rect x="88.15" y="56.19" width="0.8" height="0.8" fill="#b0b4da"/><rect x="101.25" y="81.28" width="0.8" height="0.8" fill="#bcc0dc"/><rect x="88.4" y="79.72" width="0.8" height="0.8" fill="#9aa0d4"/><rect x="84.17" y="44.18" width="0.8" height="0.8" fill="#9aa0d4"/><rect x="91.77" y="92.47" width="0.8" height="0.8" fill="#9aa0d4"/><rect x="114.36" y="85.5" width="0.8" height="0.8" fill="#9aa0d4"/><rect x="116.41" y="42.71" width="0.8" height="0.8" fill="#8890cc"/><rect x="114.4" y="61.49" width="0.8" height="0.8" fill="#9aa0d4"/><rect x="87.48" y="54.64" width="0.8" height="0.8" fill="#8890cc"/><rect x="96.6" y="89.49" width="0.8" height="0.8" fill="#a0a6d0"/><rect x="96.46" y="80.01" width="0.8" height="0.8" fill="#9aa0d4"/><rect x="87.6" y="95.34" width="0.8" height="0.8" fill="#9aa0d4"/><rect x="119.01" y="50.69" width="0.8" height="0.8" fill="#9aa0d4"/><rect x="84.89" y="87.72" width="0.8" height="0.8" fill="#bcc0dc"/><rect x="88.44" y="91.01" width="0.8" height="0.8" fill="#a0a6d0"/><rect x="91.95" y="77.19" width="0.8" height="0.8" fill="#8890cc"/><rect x="105.61" y="89.02" width="0.8" height="0.8" fill="#bcc0dc"/><rect x="79.36" y="45.99" width="0.8" height="0.8" fill="#9aa0d4"/><rect x="101.72" y="73.57" width="0.8" height="0.8" fill="#b4b4cc"/><rect x="109.22" y="68.05" width="0.8" height="0.8" fill="#bcc0dc"/><rect x="107.34" y="88.22" width="0.8" height="0.8" fill="#bcc0dc"/><rect x="105.65" y="53.94" width="0.8" height="0.8" fill="#8890cc"/><rect x="82.82" y="79.53" width="0.8" height="0.8" fill="#b4b4cc"/><rect x="110.78" y="72.38" width="0.8" height="0.8" fill="#b4b4cc"/><rect x="112.58" y="75.4" width="0.8" height="0.8" fill="#9aa0d4"/><rect x="89.37" y="59.88" width="0.8" height="0.8" fill="#9aa0d4"/><rect x="78.01" y="92.66" width="0.8" height="0.8" fill="#bcc0dc"/><rect x="111.51" y="92.84" width="0.8" height="0.8" fill="#9aa0d4"/><rect x="83.7" y="62.18" width="0.8" height="0.8" fill="#9aa0d4"/><rect x="117.51" y="93.53" width="0.8" height="0.8" fill="#b4b4cc"/><rect x="79.89" y="58.23" width="0.8" height="0.8" fill="#a0a6d0"/><rect x="100.34" y="61.77" width="0.8" height="0.8" fill="#8890cc"/><rect x="112.47" y="58.63" width="0.8" height="0.8" fill="#8890cc"/><rect x="83.49" y="99.1" width="0.8" height="0.8" fill="#9aa0d4"/><rect x="86.4" y="95.5" width="0.8" height="0.8" fill="#b4b4cc"/><rect x="80.16" y="82.19" width="0.8" height="0.8" fill="#8890cc"/><rect x="101.14" y="44.37" width="0.8" height="0.8" fill="#9aa0d4"/><rect x="110.77" y="73.17" width="0.8" height="0.8" fill="#b4b4cc"/><rect x="79.65" y="68.49" width="0.8" height="0.8" fill="#a0a6d0"/><rect x="105.87" y="60.45" width="0.8" height="0.8" fill="#9aa0d4"/><rect x="82.11" y="76.53" width="0.8" height="0.8" fill="#bcc0dc"/><rect x="97.06" y="86.42" width="0.8" height="0.8" fill="#a0a6d0"/><rect x="97.9" y="57.13" width="0.8" height="0.8" fill="#b4b4cc"/><rect x="103.12" y="96.81" width="0.8" height="0.8" fill="#a0a6d0"/><rect x="120.46" y="85.51" width="0.8" height="0.8" fill="#a0a6d0"/><rect x="114.06" y="100.08" width="0.8" height="0.8" fill="#b4b4cc"/><rect x="118.57" y="89.02" width="0.8" height="0.8" fill="#a0a6d0"/><rect x="84.94" y="78.25" width="0.8" height="0.8" fill="#b0b4da"/><rect x="113.3" y="47.43" width="0.8" height="0.8" fill="#9aa0d4"/><rect x="104.86" y="95.09" width="0.8" height="0.8" fill="#8890cc"/><rect x="90.28" y="80.48" width="0.8" height="0.8" fill="#9aa0d4"/><rect x="87.04" y="79.93" width="0.8" height="0.8" fill="#b0b4da"/><rect x="77.07" y="105.08" width="0.8" height="0.8" fill="#b0b3d8"/><rect x="105.58" y="105.34" width="0.8" height="0.8" fill="#b0b3d8"/><rect x="78.63" y="106.92" width="0.8" height="0.8" fill="#b0b3d8"/><rect x="105.79" y="104.96" width="0.8" height="0.8" fill="#b0b3d8"/><rect x="94.44" y="103.62" width="0.8" height="0.8" fill="#b0b3d8"/><rect x="81.29" y="103.57" width="0.8" height="0.8" fill="#b0b3d8"/><rect x="85.93" y="109.03" width="0.8" height="0.8" fill="#b0b3d8"/><rect x="105.21" y="102.74" width="0.8" height="0.8" fill="#b0b3d8"/><rect x="93.37" y="104.54" width="0.8" height="0.8" fill="#b0b3d8"/><rect x="85.64" y="105.29" width="0.8" height="0.8" fill="#b0b3d8"/><rect x="95.1" y="107.29" width="0.8" height="0.8" fill="#b0b3d8"/><rect x="78.82" y="108.62" width="0.8" height="0.8" fill="#b0b3d8"/><rect x="103.08" y="109.9" width="0.8" height="0.8" fill="#b0b3d8"/><rect x="99.67" y="107.94" width="0.8" height="0.8" fill="#b0b3d8"/><rect x="77.19" y="104.84" width="0.8" height="0.8" fill="#b0b3d8"/><rect x="85.97" y="109.52" width="0.8" height="0.8" fill="#b0b3d8"/><rect x="103.4" y="102.88" width="0.8" height="0.8" fill="#b0b3d8"/><rect x="76.97" y="108.12" width="0.8" height="0.8" fill="#b0b3d8"/><rect x="75.33" y="109.64" width="0.8" height="0.8" fill="#b0b3d8"/><rect x="106.7" y="106.36" width="0.8" height="0.8" fill="#b0b3d8"/><rect x="87.56" y="108.92" width="0.8" height="0.8" fill="#b0b3d8"/><rect x="90.46" y="103.02" width="0.8" height="0.8" fill="#b0b3d8"/><rect x="103.97" y="103.81" width="0.8" height="0.8" fill="#b0b3d8"/><rect x="111.1" y="104.03" width="0.8" height="0.8" fill="#b0b3d8"/><rect x="106.15" y="104.81" width="0.8" height="0.8" fill="#b0b3d8"/><rect x="111.72" y="105.05" width="0.8" height="0.8" fill="#b0b3d8"/><rect x="103.26" y="103.7" width="0.8" height="0.8" fill="#b0b3d8"/><rect x="102.68" y="109.57" width="0.8" height="0.8" fill="#b0b3d8"/><rect x="117.53" y="101.92" width="0.8" height="0.8" fill="#b0b3d8"/><rect x="105.95" y="105.62" width="0.8" height="0.8" fill="#b0b3d8"/><rect x="104.54" y="101.52" width="0.8" height="0.8" fill="#b0b3d8"/><rect x="94.26" y="105.39" width="0.8" height="0.8" fill="#b0b3d8"/><rect x="98.56" y="107.33" width="0.8" height="0.8" fill="#b0b3d8"/><rect x="80.46" y="109.39" width="0.8" height="0.8" fill="#b0b3d8"/><rect x="106.39" y="105.34" width="0.8" height="0.8" fill="#b0b3d8"/><rect x="90.35" y="109.01" width="0.8" height="0.8" fill="#b0b3d8"/><rect x="80.41" y="104.49" width="0.8" height="0.8" fill="#b0b3d8"/><rect x="119.56" y="103.6" width="0.8" height="0.8" fill="#b0b3d8"/><rect x="82.38" y="101.53" width="0.8" height="0.8" fill="#b0b3d8"/><rect x="112.95" y="109.48" width="0.8" height="0.8" fill="#b0b3d8"/><rect x="77.88" y="101.92" width="0.8" height="0.8" fill="#b0b3d8"/></g>
<rect x="77.4" y="40.4" width="45.4" height="61.2" fill="none" stroke="#d23c46" stroke-width="1.3"/>
<text x="0" y="0" font-size="12" font-style="italic" fill="#111" stroke="#111" stroke-width="0.22" text-anchor="middle" transform="translate(17.1,67) rotate(-90)">SSC</text>
<text x="84.8" y="141.6" font-size="12.2" font-weight="normal" font-style="italic" text-anchor="middle" fill="#111" stroke="#111" stroke-width="0.22" >CD11b</text>
<rect x="170.4" y="29.5" width="84.2" height="84.1" fill="none" stroke="#9a9a9a" stroke-width="1"/>
<line x1="154.4" y1="32.8" x2="154.4" y2="115" stroke="#000" stroke-width="1.7"/>
<polygon points="154.4,27.8 151.1,34.4 157.7,34.4" fill="#000"/>
<line x1="164.8" y1="128.4" x2="247" y2="128.4" stroke="#000" stroke-width="1.7"/>
<polygon points="252,128.4 245.4,125.1 245.4,131.7" fill="#000"/>
<text x="166.9" y="115.1" font-size="4.5" font-weight="bold" font-style="normal" text-anchor="end" fill="#505050" >0</text>
<text x="166.9" y="98.28" font-size="4.5" font-weight="bold" font-style="normal" text-anchor="end" fill="#505050" >20</text>
<text x="166.9" y="81.46" font-size="4.5" font-weight="bold" font-style="normal" text-anchor="end" fill="#505050" >40</text>
<text x="166.9" y="64.64" font-size="4.5" font-weight="bold" font-style="normal" text-anchor="end" fill="#505050" >60</text>
<text x="166.9" y="47.82" font-size="4.5" font-weight="bold" font-style="normal" text-anchor="end" fill="#505050" >80</text>
<text x="166.9" y="31" font-size="4.5" font-weight="bold" font-style="normal" text-anchor="end" fill="#505050" >100</text>
<text x="170.9" y="123.4" font-size="4.5" font-weight="bold" fill="#505050" text-anchor="middle">10<tspan font-size="3.3" dy="-1.8">0</tspan></text>
<text x="191.95" y="123.4" font-size="4.5" font-weight="bold" fill="#505050" text-anchor="middle">10<tspan font-size="3.3" dy="-1.8">1</tspan></text>
<text x="213" y="123.4" font-size="4.5" font-weight="bold" fill="#505050" text-anchor="middle">10<tspan font-size="3.3" dy="-1.8">2</tspan></text>
<text x="234.05" y="123.4" font-size="4.5" font-weight="bold" fill="#505050" text-anchor="middle">10<tspan font-size="3.3" dy="-1.8">3</tspan></text>
<text x="214.4" y="22.6" font-size="12" font-style="italic" text-anchor="middle" fill="#111" stroke="#111" stroke-width="0.22">CD11b<tspan font-size="7.8" dy="-4.3">+</tspan><tspan dy="4.3"> cells</tspan></text>
<text x="210.5" y="142.5" font-size="12.2" font-weight="normal" font-style="italic" text-anchor="middle" fill="#111" stroke="#111" stroke-width="0.22" >Mrc-1</text>
<text x="0" y="0" font-size="12" font-style="italic" text-anchor="middle" fill="#111" stroke="#111" stroke-width="0.22" transform="translate(146.3,67.05) rotate(-90)">Cell number</text>
<text x="250" y="42.4" font-size="12" text-anchor="end" fill="#1c1cb4" stroke="#1c1cb4" stroke-width="0.22">day0</text>
<text x="250" y="56.0" font-size="12" text-anchor="end" fill="#c02828" stroke="#c02828" stroke-width="0.22">day7</text>
<polyline points="170.4,111.12 170.9,107.85 171.4,111.06 171.9,110 172.4,108.68 172.91,112.62 173.41,109 173.91,111.35 174.41,109.7 174.91,112.25 175.41,109.8 175.91,111.55 176.41,112.81 176.92,109.28 177.42,110.45 177.92,106.71 178.42,105.17 178.92,110.24 179.42,108.11 179.92,102.8 180.42,108.12 180.93,105.77 181.43,103.93 181.93,106.95 182.43,98.65 182.93,103.88 183.43,100.09 183.93,98.55 184.43,103.62 184.93,96.75 185.44,100.27 185.94,90.31 186.44,99.76 186.94,86.47 187.44,83.09 187.94,82.37 188.44,72.3 188.94,94.11 189.45,63.98 189.95,85.46 190.45,55.01 190.95,79.8 191.45,60.48 191.95,73.07 192.45,50.59 192.95,86.96 193.45,57.69 193.96,73.73 194.46,58.9 194.96,41.87 195.46,78.21 195.96,58.59 196.46,81.91 196.96,40.62 197.46,82.09 197.97,38.95 198.47,79.7 198.97,74.18 199.47,84.15 199.97,85.58 200.47,56.97 200.97,74.92 201.47,89.91 201.97,58.82 202.48,89.81 202.98,77.81 203.48,69.99 203.98,90.2 204.48,75.03 204.98,80.95 205.48,87.05 205.98,81.09 206.49,57.88 206.99,49.85 207.49,78.41 207.99,51.52 208.49,88.18 208.99,56.83 209.49,81.34 209.99,60.37 210.5,56.86 211,86.85 211.5,53.86 212,65.58 212.5,70.04 213,59.8 213.5,79.47 214,47.59 214.5,73.68 215.01,63.85 215.51,72.5 216.01,47.27 216.51,82.99 217.01,85.31 217.51,83.43 218.01,52.6 218.51,83.43 219.02,88.58 219.52,64.2 220.02,59.49 220.52,91.85 221.02,88.58 221.52,64.38 222.02,83.86 222.52,70.5 223.03,95.36 223.53,90.15 224.03,90.92 224.53,80.96 225.03,101.05 225.53,94.56 226.03,89.72 226.53,101 227.03,91.53 227.54,89.11 228.04,90.58 228.54,100.95 229.04,93.04 229.54,94.62 230.04,95.15 230.54,101.46 231.04,95.15 231.55,104.08 232.05,96.35 232.55,103.74 233.05,95.69 233.55,100.92 234.05,106.32 234.55,98.61 235.05,104.74 235.55,102.18 236.06,106.62 236.56,102.47 237.06,107.68 237.56,108.01 238.06,101.03 238.56,101.87 239.06,103.72 239.56,103.82 240.07,107.02 240.57,108.86 241.07,105.4 241.57,108.92 242.07,110.29 242.57,106.44 243.07,109.25 243.57,109.07 244.07,110.66 244.58,109.77 245.08,108.31 245.58,112.22 246.08,111.77 246.58,110.77 247.08,113.02 247.58,111.63 248.08,112.14 248.59,112.95 249.09,112.74 249.59,113.26 250.09,113 250.59,113.26 251.09,113.26 251.59,113.26 252.09,113.26 252.6,113.26 253.1,113.26 253.6,113.26 254.1,113.26 254.6,113.26" fill="none" stroke="#e41c1c" stroke-width="0.65" stroke-opacity="1.0" stroke-linejoin="bevel"/>
<polyline points="170.8,46.32 170.4,113.26 170.9,113.14 171.4,113.26 171.9,113.13 172.4,112.62 172.91,113.24 173.41,112.27 173.91,112.17 174.41,112.16 174.91,113.15 175.41,111.51 175.91,111.86 176.41,111.43 176.92,111.39 177.42,111.61 177.92,111.48 178.42,110.48 178.92,111.46 179.42,110.19 179.92,110.89 180.42,109.08 180.93,109.12 181.43,106.66 181.93,107.73 182.43,105.43 182.93,105.48 183.43,103.67 183.93,102.55 184.43,103.01 184.93,98.11 185.44,99.2 185.94,94.09 186.44,97.05 186.94,93.96 187.44,87.6 187.94,89.81 188.44,82.29 188.94,78.82 189.45,85.77 189.95,83.02 190.45,74.37 190.95,79.01 191.45,62.4 191.95,69.4 192.45,53.42 192.95,46.54 193.45,59.6 193.96,39.71 194.46,50.76 194.96,33.34 195.46,33.74 195.96,38.98 196.46,52.61 196.96,44.88 197.46,62.29 197.97,56.22 198.47,67.97 198.97,60.53 199.47,61.01 199.97,69.14 200.47,68.2 200.97,74.73 201.47,74.17 201.97,73.46 202.48,83.46 202.98,80.06 203.48,89.05 203.98,85.84 204.48,93.88 204.98,90.52 205.48,92.81 205.98,98.52 206.49,96.7 206.99,100.46 207.49,100.11 207.99,102.79 208.49,99.93 208.99,102.59 209.49,104.1 209.99,100.98 210.5,103.67 211,101.13 211.5,104.94 212,104.54 212.5,103.7 213,106.04 213.5,107.3 214,107.13 214.5,106.93 215.01,108.21 215.51,108.63 216.01,109.48 216.51,109.08 217.01,110.53 217.51,110.17 218.01,111.12 218.51,111.5 219.02,112.2 219.52,112.17 220.02,112.51 220.52,112.18 221.02,112.62 221.52,112.67 222.02,113.26 222.52,113.26 223.03,113.26 223.53,113.26 224.03,113.26 224.53,113.26 225.03,113.26 225.53,113.26 226.03,113.26 226.53,113.26 227.03,113.26 227.54,113.26 228.04,113.26 228.54,113.26 229.04,113.26 229.54,113.26 230.04,113.26 230.54,113.26 231.04,113.26 231.55,113.26 232.05,113.26 232.55,113.26 233.05,113.26 233.55,113.26 234.05,113.26 234.55,113.26 235.05,113.26 235.55,113.26 236.06,113.26 236.56,113.26 237.06,113.26 237.56,113.26 238.06,113.26 238.56,113.26 239.06,113.26 239.56,113.26 240.07,113.26 240.57,113.26 241.07,113.26 241.57,113.26 242.07,113.26 242.57,113.26 243.07,113.26 243.57,113.26 244.07,113.26 244.58,113.26 245.08,113.26 245.58,113.26 246.08,113.26 246.58,113.26 247.08,113.26 247.58,113.26 248.08,113.26 248.59,113.26 249.09,113.26 249.59,113.26 250.09,113.26 250.59,113.26 251.09,113.26 251.59,113.26 252.09,113.26 252.6,113.26 253.1,113.26 253.6,113.26 254.1,113.26 254.6,113.26" fill="none" stroke="#1a1ad4" stroke-width="0.8" stroke-opacity="1.0" stroke-linejoin="bevel"/>
<rect x="299.6" y="29.5" width="84.5" height="84.1" fill="none" stroke="#9a9a9a" stroke-width="1"/>
<line x1="283.8" y1="32.8" x2="283.8" y2="115" stroke="#000" stroke-width="1.7"/>
<polygon points="283.8,27.8 280.5,34.4 287.1,34.4" fill="#000"/>
<line x1="294" y1="128.4" x2="376.5" y2="128.4" stroke="#000" stroke-width="1.7"/>
<polygon points="381.5,128.4 374.9,125.1 374.9,131.7" fill="#000"/>
<text x="296.1" y="115.1" font-size="4.5" font-weight="bold" font-style="normal" text-anchor="end" fill="#505050" >0</text>
<text x="296.1" y="98.28" font-size="4.5" font-weight="bold" font-style="normal" text-anchor="end" fill="#505050" >20</text>
<text x="296.1" y="81.46" font-size="4.5" font-weight="bold" font-style="normal" text-anchor="end" fill="#505050" >40</text>
<text x="296.1" y="64.64" font-size="4.5" font-weight="bold" font-style="normal" text-anchor="end" fill="#505050" >60</text>
<text x="296.1" y="47.82" font-size="4.5" font-weight="bold" font-style="normal" text-anchor="end" fill="#505050" >80</text>
<text x="296.1" y="31" font-size="4.5" font-weight="bold" font-style="normal" text-anchor="end" fill="#505050" >100</text>
<text x="300.1" y="123.4" font-size="4.5" font-weight="bold" fill="#505050" text-anchor="middle">10<tspan font-size="3.3" dy="-1.8">0</tspan></text>
<text x="321.23" y="123.4" font-size="4.5" font-weight="bold" fill="#505050" text-anchor="middle">10<tspan font-size="3.3" dy="-1.8">1</tspan></text>
<text x="342.35" y="123.4" font-size="4.5" font-weight="bold" fill="#505050" text-anchor="middle">10<tspan font-size="3.3" dy="-1.8">2</tspan></text>
<text x="363.48" y="123.4" font-size="4.5" font-weight="bold" fill="#505050" text-anchor="middle">10<tspan font-size="3.3" dy="-1.8">3</tspan></text>
<text x="337.3" y="22.6" font-size="12" font-style="italic" text-anchor="middle" fill="#111" stroke="#111" stroke-width="0.22">CD11b<tspan font-size="7.8" dy="-4.3">+</tspan><tspan dy="4.3"> cells</tspan></text>
<text x="337.5" y="142.5" font-size="12.2" font-weight="normal" font-style="italic" text-anchor="middle" fill="#111" stroke="#111" stroke-width="0.22" >CD86</text>
<text x="0" y="0" font-size="12" font-style="italic" text-anchor="middle" fill="#111" stroke="#111" stroke-width="0.22" transform="translate(275.6,67.05) rotate(-90)">Cell number</text>
<polyline points="299.6,110.22 300.1,109.84 300.6,109.41 301.1,109.69 301.6,110.18 302.1,109.62 302.6,110.95 303.1,109.86 303.6,110.92 304.1,110.54 304.6,110.75 305.1,109 305.6,108.67 306.1,105.76 306.6,105.02 307.1,103.88 307.6,104.48 308.1,101.08 308.6,101.59 309.1,97.65 309.6,99.06 310.1,98.45 310.6,93.64 311.1,96.25 311.6,91.93 312.1,90.27 312.6,90.36 313.1,91.22 313.6,85.28 314.1,84.55 314.6,82.37 315.1,84.61 315.6,81.23 316.1,81.7 316.6,76.05 317.1,69.8 317.6,73.95 318.1,72.19 318.6,58.31 319.1,61.17 319.6,63.83 320.1,49.11 320.6,45.53 321.1,51.73 321.6,33.52 322.1,47.14 322.6,37.52 323.1,35.35 323.6,47.45 324.1,45.8 324.6,51.73 325.1,47.52 325.6,60.16 326.1,58.14 326.6,73.61 327.1,72.46 327.6,71.14 328.1,80.89 328.6,81.34 329.1,88.33 329.6,87.15 330.1,94.58 330.6,94.28 331.1,101.73 331.6,102.5 332.1,105.23 332.6,104.11 333.1,104.86 333.6,106.96 334.1,106.92 334.6,108.21 335.1,109.25 335.6,108.86 336.1,109.83 336.6,108.61 337.1,110.43 337.6,110.56 338.1,110.94 338.6,109.53 339.1,110.26 339.6,110.7 340.1,110.63 340.6,110.74 341.1,111.69 341.6,110.35 342.1,110.55 342.6,111.85 343.1,110.95 343.6,111.47 344.1,111.78 344.6,112.61 345.1,112.03 345.6,112.12 346.1,112.81 346.6,113.19 347.1,112.57 347.6,113.11 348.1,112.91 348.6,113.01 349.1,112.74 349.6,113.26 350.1,113.25 350.6,113.26 351.1,113.26 351.6,112.9 352.1,113.26 352.6,113.26 353.1,113.26 353.6,113.2 354.1,113.26 354.6,113.03 355.1,113.12 355.6,113.01 356.1,113.26 356.6,113.26 357.1,113.26 357.6,113.14 358.1,113.09 358.6,113.26 359.1,113.26 359.6,113.26 360.1,113.26 360.6,113.26 361.1,113.26 361.6,113.26 362.1,113.26 362.6,113.26 363.1,113.26 363.6,113.26 364.1,113.26 364.6,113.23 365.1,113.26 365.6,113.26 366.1,113.26 366.6,113.26 367.1,113.26 367.6,113.26 368.1,113.26 368.6,113.26 369.1,113.26 369.6,113.26 370.1,113.26 370.6,113.26 371.1,113.26 371.6,113.26 372.1,113.26 372.6,113.26 373.1,113.26 373.6,113.26 374.1,113.26 374.6,113.26 375.1,113.26 375.6,113.26 376.1,113.26 376.6,113.26 377.1,113.26 377.6,113.26 378.1,113.26 378.6,113.26 379.1,113.26 379.6,113.26 380.1,113.26 380.6,113.26 381.1,113.26 381.6,113.26 382.1,113.26 382.6,113.26 383.1,113.26 383.6,113.26 384.1,113.26" fill="none" stroke="#1a1ad4" stroke-width="0.8" stroke-opacity="1.0" stroke-linejoin="bevel"/>
<polyline points="299.6,102.89 300.1,103.81 300.6,107.37 301.1,104.86 301.6,109.26 302.1,108.93 302.6,108.76 303.1,106.11 303.6,105.98 304.1,107.86 304.6,103.59 305.1,102.64 305.6,105.74 306.1,101.71 306.6,103.77 307.1,97.94 307.6,96.52 308.1,99.19 308.6,93.58 309.1,95.89 309.6,89.47 310.1,85.79 310.6,91.12 311.1,83.19 311.6,88.96 312.1,79.97 312.6,85.15 313.1,75.35 313.6,72.08 314.1,80.54 314.6,79.72 315.1,61.19 315.6,57.42 316.1,63.38 316.6,67.77 317.1,51.86 317.6,69.66 318.1,49.5 318.6,47.85 319.1,59.72 319.6,37.26 320.1,44.61 320.6,43.07 321.1,54.8 321.6,41.25 322.1,60.89 322.6,57.09 323.1,67.85 323.6,69.74 324.1,82.91 324.6,74.3 325.1,90.14 325.6,86.85 326.1,98.46 326.6,98.59 327.1,105.41 327.6,104.25 328.1,108.37 328.6,107.9 329.1,110.45 329.6,110.36 330.1,108.9 330.6,110.46 331.1,110.64 331.6,111.16 332.1,111.39 332.6,110.75 333.1,110.95 333.6,111.29 334.1,112.23 334.6,111.47 335.1,112.52 335.6,111.07 336.1,112.34 336.6,111.48 337.1,111.95 337.6,111.45 338.1,112.17 338.6,112.14 339.1,112.73 339.6,111.49 340.1,111.98 340.6,112.24 341.1,113 341.6,112.12 342.1,112.95 342.6,111.67 343.1,113.14 343.6,111.87 344.1,112.78 344.6,112.88 345.1,112.01 345.6,112.45 346.1,113.26 346.6,112.96 347.1,113.26 347.6,112.66 348.1,112.69 348.6,113.26 349.1,113.26 349.6,113.26 350.1,113.26 350.6,113.26 351.1,113.26 351.6,113.26 352.1,113.02 352.6,113.26 353.1,113.26 353.6,113.26 354.1,113.26 354.6,113.13 355.1,113.26 355.6,113.26 356.1,113.26 356.6,113.14 357.1,113.26 357.6,113.26 358.1,113.26 358.6,113.26 359.1,113.26 359.6,113.26 360.1,113.21 360.6,113.26 361.1,113.26 361.6,113.26 362.1,113.26 362.6,113.26 363.1,113.26 363.6,113.16 364.1,113.26 364.6,113.26 365.1,113.26 365.6,113.26 366.1,113.26 366.6,113.26 367.1,113.26 367.6,113.26 368.1,113.26 368.6,113.26 369.1,113.26 369.6,113.26 370.1,113.26 370.6,113.26 371.1,113.26 371.6,113.26 372.1,113.26 372.6,113.26 373.1,113.26 373.6,113.26 374.1,113.26 374.6,113.26 375.1,113.26 375.6,113.26 376.1,113.26 376.6,113.26 377.1,113.26 377.6,113.26 378.1,113.26 378.6,113.26 379.1,113.26 379.6,113.26 380.1,113.26 380.6,113.26 381.1,113.26 381.6,113.26 382.1,113.26 382.6,113.26 383.1,113.26 383.6,113.26 384.1,113.26" fill="none" stroke="#e41c1c" stroke-width="0.8" stroke-opacity="1.0" stroke-linejoin="bevel"/>
<line x1="299.8" y1="113.6" x2="299.8" y2="29.5" stroke="#8a5a78" stroke-width="1.3"/>
<rect x="431.5" y="29.5" width="84.1" height="84.1" fill="none" stroke="#9a9a9a" stroke-width="1"/>
<line x1="413.2" y1="32.8" x2="413.2" y2="115" stroke="#000" stroke-width="1.7"/>
<polygon points="413.2,27.8 409.9,34.4 416.5,34.4" fill="#000"/>
<line x1="423.1" y1="128.3" x2="505.8" y2="128.3" stroke="#000" stroke-width="1.7"/>
<polygon points="510.8,128.3 504.2,125 504.2,131.6" fill="#000"/>
<text x="428" y="115.1" font-size="4.5" font-weight="bold" font-style="normal" text-anchor="end" fill="#505050" >0</text>
<text x="428" y="98.28" font-size="4.5" font-weight="bold" font-style="normal" text-anchor="end" fill="#505050" >20</text>
<text x="428" y="81.46" font-size="4.5" font-weight="bold" font-style="normal" text-anchor="end" fill="#505050" >40</text>
<text x="428" y="64.64" font-size="4.5" font-weight="bold" font-style="normal" text-anchor="end" fill="#505050" >60</text>
<text x="428" y="47.82" font-size="4.5" font-weight="bold" font-style="normal" text-anchor="end" fill="#505050" >80</text>
<text x="428" y="31" font-size="4.5" font-weight="bold" font-style="normal" text-anchor="end" fill="#505050" >100</text>
<text x="432" y="123.4" font-size="4.5" font-weight="bold" fill="#505050" text-anchor="middle">10<tspan font-size="3.3" dy="-1.8">0</tspan></text>
<text x="453.02" y="123.4" font-size="4.5" font-weight="bold" fill="#505050" text-anchor="middle">10<tspan font-size="3.3" dy="-1.8">1</tspan></text>
<text x="474.05" y="123.4" font-size="4.5" font-weight="bold" fill="#505050" text-anchor="middle">10<tspan font-size="3.3" dy="-1.8">2</tspan></text>
<text x="495.08" y="123.4" font-size="4.5" font-weight="bold" fill="#505050" text-anchor="middle">10<tspan font-size="3.3" dy="-1.8">3</tspan></text>
<text x="469.7" y="22.6" font-size="12" font-style="italic" text-anchor="middle" fill="#111" stroke="#111" stroke-width="0.22">CD11b<tspan font-size="7.8" dy="-4.3">+</tspan><tspan dy="4.3"> cells</tspan></text>
<text x="469.7" y="142.4" font-size="12.2" font-weight="normal" font-style="italic" text-anchor="middle" fill="#111" stroke="#111" stroke-width="0.22" >CD48</text>
<text x="0" y="0" font-size="12" font-style="italic" text-anchor="middle" fill="#111" stroke="#111" stroke-width="0.22" transform="translate(405,67.05) rotate(-90)">Cell number</text>
<polyline points="431.5,112.29 432,111.54 432.5,112.38 433,111.24 433.5,112.56 434,111.71 434.5,112.08 435,112.02 435.5,112.21 436.01,111.19 436.51,112.3 437.01,111.81 437.51,111.71 438.01,111.64 438.51,109.98 439.01,111.36 439.51,110.26 440.01,109.76 440.51,111.13 441.01,108.82 441.51,111.71 442.01,108.98 442.51,107.74 443.01,109.53 443.51,104.72 444.01,107.32 444.52,103.72 445.02,107.37 445.52,99.79 446.02,105.7 446.52,99.96 447.02,105.01 447.52,101.91 448.02,100.36 448.52,93.38 449.02,97.68 449.52,88.39 450.02,99.1 450.52,86.67 451.02,97.53 451.52,80.32 452.02,91.63 452.52,74.96 453.03,72.81 453.53,90.16 454.03,73.76 454.53,84.18 455.03,68.41 455.53,84.76 456.03,57.85 456.53,78.8 457.03,43.29 457.53,76.25 458.03,62.34 458.53,77.24 459.03,62.51 459.53,77.54 460.03,67.46 460.53,73.32 461.04,79.9 461.54,62.82 462.04,81.87 462.54,60.48 463.04,74.35 463.54,54.5 464.04,83.8 464.54,58.68 465.04,80.44 465.54,58.74 466.04,58.01 466.54,55.19 467.04,79.41 467.54,64.46 468.04,76.18 468.54,60.64 469.04,56.19 469.55,80.18 470.05,79.95 470.55,62.93 471.05,78.79 471.55,56.84 472.05,53.57 472.55,80.31 473.05,52.61 473.55,54.01 474.05,79.23 474.55,62.85 475.05,52.61 475.55,74.58 476.05,77.78 476.55,60.65 477.05,76.31 477.55,58.4 478.06,70.49 478.56,86.78 479.06,73.65 479.56,85.83 480.06,70.6 480.56,86.09 481.06,69.61 481.56,89.91 482.06,89.52 482.56,87.1 483.06,90.71 483.56,93.52 484.06,75.43 484.56,77.85 485.06,75.32 485.56,89.25 486.06,77.28 486.57,96.34 487.07,81.82 487.57,91.34 488.07,81.63 488.57,94.12 489.07,91.73 489.57,85.46 490.07,98.14 490.57,87.91 491.07,95.37 491.57,86.09 492.07,98.36 492.57,93.15 493.07,90.37 493.57,93.46 494.07,93.67 494.58,100.46 495.08,97.56 495.58,90.52 496.08,95.55 496.58,88.47 497.08,93.92 497.58,87.56 498.08,101.08 498.58,103 499.08,95.39 499.58,104.17 500.08,98.99 500.58,98.36 501.08,105.59 501.58,105.55 502.08,103.8 502.58,101.57 503.09,107.9 503.59,104.65 504.09,108.87 504.59,104.55 505.09,107.9 505.59,105.23 506.09,106.7 506.59,110.29 507.09,107.86 507.59,108.55 508.09,108.4 508.59,109.38 509.09,111.49 509.59,109.82 510.09,111.96 510.59,111.82 511.09,111.73 511.6,111.86 512.1,111.65 512.6,113.26 513.1,112.69 513.6,113.07 514.1,113.26 514.6,113.26 515.1,113.26 515.6,113.26" fill="none" stroke="#e41c1c" stroke-width="0.65" stroke-opacity="1.0" stroke-linejoin="bevel"/>
<polyline points="431.5,111.78 432,111.86 432.5,110.94 433,111.16 433.5,109.96 434,109.59 434.5,110.07 435,107.96 435.5,107.63 436.01,107.46 436.51,107.07 437.01,107.35 437.51,107.63 438.01,106.9 438.51,105.69 439.01,104.74 439.51,106.29 440.01,104.14 440.51,104.43 441.01,102.98 441.51,105.04 442.01,104.54 442.51,103.7 443.01,101.41 443.51,102.7 444.01,100.48 444.52,100.49 445.02,99.45 445.52,100.17 446.02,95.15 446.52,95.76 447.02,92.44 447.52,95.22 448.02,93.79 448.52,92.09 449.02,84.32 449.52,89.04 450.02,80.01 450.52,83.65 451.02,80.35 451.52,70.5 452.02,70.21 452.52,70.91 453.03,60.83 453.53,61.74 454.03,54.92 454.53,64.13 455.03,49.98 455.53,53.35 456.03,41.42 456.53,49.81 457.03,35.15 457.53,49.1 458.03,42.53 458.53,49.48 459.03,45.64 459.53,57.38 460.03,47.97 460.53,56.08 461.04,46.11 461.54,60.32 462.04,59.91 462.54,54.15 463.04,59.34 463.54,64.21 464.04,56.63 464.54,70.4 465.04,65.54 465.54,78.8 466.04,72.28 466.54,81.85 467.04,85.66 467.54,82.46 468.04,89.74 468.54,87.85 469.04,93.74 469.55,91.15 470.05,96.57 470.55,94.78 471.05,99.63 471.55,100.99 472.05,100.97 472.55,103.06 473.05,103.06 473.55,104.67 474.05,106.88 474.55,105.7 475.05,107.5 475.55,107.59 476.05,107.54 476.55,108.43 477.05,108.16 477.55,109.58 478.06,109.26 478.56,110.34 479.06,109.73 479.56,110.68 480.06,110.56 480.56,111.87 481.06,111.38 481.56,111.62 482.06,111.55 482.56,111.62 483.06,111.21 483.56,111.28 484.06,111.15 484.56,110.86 485.06,111.39 485.56,110.73 486.06,111.31 486.57,111.04 487.07,111.62 487.57,111.97 488.07,111.49 488.57,111.32 489.07,111.89 489.57,112.09 490.07,110.71 490.57,111.82 491.07,111.33 491.57,110.42 492.07,111.31 492.57,110.61 493.07,110.82 493.57,111.08 494.07,111.17 494.58,110.82 495.08,111.19 495.58,110.82 496.08,110.77 496.58,110.26 497.08,110.38 497.58,110.12 498.08,110.64 498.58,110.86 499.08,109.97 499.58,109.12 500.08,108.45 500.58,110.36 501.08,110.31 501.58,110.7 502.08,110.61 502.58,112.02 503.09,111.69 503.59,112.86 504.09,113.12 504.59,112.83 505.09,112.7 505.59,113.26 506.09,113.26 506.59,113.26 507.09,113.26 507.59,113.26 508.09,113.26 508.59,113.26 509.09,113.26 509.59,113.26 510.09,113.26 510.59,113.26 511.09,113.26 511.6,113.26 512.1,113.26 512.6,113.26 513.1,113.26 513.6,113.26 514.1,113.26 514.6,113.26 515.1,113.26 515.6,113.26" fill="none" stroke="#1a1ad4" stroke-width="0.8" stroke-opacity="1.0" stroke-linejoin="bevel"/>
<line x1="431.7" y1="113.6" x2="431.7" y2="58.09" stroke="#3030c0" stroke-width="1.3"/>
<line x1="431.7" y1="113.6" x2="431.7" y2="80.8" stroke="#a04050" stroke-width="1.3"/>
<rect x="44.4" y="179.4" width="84.1" height="83.6" fill="none" stroke="#9a9a9a" stroke-width="1"/>
<line x1="25.5" y1="182.4" x2="25.5" y2="264.8" stroke="#000" stroke-width="1.7"/>
<polygon points="25.5,177.4 22.2,184 28.8,184" fill="#000"/>
<line x1="35.4" y1="277.7" x2="117.3" y2="277.7" stroke="#000" stroke-width="1.7"/>
<polygon points="122.3,277.7 115.7,274.4 115.7,281" fill="#000"/>
<text x="40.9" y="264.5" font-size="4.5" font-weight="bold" font-style="normal" text-anchor="end" fill="#505050" >0</text>
<text x="40.9" y="247.78" font-size="4.5" font-weight="bold" font-style="normal" text-anchor="end" fill="#505050" >20</text>
<text x="40.9" y="231.06" font-size="4.5" font-weight="bold" font-style="normal" text-anchor="end" fill="#505050" >40</text>
<text x="40.9" y="214.34" font-size="4.5" font-weight="bold" font-style="normal" text-anchor="end" fill="#505050" >60</text>
<text x="40.9" y="197.62" font-size="4.5" font-weight="bold" font-style="normal" text-anchor="end" fill="#505050" >80</text>
<text x="40.9" y="180.9" font-size="4.5" font-weight="bold" font-style="normal" text-anchor="end" fill="#505050" >100</text>
<text x="44.9" y="272.8" font-size="4.5" font-weight="bold" fill="#505050" text-anchor="middle">10<tspan font-size="3.3" dy="-1.8">0</tspan></text>
<text x="65.92" y="272.8" font-size="4.5" font-weight="bold" fill="#505050" text-anchor="middle">10<tspan font-size="3.3" dy="-1.8">1</tspan></text>
<text x="86.95" y="272.8" font-size="4.5" font-weight="bold" fill="#505050" text-anchor="middle">10<tspan font-size="3.3" dy="-1.8">2</tspan></text>
<text x="107.97" y="272.8" font-size="4.5" font-weight="bold" fill="#505050" text-anchor="middle">10<tspan font-size="3.3" dy="-1.8">3</tspan></text>
<text x="85.1" y="171.9" font-size="12" font-style="italic" text-anchor="middle" fill="#111" stroke="#111" stroke-width="0.22">CD11b<tspan font-size="7.8" dy="-4.3">+</tspan><tspan dy="4.3"> cells</tspan></text>
<text x="80" y="291.3" font-size="12.2" font-weight="normal" font-style="italic" text-anchor="middle" fill="#111" stroke="#111" stroke-width="0.22" >Tie-2</text>
<text x="0" y="0" font-size="12" font-style="italic" text-anchor="middle" fill="#111" stroke="#111" stroke-width="0.22" transform="translate(16,216.7) rotate(-90)">Cell number</text>
<polyline points="44.4,260.7 44.9,261.4 45.4,260.79 45.9,261.25 46.4,260.41 46.9,259.64 47.4,260.18 47.9,260.78 48.4,260.65 48.91,260.11 49.41,260.73 49.91,259.73 50.41,258.92 50.91,258.86 51.41,259.94 51.91,258.91 52.41,259.43 52.91,257.97 53.41,258.18 53.91,255.03 54.41,256.53 54.91,254.32 55.41,251.22 55.91,252.77 56.41,252.04 56.91,247.65 57.42,250.21 57.92,246.26 58.42,248.25 58.92,246.91 59.42,245.87 59.92,240.71 60.42,239.7 60.92,235.53 61.42,237.87 61.92,236.4 62.42,227.63 62.92,222.74 63.42,231.21 63.92,217.19 64.42,224.89 64.92,211.22 65.42,221.59 65.93,208.73 66.43,216.1 66.93,198.52 67.43,194.77 67.93,206.76 68.43,190.72 68.93,207.18 69.43,187.08 69.93,197.28 70.43,186.91 70.93,200.7 71.43,187.7 71.93,205.81 72.43,189.69 72.93,208.38 73.43,198.78 73.94,214.44 74.44,206.16 74.94,223.15 75.44,228.94 75.94,224.12 76.44,233.66 76.94,226.07 77.44,231.66 77.94,238.85 78.44,237.38 78.94,243.66 79.44,244.91 79.94,248.66 80.44,251.35 80.94,248.99 81.44,252.72 81.94,252.04 82.45,254.71 82.95,254.56 83.45,255.93 83.95,256.1 84.45,257.95 84.95,257.84 85.45,258.68 85.95,257.92 86.45,258.59 86.95,259.43 87.45,257.32 87.95,258.77 88.45,257.5 88.95,259.64 89.45,257.82 89.95,258.26 90.45,259.35 90.96,257.94 91.46,256.7 91.96,257.29 92.46,257.71 92.96,256.63 93.46,257.7 93.96,258.8 94.46,258.5 94.96,258.59 95.46,259.29 95.96,259.7 96.46,259.95 96.96,260.37 97.46,261.45 97.96,261.28 98.46,261.7 98.96,261.57 99.47,262.67 99.97,262.67 100.47,262.67 100.97,262.67 101.47,262.67 101.97,262.67 102.47,262.67 102.97,262.67 103.47,262.67 103.97,262.67 104.47,262.67 104.97,262.67 105.47,262.67 105.97,262.67 106.47,262.67 106.97,262.67 107.47,262.67 107.98,262.67 108.48,262.67 108.98,262.67 109.48,262.67 109.98,262.67 110.48,262.67 110.98,262.67 111.48,262.67 111.98,262.67 112.48,262.67 112.98,262.67 113.48,262.67 113.98,262.67 114.48,262.67 114.98,262.67 115.48,262.67 115.99,262.67 116.49,262.67 116.99,262.67 117.49,262.67 117.99,262.67 118.49,262.67 118.99,262.67 119.49,262.67 119.99,262.67 120.49,262.67 120.99,262.67 121.49,262.67 121.99,262.67 122.49,262.67 122.99,262.67 123.49,262.67 123.99,262.67 124.5,262.67 125,262.67 125.5,262.67 126,262.67 126.5,262.67 127,262.67 127.5,262.67 128,262.67 128.5,262.67" fill="none" stroke="#e41c1c" stroke-width="0.8" stroke-opacity="1.0" stroke-linejoin="bevel"/>
<polyline points="44.8,183.58 44.4,257.77 44.9,257.12 45.4,257.33 45.9,258.03 46.4,257.18 46.9,257.91 47.4,257.63 47.9,255.98 48.4,255.77 48.91,258.11 49.41,257.82 49.91,257.38 50.41,257.91 50.91,254.1 51.41,255.24 51.91,253.39 52.41,254.15 52.91,251.96 53.41,252.79 53.91,249.66 54.41,247.29 54.91,250.64 55.41,245.15 55.91,246.08 56.41,244.54 56.91,236.42 57.42,240.95 57.92,233.87 58.42,237.85 58.92,231.16 59.42,236.14 59.92,227.79 60.42,223.13 60.92,225.05 61.42,228.13 61.92,218.6 62.42,227.27 62.92,209.89 63.42,204.99 63.92,218.34 64.42,215.58 64.92,204.15 65.42,212.8 65.93,203.95 66.43,208.31 66.93,192.63 67.43,191.67 67.93,202.22 68.43,192.19 68.93,204.18 69.43,211.36 69.93,202.53 70.43,217.27 70.93,212.91 71.43,227.38 71.93,220.28 72.43,229.92 72.93,227.88 73.43,232.99 73.94,242.2 74.44,241.2 74.94,247.27 75.44,248.05 75.94,246.71 76.44,252.6 76.94,252.85 77.44,254.13 77.94,251.58 78.44,246.4 78.94,248.31 79.44,240.67 79.94,246.24 80.44,233.36 80.94,239.61 81.44,224.4 81.94,231.57 82.45,214.65 82.95,225.22 83.45,212.8 83.95,218.4 84.45,201.5 84.95,205.81 85.45,216.05 85.95,204.51 86.45,215 86.95,208.56 87.45,199.67 87.95,205.62 88.45,206.39 88.95,208.46 89.45,214.1 89.95,217.15 90.45,227.34 90.96,217.68 91.46,229.61 91.96,234.83 92.46,229.22 92.96,231.26 93.46,241.2 93.96,239.46 94.46,239.53 94.96,244.7 95.46,243.27 95.96,244.77 96.46,250.68 96.96,252.89 97.46,251.7 97.96,253.9 98.46,257.4 98.96,258.77 99.47,258.86 99.97,258.38 100.47,260.17 100.97,259.41 101.47,261.03 101.97,261.85 102.47,262.39 102.97,261.93 103.47,262.67 103.97,262.35 104.47,262.67 104.97,262.67 105.47,262.48 105.97,262.67 106.47,262.67 106.97,262.67 107.47,262.67 107.98,262.67 108.48,262.67 108.98,262.67 109.48,262.67 109.98,262.67 110.48,262.67 110.98,262.67 111.48,262.67 111.98,262.67 112.48,262.67 112.98,262.67 113.48,262.67 113.98,262.67 114.48,262.67 114.98,262.67 115.48,262.67 115.99,262.67 116.49,262.67 116.99,262.67 117.49,262.67 117.99,262.67 118.49,262.67 118.99,262.67 119.49,262.67 119.99,262.67 120.49,262.67 120.99,262.67 121.49,262.67 121.99,262.67 122.49,262.67 122.99,262.67 123.49,262.67 123.99,262.67 124.5,262.67 125,262.67 125.5,262.67 126,262.67 126.5,262.67 127,262.67 127.5,262.67 128,262.67 128.5,262.67" fill="none" stroke="#1a1ad4" stroke-width="0.8" stroke-opacity="1.0" stroke-linejoin="bevel"/>
<rect x="170.9" y="178.5" width="84.6" height="84.1" fill="none" stroke="#9a9a9a" stroke-width="1"/>
<line x1="155" y1="181.9" x2="155" y2="264.5" stroke="#000" stroke-width="1.7"/>
<polygon points="155,176.9 151.7,183.5 158.3,183.5" fill="#000"/>
<line x1="165" y1="277.5" x2="247.5" y2="277.5" stroke="#000" stroke-width="1.7"/>
<polygon points="252.5,277.5 245.9,274.2 245.9,280.8" fill="#000"/>
<text x="167.4" y="264.1" font-size="4.5" font-weight="bold" font-style="normal" text-anchor="end" fill="#505050" >0</text>
<text x="167.4" y="247.28" font-size="4.5" font-weight="bold" font-style="normal" text-anchor="end" fill="#505050" >20</text>
<text x="167.4" y="230.46" font-size="4.5" font-weight="bold" font-style="normal" text-anchor="end" fill="#505050" >40</text>
<text x="167.4" y="213.64" font-size="4.5" font-weight="bold" font-style="normal" text-anchor="end" fill="#505050" >60</text>
<text x="167.4" y="196.82" font-size="4.5" font-weight="bold" font-style="normal" text-anchor="end" fill="#505050" >80</text>
<text x="167.4" y="180" font-size="4.5" font-weight="bold" font-style="normal" text-anchor="end" fill="#505050" >100</text>
<text x="171.4" y="272.4" font-size="4.5" font-weight="bold" fill="#505050" text-anchor="middle">10<tspan font-size="3.3" dy="-1.8">0</tspan></text>
<text x="192.55" y="272.4" font-size="4.5" font-weight="bold" fill="#505050" text-anchor="middle">10<tspan font-size="3.3" dy="-1.8">1</tspan></text>
<text x="213.7" y="272.4" font-size="4.5" font-weight="bold" fill="#505050" text-anchor="middle">10<tspan font-size="3.3" dy="-1.8">2</tspan></text>
<text x="234.85" y="272.4" font-size="4.5" font-weight="bold" fill="#505050" text-anchor="middle">10<tspan font-size="3.3" dy="-1.8">3</tspan></text>
<text x="208.1" y="171.9" font-size="12" font-style="italic" text-anchor="middle" fill="#111" stroke="#111" stroke-width="0.22">CD11b<tspan font-size="7.8" dy="-4.3">+</tspan><tspan dy="4.3"> cells</tspan></text>
<text x="203" y="291.3" font-size="12.2" font-weight="normal" font-style="italic" text-anchor="middle" fill="#111" stroke="#111" stroke-width="0.22" >LYVE-1</text>
<text x="0" y="0" font-size="12" font-style="italic" text-anchor="middle" fill="#111" stroke="#111" stroke-width="0.22" transform="translate(146.3,215.35) rotate(-90)">Cell number</text>
<polyline points="171.3,181.02 170.9,258.55 171.4,258.66 171.9,259.36 172.4,257.09 172.9,259.25 173.4,256.83 173.9,258.36 174.4,258.36 174.9,256.9 175.41,257.36 175.91,258.85 176.41,259.39 176.91,258.9 177.41,255.78 177.91,257.79 178.41,253.53 178.91,253.01 179.41,255.01 179.91,255.71 180.41,255.31 180.91,254.22 181.41,249.41 181.91,247.88 182.41,251.89 182.91,248.88 183.41,252.77 183.92,244.05 184.42,250.25 184.92,249.66 185.42,241.14 185.92,246.97 186.42,239.33 186.92,245.48 187.42,234.16 187.92,233.84 188.42,241.14 188.92,226.02 189.42,223.23 189.92,237.42 190.42,220.19 190.92,231.02 191.42,215.22 191.92,221.77 192.43,206.62 192.93,203.51 193.43,220.68 193.93,183.84 194.43,210.67 194.93,182.09 195.43,213.86 195.93,183.34 196.43,211.9 196.93,184.75 197.43,211.82 197.93,187.13 198.43,210.01 198.93,204.18 199.43,205.87 199.93,216.62 200.43,232.54 200.94,219.2 201.44,223.44 201.94,224.75 202.44,240.91 202.94,237.82 203.44,230.11 203.94,244.05 204.44,239.45 204.94,242.31 205.44,244.65 205.94,241.19 206.44,249.89 206.94,244.45 207.44,251.47 207.94,248.97 208.44,252.67 208.94,251.74 209.45,252.91 209.95,257.78 210.45,259.17 210.95,257.82 211.45,260.13 211.95,260.97 212.45,260.08 212.95,260.74 213.45,261.7 213.95,262.12 214.45,260.97 214.95,260.31 215.45,261.94 215.95,260.71 216.45,260.35 216.95,260.91 217.46,260.37 217.96,260.27 218.46,259.95 218.96,259.93 219.46,259.81 219.96,258.56 220.46,260.24 220.96,260.06 221.46,262.26 221.96,262.26 222.46,262.26 222.96,262.26 223.46,262.26 223.96,262.26 224.46,262.26 224.96,262.26 225.46,262.26 225.97,262.26 226.47,262.26 226.97,262.26 227.47,262.26 227.97,262.26 228.47,262.26 228.97,262.26 229.47,262.26 229.97,262.26 230.47,262.26 230.97,262.26 231.47,262.26 231.97,262.26 232.47,262.26 232.97,262.26 233.47,262.26 233.97,262.26 234.48,262.26 234.98,262.26 235.48,262.26 235.98,262.26 236.48,262.26 236.98,262.26 237.48,262.26 237.98,262.26 238.48,262.26 238.98,262.26 239.48,262.26 239.98,262.26 240.48,262.26 240.98,262.26 241.48,262.26 241.98,262.26 242.48,262.26 242.99,262.26 243.49,262.26 243.99,262.26 244.49,262.26 244.99,262.26 245.49,262.26 245.99,262.26 246.49,262.26 246.99,262.26 247.49,262.26 247.99,262.26 248.49,262.26 248.99,262.26 249.49,262.26 249.99,262.26 250.49,262.26 250.99,262.26 251.5,262.26 252,262.26 252.5,262.26 253,262.26 253.5,262.26 254,262.26 254.5,262.26 255,262.26 255.5,262.26" fill="none" stroke="#e41c1c" stroke-width="0.8" stroke-opacity="1.0" stroke-linejoin="bevel"/>
<polyline points="170.9,259.52 171.4,259.95 171.9,260.23 172.4,258.9 172.9,259.32 173.4,258.8 173.9,260.05 174.4,259.2 174.9,258.75 175.41,260.09 175.91,258.91 176.41,259.14 176.91,258.91 177.41,258.82 177.91,258.81 178.41,259.17 178.91,258.58 179.41,259.86 179.91,257.36 180.41,257.14 180.91,258.39 181.41,255.29 181.91,253.67 182.41,254.78 182.91,252.31 183.41,251.8 183.92,249.93 184.42,250.9 184.92,244.93 185.42,248.27 185.92,240.56 186.42,244.92 186.92,237.08 187.42,235.22 187.92,240.29 188.42,237.25 188.92,231.5 189.42,233.9 189.92,232.48 190.42,221.9 190.92,230.42 191.42,213.9 191.92,214.55 192.43,212.26 192.93,202.22 193.43,200.34 193.93,194.02 194.43,203.79 194.93,184.28 195.43,206.16 195.93,186.82 196.43,209.56 196.93,200.52 197.43,190.31 197.93,211.58 198.43,199.81 198.93,210.2 199.43,208.86 199.93,223.24 200.43,214.13 200.94,229.63 201.44,229.87 201.94,230.68 202.44,226.65 202.94,238.84 203.44,233.13 203.94,241.5 204.44,243.19 204.94,244.82 205.44,242.84 205.94,244.2 206.44,249.25 206.94,249.06 207.44,252.95 207.94,251.13 208.44,253.7 208.94,256.37 209.45,255.99 209.95,259.28 210.45,259.05 210.95,259.48 211.45,260.14 211.95,260.22 212.45,261.73 212.95,261.57 213.45,261.78 213.95,262.26 214.45,262.26 214.95,262.26 215.45,262.26 215.95,261.92 216.45,262.26 216.95,262.26 217.46,262.26 217.96,262.26 218.46,262.2 218.96,262 219.46,261.39 219.96,259.18 220.46,259.85 220.96,259.53 221.46,260.75 221.96,262.1 222.46,262.26 222.96,262.26 223.46,262.26 223.96,262.26 224.46,262.26 224.96,262.26 225.46,262.26 225.97,262.26 226.47,262.26 226.97,262.26 227.47,262.26 227.97,262.26 228.47,262.26 228.97,262.26 229.47,262.26 229.97,262.26 230.47,262.26 230.97,262.26 231.47,262.26 231.97,262.26 232.47,262.26 232.97,262.26 233.47,262.26 233.97,262.26 234.48,262.26 234.98,262.26 235.48,262.26 235.98,262.26 236.48,262.26 236.98,262.26 237.48,262.26 237.98,262.26 238.48,262.26 238.98,262.26 239.48,262.26 239.98,262.26 240.48,262.26 240.98,262.26 241.48,262.26 241.98,262.26 242.48,262.26 242.99,262.26 243.49,262.26 243.99,262.26 244.49,262.26 244.99,262.26 245.49,262.26 245.99,262.26 246.49,262.26 246.99,262.26 247.49,262.26 247.99,262.26 248.49,262.26 248.99,262.26 249.49,262.26 249.99,262.26 250.49,262.26 250.99,262.26 251.5,262.26 252,262.26 252.5,262.26 253,262.26 253.5,262.26 254,262.26 254.5,262.26 255,262.26 255.5,262.26" fill="none" stroke="#1a1ad4" stroke-width="0.8" stroke-opacity="1.0" stroke-linejoin="bevel"/>
<line x1="171.1" y1="262.6" x2="171.1" y2="178.5" stroke="#a86080" stroke-width="1.3"/>
<line x1="171.1" y1="262.6" x2="171.1" y2="224.75" stroke="#3a2aa0" stroke-width="1.3"/>
<rect x="295.9" y="176.4" width="84.6" height="84.4" fill="none" stroke="#9a9a9a" stroke-width="1"/>
<line x1="283.7" y1="182.2" x2="283.7" y2="264.5" stroke="#000" stroke-width="1.7"/>
<polygon points="283.7,177.2 280.4,183.8 287,183.8" fill="#000"/>
<line x1="293.8" y1="277.5" x2="376.2" y2="277.5" stroke="#000" stroke-width="1.7"/>
<polygon points="381.2,277.5 374.6,274.2 374.6,280.8" fill="#000"/>
<text x="292.4" y="262.3" font-size="4.5" font-weight="bold" font-style="normal" text-anchor="end" fill="#505050" >0</text>
<text x="292.4" y="245.42" font-size="4.5" font-weight="bold" font-style="normal" text-anchor="end" fill="#505050" >20</text>
<text x="292.4" y="228.54" font-size="4.5" font-weight="bold" font-style="normal" text-anchor="end" fill="#505050" >40</text>
<text x="292.4" y="211.66" font-size="4.5" font-weight="bold" font-style="normal" text-anchor="end" fill="#505050" >60</text>
<text x="292.4" y="194.78" font-size="4.5" font-weight="bold" font-style="normal" text-anchor="end" fill="#505050" >80</text>
<text x="292.4" y="177.9" font-size="4.5" font-weight="bold" font-style="normal" text-anchor="end" fill="#505050" >100</text>
<text x="296.4" y="270.6" font-size="4.5" font-weight="bold" fill="#505050" text-anchor="middle">10<tspan font-size="3.3" dy="-1.8">0</tspan></text>
<text x="317.55" y="270.6" font-size="4.5" font-weight="bold" fill="#505050" text-anchor="middle">10<tspan font-size="3.3" dy="-1.8">1</tspan></text>
<text x="338.7" y="270.6" font-size="4.5" font-weight="bold" fill="#505050" text-anchor="middle">10<tspan font-size="3.3" dy="-1.8">2</tspan></text>
<text x="359.85" y="270.6" font-size="4.5" font-weight="bold" fill="#505050" text-anchor="middle">10<tspan font-size="3.3" dy="-1.8">3</tspan></text>
<text x="337" y="171.9" font-size="12" font-style="italic" text-anchor="middle" fill="#111" stroke="#111" stroke-width="0.22">CD11b<tspan font-size="7.8" dy="-4.3">+</tspan><tspan dy="4.3"> cells</tspan></text>
<text x="335.6" y="291.3" font-size="12.2" font-weight="normal" font-style="italic" text-anchor="middle" fill="#111" stroke="#111" stroke-width="0.22" >VEGFR1</text>
<text x="0" y="0" font-size="12" font-style="italic" text-anchor="middle" fill="#111" stroke="#111" stroke-width="0.22" transform="translate(275.8,216.2) rotate(-90)">Cell number</text>
<polyline points="295.9,246.76 296.4,252 296.9,246.39 297.4,246.24 297.9,253.59 298.4,254.01 298.9,251.4 299.4,255.02 299.9,253.04 300.41,246.39 300.91,251.98 301.41,246.65 301.91,249.86 302.41,244.06 302.91,238.5 303.41,247.38 303.91,236.11 304.41,243.15 304.91,242.01 305.41,227.89 305.91,237.88 306.41,224.32 306.91,239.07 307.41,241.36 307.91,239.6 308.41,232.16 308.92,234.74 309.42,212.59 309.92,228.8 310.42,196.78 310.92,211.38 311.42,198.06 311.92,207.82 312.42,186.86 312.92,221.27 313.42,178.93 313.92,206.66 314.42,184.09 314.92,212.72 315.42,181.88 315.92,206.14 316.42,194.47 316.92,191.57 317.43,218.31 317.93,224.06 318.43,191.99 318.93,224.44 319.43,206.87 319.93,222.13 320.43,205.06 320.93,213.65 321.43,233.63 321.93,217.96 322.43,234.73 322.93,223.31 323.43,238.59 323.93,234.16 324.43,223.74 324.93,242.22 325.43,232.1 325.94,244.1 326.44,236.1 326.94,244.4 327.44,237.21 327.94,237.68 328.44,246.18 328.94,237.85 329.44,237.51 329.94,245.49 330.44,229.13 330.94,240.47 331.44,234.68 331.94,224.07 332.44,233.94 332.94,233.69 333.44,215.65 333.94,234.87 334.45,217.59 334.95,224.53 335.45,208.89 335.95,225.75 336.45,206.9 336.95,220.1 337.45,212.71 337.95,202.18 338.45,219.18 338.95,197.23 339.45,215.96 339.95,221.54 340.45,198.84 340.95,194.01 341.45,192.12 341.95,188.77 342.46,218.66 342.96,188.7 343.46,188.28 343.96,219.65 344.46,198.98 344.96,193.44 345.46,220.85 345.96,200.18 346.46,223.35 346.96,188.7 347.46,207.61 347.96,188.67 348.46,194.76 348.96,214.32 349.46,198.2 349.96,225.96 350.46,230.99 350.97,215.78 351.47,235.05 351.97,231.18 352.47,234.27 352.97,243.42 353.47,239.95 353.97,241.85 354.47,250.3 354.97,253.05 355.47,251.4 355.97,256.52 356.47,255.55 356.97,256.37 357.47,258.26 357.97,256.9 358.47,256.8 358.97,258.78 359.48,259.03 359.98,259.38 360.48,258.49 360.98,259.29 361.48,260.46 361.98,259.24 362.48,259.93 362.98,260.17 363.48,260.46 363.98,258.53 364.48,259.09 364.98,256.09 365.48,259.05 365.98,259.54 366.48,260.04 366.98,260.46 367.48,260.46 367.99,260.13 368.49,259.06 368.99,258.87 369.49,259.39 369.99,258.62 370.49,256.58 370.99,258.28 371.49,259.78 371.99,260.46 372.49,260.46 372.99,260.46 373.49,260.46 373.99,260.46 374.49,260.46 374.99,260.46 375.49,260.46 375.99,260.46 376.5,260.46 377,260.46 377.5,260.46 378,260.46 378.5,260.46 379,260.46 379.5,260.46 380,260.46 380.5,260.46" fill="none" stroke="#e41c1c" stroke-width="0.8" stroke-opacity="1.0" stroke-linejoin="bevel"/>
<polyline points="295.9,260.46 296.4,258.57 296.9,259.28 297.4,258.43 297.9,257.65 298.4,258.6 298.9,257.15 299.4,258.42 299.9,259.8 300.41,256.17 300.91,257.52 301.41,257.47 301.91,255.78 302.41,257.71 302.91,255.78 303.41,257.57 303.91,253.93 304.41,257.1 304.91,251.68 305.41,253.38 305.91,253.09 306.41,254.57 306.91,243.53 307.41,245.13 307.91,248.25 308.41,249.82 308.92,239.12 309.42,246.3 309.92,249.89 310.42,230.61 310.92,240.25 311.42,229.31 311.92,245.69 312.42,242.83 312.92,227.76 313.42,238.46 313.92,225.58 314.42,230.94 314.92,215.32 315.42,217.79 315.92,233.32 316.42,238.53 316.92,237.26 317.43,208.58 317.93,213.62 318.43,238.18 318.93,207.7 319.43,232.22 319.93,215.48 320.43,215.84 320.93,240.12 321.43,226.74 321.93,244.45 322.43,226.52 322.93,240.79 323.43,231.35 323.93,249.33 324.43,235.73 324.93,237.73 325.43,249.46 325.94,246.74 326.44,245.21 326.94,252.76 327.44,245 327.94,253.86 328.44,253.73 328.94,253.74 329.44,248.9 329.94,254.89 330.44,256.33 330.94,255.48 331.44,257.78 331.94,255.25 332.44,252.59 332.94,258.12 333.44,251.5 333.94,255.08 334.45,252.15 334.95,250.67 335.45,255.54 335.95,251.27 336.45,248.32 336.95,257.03 337.45,252.4 337.95,256.55 338.45,255.97 338.95,255.1 339.45,257.16 339.95,255.52 340.45,257.47 340.95,255.86 341.45,259.79 341.95,256.65 342.46,256.65 342.96,259.67 343.46,259.01 343.96,258.06 344.46,259.64 344.96,257.66 345.46,258.72 345.96,258.66 346.46,259.9 346.96,260.44 347.46,258.72 347.96,260.46 348.46,260.46 348.96,260.46 349.46,260.46 349.96,259.42 350.46,260.46 350.97,260.46 351.47,260.46 351.97,260 352.47,259.96 352.97,260.46 353.47,260.46 353.97,260.46 354.47,260.46 354.97,260.46 355.47,260.46 355.97,260.46 356.47,260.46 356.97,260.46 357.47,260.46 357.97,260.46 358.47,260.46 358.97,260.46 359.48,260.46 359.98,260.46 360.48,260.46 360.98,260.46 361.48,260.46 361.98,260.46 362.48,260.46 362.98,260.46 363.48,260.46 363.98,260.46 364.48,260.46 364.98,260.46 365.48,260.46 365.98,260.46 366.48,260.46 366.98,260.46 367.48,260.46 367.99,260.46 368.49,260.46 368.99,260.46 369.49,260.46 369.99,260.46 370.49,260.46 370.99,260.46 371.49,260.46 371.99,260.46 372.49,260.46 372.99,260.46 373.49,260.46 373.99,260.46 374.49,260.46 374.99,260.46 375.49,260.46 375.99,260.46 376.5,260.46 377,260.46 377.5,260.46 378,260.46 378.5,260.46 379,260.46 379.5,260.46 380,260.46 380.5,260.46" fill="none" stroke="#1a1ad4" stroke-width="0.6" stroke-opacity="1.0" stroke-linejoin="bevel"/>
<line x1="296.1" y1="260.8" x2="296.1" y2="176.4" stroke="#8a5a78" stroke-width="1.3"/>
<text x="23" y="462" font-size="10.2" font-weight="normal" font-style="normal" text-anchor="end" fill="#222" >0</text>
<text x="23" y="430.5" font-size="10.2" font-weight="normal" font-style="normal" text-anchor="end" fill="#222" >0.5</text>
<text x="23" y="399" font-size="10.2" font-weight="normal" font-style="normal" text-anchor="end" fill="#222" >1</text>
<text x="23" y="367.5" font-size="10.2" font-weight="normal" font-style="normal" text-anchor="end" fill="#222" >1.5</text>
<line x1="49.1" y1="396.13" x2="49.1" y2="382.9" stroke="#000" stroke-width="1.5"/>
<line x1="46.6" y1="382.9" x2="51.6" y2="382.9" stroke="#000" stroke-width="1.7"/>
<rect x="40.2" y="396.13" width="17.8" height="62.37" fill="#fff" stroke="#000" stroke-width="2"/>
<line x1="80.9" y1="440.99" x2="80.9" y2="433.3" stroke="#000" stroke-width="1.5"/>
<line x1="78.4" y1="433.3" x2="83.4" y2="433.3" stroke="#000" stroke-width="1.7"/>
<rect x="72" y="440.99" width="17.8" height="17.51" fill="#000" stroke="#000" stroke-width="2"/>
<rect x="33" y="364" width="63.8" height="94.5" fill="none" stroke="#000" stroke-width="2"/>
<line x1="81.4" y1="419.7" x2="81.4" y2="426.5" stroke="#000" stroke-width="1.65" stroke-linecap="round"/><line x1="78.4" y1="421.5" x2="84.4" y2="424.7" stroke="#000" stroke-width="1.65" stroke-linecap="round"/><line x1="84.4" y1="421.5" x2="78.4" y2="424.7" stroke="#000" stroke-width="1.65" stroke-linecap="round"/>
<text x="46.6" y="472" font-size="11.8" font-weight="normal" font-style="italic" text-anchor="middle" fill="#111" stroke="#111" stroke-width="0.08" >day0</text>
<text x="81.8" y="472" font-size="11.8" font-weight="normal" font-style="italic" text-anchor="middle" fill="#111" stroke="#111" stroke-width="0.08" >day7</text>
<text x="61.3" y="340.4" font-size="12" font-weight="normal" font-style="italic" text-anchor="middle" fill="#222" stroke="#222" stroke-width="0.05" >Relative nos2</text>
<text x="61.3" y="354.7" font-size="12" font-weight="normal" font-style="italic" text-anchor="middle" fill="#222" stroke="#222" stroke-width="0.05" >expression</text>
<text x="130" y="462" font-size="10.2" font-weight="normal" font-style="normal" text-anchor="end" fill="#222" >0</text>
<text x="130" y="446.25" font-size="10.2" font-weight="normal" font-style="normal" text-anchor="end" fill="#222" >0.2</text>
<text x="130" y="430.5" font-size="10.2" font-weight="normal" font-style="normal" text-anchor="end" fill="#222" >0.4</text>
<text x="130" y="414.75" font-size="10.2" font-weight="normal" font-style="normal" text-anchor="end" fill="#222" >0.6</text>
<text x="130" y="399" font-size="10.2" font-weight="normal" font-style="normal" text-anchor="end" fill="#222" >0.8</text>
<text x="130" y="383.25" font-size="10.2" font-weight="normal" font-style="normal" text-anchor="end" fill="#222" >1</text>
<text x="130" y="367.5" font-size="10.2" font-weight="normal" font-style="normal" text-anchor="end" fill="#222" >1.2</text>
<line x1="155.5" y1="380.22" x2="155.5" y2="372.66" stroke="#000" stroke-width="1.5"/>
<line x1="153" y1="372.66" x2="158" y2="372.66" stroke="#000" stroke-width="1.7"/>
<rect x="146.6" y="380.22" width="17.8" height="78.28" fill="#fff" stroke="#000" stroke-width="2"/>
<line x1="187.3" y1="434.32" x2="187.3" y2="425.66" stroke="#000" stroke-width="1.5"/>
<line x1="184.8" y1="425.66" x2="189.8" y2="425.66" stroke="#000" stroke-width="1.7"/>
<rect x="178.4" y="434.32" width="17.8" height="24.18" fill="#000" stroke="#000" stroke-width="2"/>
<rect x="140" y="364" width="63.5" height="94.5" fill="none" stroke="#000" stroke-width="2"/>
<line x1="187.3" y1="413.3" x2="187.3" y2="420.1" stroke="#000" stroke-width="1.65" stroke-linecap="round"/><line x1="184.3" y1="415.1" x2="190.3" y2="418.3" stroke="#000" stroke-width="1.65" stroke-linecap="round"/><line x1="190.3" y1="415.1" x2="184.3" y2="418.3" stroke="#000" stroke-width="1.65" stroke-linecap="round"/>
<text x="153.6" y="472" font-size="11.8" font-weight="normal" font-style="italic" text-anchor="middle" fill="#111" stroke="#111" stroke-width="0.08" >day0</text>
<text x="188.8" y="472" font-size="11.8" font-weight="normal" font-style="italic" text-anchor="middle" fill="#111" stroke="#111" stroke-width="0.08" >day7</text>
<text x="167" y="342.5" font-size="12" font-weight="normal" font-style="italic" text-anchor="middle" fill="#222" stroke="#222" stroke-width="0.05" >Relative il6</text>
<text x="167" y="356.8" font-size="12" font-weight="normal" font-style="italic" text-anchor="middle" fill="#222" stroke="#222" stroke-width="0.05" >expression</text>
<text x="230" y="462" font-size="10.2" font-weight="normal" font-style="normal" text-anchor="end" fill="#222" >0</text>
<text x="230" y="443.14" font-size="10.2" font-weight="normal" font-style="normal" text-anchor="end" fill="#222" >0.5</text>
<text x="230" y="424.28" font-size="10.2" font-weight="normal" font-style="normal" text-anchor="end" fill="#222" >1</text>
<text x="230" y="405.42" font-size="10.2" font-weight="normal" font-style="normal" text-anchor="end" fill="#222" >1.5</text>
<text x="230" y="386.56" font-size="10.2" font-weight="normal" font-style="normal" text-anchor="end" fill="#222" >2</text>
<text x="230" y="367.7" font-size="10.2" font-weight="normal" font-style="normal" text-anchor="end" fill="#222" >2.5</text>
<line x1="254.9" y1="421.16" x2="254.9" y2="415.31" stroke="#000" stroke-width="1.5"/>
<line x1="252.4" y1="415.31" x2="257.4" y2="415.31" stroke="#000" stroke-width="1.7"/>
<rect x="246" y="421.16" width="17.8" height="37.34" fill="#fff" stroke="#000" stroke-width="2"/>
<line x1="287.2" y1="388.91" x2="287.2" y2="380.04" stroke="#000" stroke-width="1.5"/>
<line x1="284.7" y1="380.04" x2="289.7" y2="380.04" stroke="#000" stroke-width="1.7"/>
<rect x="278.3" y="388.91" width="17.8" height="69.59" fill="#000" stroke="#000" stroke-width="2"/>
<rect x="240" y="364.2" width="63.1" height="94.3" fill="none" stroke="#000" stroke-width="2"/>
<line x1="288.6" y1="367.6" x2="288.6" y2="374.4" stroke="#000" stroke-width="1.65" stroke-linecap="round"/><line x1="285.6" y1="369.4" x2="291.6" y2="372.6" stroke="#000" stroke-width="1.65" stroke-linecap="round"/><line x1="291.6" y1="369.4" x2="285.6" y2="372.6" stroke="#000" stroke-width="1.65" stroke-linecap="round"/>
<text x="253.6" y="472" font-size="11.8" font-weight="normal" font-style="italic" text-anchor="middle" fill="#111" stroke="#111" stroke-width="0.08" >day0</text>
<text x="288.8" y="472" font-size="11.8" font-weight="normal" font-style="italic" text-anchor="middle" fill="#111" stroke="#111" stroke-width="0.08" >day7</text>
<text x="272" y="342.5" font-size="12" font-weight="normal" font-style="italic" text-anchor="middle" fill="#222" stroke="#222" stroke-width="0.05" >Relative mmp2</text>
<text x="272" y="356.8" font-size="12" font-weight="normal" font-style="italic" text-anchor="middle" fill="#222" stroke="#222" stroke-width="0.05" >expression</text>
<text x="327.2" y="462" font-size="10.2" font-weight="normal" font-style="normal" text-anchor="end" fill="#222" >0</text>
<text x="327.2" y="446.28" font-size="10.2" font-weight="normal" font-style="normal" text-anchor="end" fill="#222" >0.5</text>
<text x="327.2" y="430.57" font-size="10.2" font-weight="normal" font-style="normal" text-anchor="end" fill="#222" >1</text>
<text x="327.2" y="414.85" font-size="10.2" font-weight="normal" font-style="normal" text-anchor="end" fill="#222" >1.5</text>
<text x="327.2" y="399.13" font-size="10.2" font-weight="normal" font-style="normal" text-anchor="end" fill="#222" >2</text>
<text x="327.2" y="383.42" font-size="10.2" font-weight="normal" font-style="normal" text-anchor="end" fill="#222" >2.5</text>
<text x="327.2" y="367.7" font-size="10.2" font-weight="normal" font-style="normal" text-anchor="end" fill="#222" >3</text>
<line x1="352.9" y1="427.38" x2="352.9" y2="419.84" stroke="#000" stroke-width="1.5"/>
<line x1="350.4" y1="419.84" x2="355.4" y2="419.84" stroke="#000" stroke-width="1.7"/>
<rect x="344" y="427.38" width="17.8" height="31.12" fill="#fff" stroke="#000" stroke-width="2"/>
<line x1="384.8" y1="387.46" x2="384.8" y2="378.66" stroke="#000" stroke-width="1.5"/>
<line x1="382.3" y1="378.66" x2="387.3" y2="378.66" stroke="#000" stroke-width="1.7"/>
<rect x="375.9" y="387.46" width="17.8" height="71.04" fill="#000" stroke="#000" stroke-width="2"/>
<rect x="337.2" y="364.2" width="63.8" height="94.3" fill="none" stroke="#000" stroke-width="2"/>
<line x1="385.6" y1="368.3" x2="385.6" y2="375.1" stroke="#000" stroke-width="1.65" stroke-linecap="round"/><line x1="382.6" y1="370.1" x2="388.6" y2="373.3" stroke="#000" stroke-width="1.65" stroke-linecap="round"/><line x1="388.6" y1="370.1" x2="382.6" y2="373.3" stroke="#000" stroke-width="1.65" stroke-linecap="round"/>
<text x="351.5" y="472" font-size="11.8" font-weight="normal" font-style="italic" text-anchor="middle" fill="#111" stroke="#111" stroke-width="0.08" >day0</text>
<text x="387.5" y="472" font-size="11.8" font-weight="normal" font-style="italic" text-anchor="middle" fill="#111" stroke="#111" stroke-width="0.08" >day7</text>
<text x="368.7" y="342.5" font-size="12" font-weight="normal" font-style="italic" text-anchor="middle" fill="#222" stroke="#222" stroke-width="0.05" >Relative mmp9</text>
<text x="368.7" y="356.8" font-size="12" font-weight="normal" font-style="italic" text-anchor="middle" fill="#222" stroke="#222" stroke-width="0.05" >expression</text>
<text x="428.1" y="462" font-size="10.2" font-weight="normal" font-style="normal" text-anchor="end" fill="#222" >0</text>
<text x="428.1" y="446.28" font-size="10.2" font-weight="normal" font-style="normal" text-anchor="end" fill="#222" >1</text>
<text x="428.1" y="430.57" font-size="10.2" font-weight="normal" font-style="normal" text-anchor="end" fill="#222" >2</text>
<text x="428.1" y="414.85" font-size="10.2" font-weight="normal" font-style="normal" text-anchor="end" fill="#222" >3</text>
<text x="428.1" y="399.13" font-size="10.2" font-weight="normal" font-style="normal" text-anchor="end" fill="#222" >4</text>
<text x="428.1" y="383.42" font-size="10.2" font-weight="normal" font-style="normal" text-anchor="end" fill="#222" >5</text>
<text x="428.1" y="367.7" font-size="10.2" font-weight="normal" font-style="normal" text-anchor="end" fill="#222" >6</text>
<line x1="456.25" y1="443.25" x2="456.25" y2="440.9" stroke="#000" stroke-width="1.5"/>
<line x1="453.75" y1="440.9" x2="458.75" y2="440.9" stroke="#000" stroke-width="1.7"/>
<rect x="446.1" y="443.25" width="20.3" height="15.25" fill="#fff" stroke="#000" stroke-width="2"/>
<line x1="491.85" y1="393.9" x2="491.85" y2="377.09" stroke="#000" stroke-width="1.5"/>
<line x1="489.35" y1="377.09" x2="494.35" y2="377.09" stroke="#000" stroke-width="1.7"/>
<rect x="481.7" y="393.9" width="20.3" height="64.6" fill="#000" stroke="#000" stroke-width="2"/>
<rect x="438.1" y="364.2" width="71.6" height="94.3" fill="none" stroke="#000" stroke-width="2"/>
<line x1="492.4" y1="366.6" x2="492.4" y2="373.4" stroke="#000" stroke-width="1.65" stroke-linecap="round"/><line x1="489.4" y1="368.4" x2="495.4" y2="371.6" stroke="#000" stroke-width="1.65" stroke-linecap="round"/><line x1="495.4" y1="368.4" x2="489.4" y2="371.6" stroke="#000" stroke-width="1.65" stroke-linecap="round"/>
<text x="457.8" y="472" font-size="11.8" font-weight="normal" font-style="italic" text-anchor="middle" fill="#111" stroke="#111" stroke-width="0.08" >day0</text>
<text x="493.6" y="472" font-size="11.8" font-weight="normal" font-style="italic" text-anchor="middle" fill="#111" stroke="#111" stroke-width="0.08" >day7</text>
<text x="472.1" y="342" font-size="12" font-weight="normal" font-style="italic" text-anchor="middle" fill="#222" stroke="#222" stroke-width="0.05" >Relative mmp13</text>
<text x="472.1" y="356.3" font-size="12" font-weight="normal" font-style="italic" text-anchor="middle" fill="#222" stroke="#222" stroke-width="0.05" >expression</text>
<text x="23.1" y="633.5" font-size="10.2" font-weight="normal" font-style="normal" text-anchor="end" fill="#222" >0</text>
<text x="23.1" y="602.17" font-size="10.2" font-weight="normal" font-style="normal" text-anchor="end" fill="#222" >0.5</text>
<text x="23.1" y="570.83" font-size="10.2" font-weight="normal" font-style="normal" text-anchor="end" fill="#222" >1</text>
<text x="23.1" y="539.5" font-size="10.2" font-weight="normal" font-style="normal" text-anchor="end" fill="#222" >1.5</text>
<line x1="49.3" y1="567.33" x2="49.3" y2="557.31" stroke="#000" stroke-width="1.5"/>
<line x1="46.8" y1="557.31" x2="51.8" y2="557.31" stroke="#000" stroke-width="1.7"/>
<rect x="40.4" y="567.33" width="17.8" height="62.67" fill="#fff" stroke="#000" stroke-width="2"/>
<line x1="80.9" y1="605.75" x2="80.9" y2="595.53" stroke="#000" stroke-width="1.5"/>
<line x1="78.4" y1="595.53" x2="83.4" y2="595.53" stroke="#000" stroke-width="1.7"/>
<rect x="72" y="605.75" width="17.8" height="24.25" fill="#000" stroke="#000" stroke-width="2"/>
<rect x="33.1" y="536" width="63.6" height="94" fill="none" stroke="#000" stroke-width="2"/>
<line x1="81.7" y1="582.85" x2="81.7" y2="589.65" stroke="#000" stroke-width="1.65" stroke-linecap="round"/><line x1="78.7" y1="584.65" x2="84.7" y2="587.85" stroke="#000" stroke-width="1.65" stroke-linecap="round"/><line x1="84.7" y1="584.65" x2="78.7" y2="587.85" stroke="#000" stroke-width="1.65" stroke-linecap="round"/>
<text x="46.7" y="643.5" font-size="11.8" font-weight="normal" font-style="italic" text-anchor="middle" fill="#111" stroke="#111" stroke-width="0.08" >day0</text>
<text x="81.9" y="643.5" font-size="11.8" font-weight="normal" font-style="italic" text-anchor="middle" fill="#111" stroke="#111" stroke-width="0.08" >day7</text>
<text x="61" y="516.3" font-size="12" font-weight="normal" font-style="italic" text-anchor="middle" fill="#222" stroke="#222" stroke-width="0.05" >Relative vegfa</text>
<text x="61" y="530.6" font-size="12" font-weight="normal" font-style="italic" text-anchor="middle" fill="#222" stroke="#222" stroke-width="0.05" >expression</text>
<text x="130" y="633.5" font-size="10.2" font-weight="normal" font-style="normal" text-anchor="end" fill="#222" >0</text>
<text x="130" y="617.83" font-size="10.2" font-weight="normal" font-style="normal" text-anchor="end" fill="#222" >0.2</text>
<text x="130" y="602.17" font-size="10.2" font-weight="normal" font-style="normal" text-anchor="end" fill="#222" >0.4</text>
<text x="130" y="586.5" font-size="10.2" font-weight="normal" font-style="normal" text-anchor="end" fill="#222" >0.6</text>
<text x="130" y="570.83" font-size="10.2" font-weight="normal" font-style="normal" text-anchor="end" fill="#222" >0.8</text>
<text x="130" y="555.17" font-size="10.2" font-weight="normal" font-style="normal" text-anchor="end" fill="#222" >1</text>
<text x="130" y="539.5" font-size="10.2" font-weight="normal" font-style="normal" text-anchor="end" fill="#222" >1.2</text>
<line x1="155.5" y1="551.98" x2="155.5" y2="542.5" stroke="#000" stroke-width="1.5"/>
<line x1="153" y1="542.5" x2="158" y2="542.5" stroke="#000" stroke-width="1.7"/>
<rect x="146.6" y="551.98" width="17.8" height="78.02" fill="#fff" stroke="#000" stroke-width="2"/>
<line x1="187.2" y1="616.61" x2="187.2" y2="609.4" stroke="#000" stroke-width="1.5"/>
<line x1="184.7" y1="609.4" x2="189.7" y2="609.4" stroke="#000" stroke-width="1.7"/>
<rect x="178.3" y="616.61" width="17.8" height="13.39" fill="#000" stroke="#000" stroke-width="2"/>
<rect x="140" y="536" width="63.5" height="94" fill="none" stroke="#000" stroke-width="2"/>
<line x1="188.3" y1="597.85" x2="188.3" y2="604.65" stroke="#000" stroke-width="1.65" stroke-linecap="round"/><line x1="185.3" y1="599.65" x2="191.3" y2="602.85" stroke="#000" stroke-width="1.65" stroke-linecap="round"/><line x1="191.3" y1="599.65" x2="185.3" y2="602.85" stroke="#000" stroke-width="1.65" stroke-linecap="round"/>
<text x="153.6" y="643.5" font-size="11.8" font-weight="normal" font-style="italic" text-anchor="middle" fill="#111" stroke="#111" stroke-width="0.08" >day0</text>
<text x="188.8" y="643.5" font-size="11.8" font-weight="normal" font-style="italic" text-anchor="middle" fill="#111" stroke="#111" stroke-width="0.08" >day7</text>
<text x="174" y="516.3" font-size="12" font-weight="normal" font-style="italic" text-anchor="middle" fill="#222" stroke="#222" stroke-width="0.05" >Relative angpt1</text>
<text x="174" y="530.6" font-size="12" font-weight="normal" font-style="italic" text-anchor="middle" fill="#222" stroke="#222" stroke-width="0.05" >expression</text>
<text x="230" y="633.5" font-size="10.2" font-weight="normal" font-style="normal" text-anchor="end" fill="#222" >0</text>
<text x="230" y="602.17" font-size="10.2" font-weight="normal" font-style="normal" text-anchor="end" fill="#222" >0.5</text>
<text x="230" y="570.83" font-size="10.2" font-weight="normal" font-style="normal" text-anchor="end" fill="#222" >1</text>
<text x="230" y="539.5" font-size="10.2" font-weight="normal" font-style="normal" text-anchor="end" fill="#222" >1.5</text>
<line x1="255.9" y1="567.33" x2="255.9" y2="555.43" stroke="#000" stroke-width="1.5"/>
<line x1="253.4" y1="555.43" x2="258.4" y2="555.43" stroke="#000" stroke-width="1.7"/>
<rect x="247" y="567.33" width="17.8" height="62.67" fill="#fff" stroke="#000" stroke-width="2"/>
<line x1="287.2" y1="605.75" x2="287.2" y2="597.41" stroke="#000" stroke-width="1.5"/>
<line x1="284.7" y1="597.41" x2="289.7" y2="597.41" stroke="#000" stroke-width="1.7"/>
<rect x="278.3" y="605.75" width="17.8" height="24.25" fill="#000" stroke="#000" stroke-width="2"/>
<rect x="240" y="536" width="63.1" height="94" fill="none" stroke="#000" stroke-width="2"/>
<line x1="288.6" y1="582.85" x2="288.6" y2="589.65" stroke="#000" stroke-width="1.65" stroke-linecap="round"/><line x1="285.6" y1="584.65" x2="291.6" y2="587.85" stroke="#000" stroke-width="1.65" stroke-linecap="round"/><line x1="291.6" y1="584.65" x2="285.6" y2="587.85" stroke="#000" stroke-width="1.65" stroke-linecap="round"/>
<text x="253.6" y="643.5" font-size="11.8" font-weight="normal" font-style="italic" text-anchor="middle" fill="#111" stroke="#111" stroke-width="0.08" >day0</text>
<text x="288.8" y="643.5" font-size="11.8" font-weight="normal" font-style="italic" text-anchor="middle" fill="#111" stroke="#111" stroke-width="0.08" >day7</text>
<text x="271.2" y="516.3" font-size="12" font-weight="normal" font-style="italic" text-anchor="middle" fill="#222" stroke="#222" stroke-width="0.05" >Relative cxcl12</text>
<text x="271.2" y="530.6" font-size="12" font-weight="normal" font-style="italic" text-anchor="middle" fill="#222" stroke="#222" stroke-width="0.05" >expression</text>
<text x="327.5" y="633.5" font-size="10.2" font-weight="normal" font-style="normal" text-anchor="end" fill="#222" >0</text>
<text x="327.5" y="614.7" font-size="10.2" font-weight="normal" font-style="normal" text-anchor="end" fill="#222" >0.5</text>
<text x="327.5" y="595.9" font-size="10.2" font-weight="normal" font-style="normal" text-anchor="end" fill="#222" >1</text>
<text x="327.5" y="577.1" font-size="10.2" font-weight="normal" font-style="normal" text-anchor="end" fill="#222" >1.5</text>
<text x="327.5" y="558.3" font-size="10.2" font-weight="normal" font-style="normal" text-anchor="end" fill="#222" >2</text>
<text x="327.5" y="539.5" font-size="10.2" font-weight="normal" font-style="normal" text-anchor="end" fill="#222" >2.5</text>
<line x1="353" y1="592.4" x2="353" y2="588.26" stroke="#000" stroke-width="1.5"/>
<line x1="350.5" y1="588.26" x2="355.5" y2="588.26" stroke="#000" stroke-width="1.7"/>
<rect x="344.1" y="592.4" width="17.8" height="37.6" fill="#fff" stroke="#000" stroke-width="2"/>
<line x1="384.9" y1="565.7" x2="384.9" y2="553.67" stroke="#000" stroke-width="1.5"/>
<line x1="382.4" y1="553.67" x2="387.4" y2="553.67" stroke="#000" stroke-width="1.7"/>
<rect x="376" y="565.7" width="17.8" height="64.3" fill="#000" stroke="#000" stroke-width="2"/>
<rect x="337.5" y="536" width="63.5" height="94" fill="none" stroke="#000" stroke-width="2"/>
<line x1="385.6" y1="540.5" x2="385.6" y2="547.3" stroke="#000" stroke-width="1.65" stroke-linecap="round"/><line x1="382.6" y1="542.3" x2="388.6" y2="545.5" stroke="#000" stroke-width="1.65" stroke-linecap="round"/><line x1="388.6" y1="542.3" x2="382.6" y2="545.5" stroke="#000" stroke-width="1.65" stroke-linecap="round"/>
<text x="351.1" y="643.5" font-size="11.8" font-weight="normal" font-style="italic" text-anchor="middle" fill="#111" stroke="#111" stroke-width="0.08" >day0</text>
<text x="386.3" y="643.5" font-size="11.8" font-weight="normal" font-style="italic" text-anchor="middle" fill="#111" stroke="#111" stroke-width="0.08" >day7</text>
<text x="368.5" y="516.3" font-size="12" font-weight="normal" font-style="italic" text-anchor="middle" fill="#222" stroke="#222" stroke-width="0.05" >Relative csfr-1</text>
<text x="368.5" y="530.6" font-size="12" font-weight="normal" font-style="italic" text-anchor="middle" fill="#222" stroke="#222" stroke-width="0.05" >expression</text>
</svg>
</body></html>
